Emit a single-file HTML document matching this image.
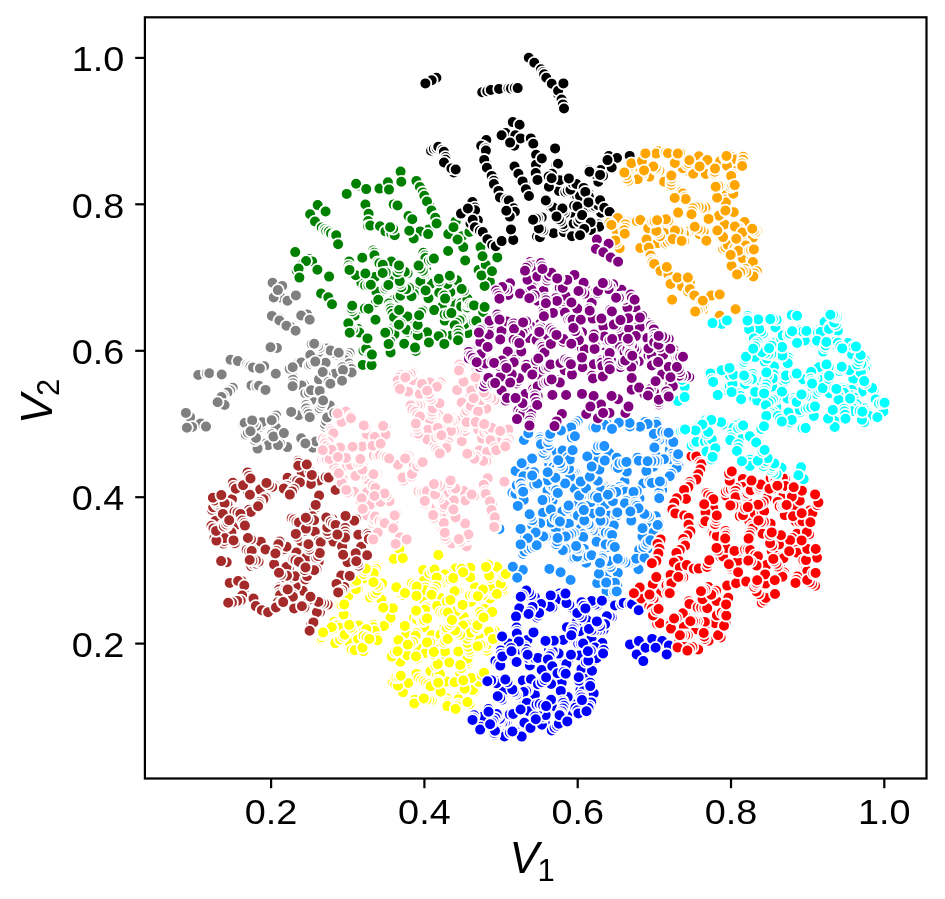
<!DOCTYPE html>
<html lang="en"><head><meta charset="utf-8"><title>V1 vs V2 cluster scatter plot</title>
<style>
html,body{margin:0;padding:0;background:#fff}
body{width:945px;height:899px;overflow:hidden;font-family:"Liberation Sans",sans-serif}
svg{display:block;font-family:"Liberation Sans",sans-serif;will-change:transform}
.tk{font-size:35.9px;fill:#000}
.lb{font-size:44.2px;font-style:italic;fill:#000}
.sb{font-size:31px;font-style:normal}
</style></head><body>
<svg width="945" height="899" viewBox="0 0 945 899" role="img" aria-label="Scatter plot of V2 against V1 coloured by cluster">
<rect width="945" height="899" fill="#fff"/>
<g class="pts" stroke="#fff" stroke-width="1.8">
<g fill="#FFFF00"><circle cx="399.4" cy="549.4" r="5.9"/><circle cx="393.9" cy="559.0" r="5.9"/><circle cx="402.8" cy="558.3" r="5.9"/><circle cx="438.3" cy="555.0" r="5.9"/><circle cx="350.4" cy="640.2" r="5.9"/><circle cx="349.7" cy="642.7" r="5.9"/><circle cx="389.5" cy="620.2" r="5.9"/><circle cx="390.6" cy="617.7" r="5.9"/><circle cx="334.4" cy="621.7" r="5.9"/><circle cx="336.9" cy="624.2" r="5.9"/><circle cx="337.5" cy="625.5" r="5.9"/><circle cx="339.7" cy="627.8" r="5.9"/><circle cx="403.0" cy="595.1" r="5.9"/><circle cx="400.2" cy="592.4" r="5.9"/><circle cx="398.7" cy="589.3" r="5.9"/><circle cx="396.3" cy="587.2" r="5.9"/><circle cx="337.3" cy="639.4" r="5.9"/><circle cx="336.3" cy="641.0" r="5.9"/><circle cx="335.3" cy="643.1" r="5.9"/><circle cx="378.0" cy="580.0" r="5.9"/><circle cx="379.5" cy="581.4" r="5.9"/><circle cx="382.0" cy="583.4" r="5.9"/><circle cx="383.9" cy="626.0" r="5.9"/><circle cx="373.5" cy="624.8" r="5.9"/><circle cx="373.4" cy="627.3" r="5.9"/><circle cx="374.5" cy="630.8" r="5.9"/><circle cx="351.7" cy="649.8" r="5.9"/><circle cx="354.8" cy="650.2" r="5.9"/><circle cx="385.4" cy="604.6" r="5.9"/><circle cx="383.2" cy="602.1" r="5.9"/><circle cx="381.5" cy="599.7" r="5.9"/><circle cx="332.5" cy="629.3" r="5.9"/><circle cx="331.7" cy="627.2" r="5.9"/><circle cx="363.9" cy="571.6" r="5.9"/><circle cx="363.6" cy="573.5" r="5.9"/><circle cx="363.9" cy="575.9" r="5.9"/><circle cx="364.7" cy="578.2" r="5.9"/><circle cx="348.2" cy="596.0" r="5.9"/><circle cx="370.2" cy="597.4" r="5.9"/><circle cx="373.0" cy="594.7" r="5.9"/><circle cx="375.4" cy="593.1" r="5.9"/><circle cx="377.1" cy="590.4" r="5.9"/><circle cx="376.2" cy="566.7" r="5.9"/><circle cx="376.0" cy="568.9" r="5.9"/><circle cx="374.1" cy="571.0" r="5.9"/><circle cx="373.7" cy="573.2" r="5.9"/><circle cx="340.1" cy="639.5" r="5.9"/><circle cx="343.1" cy="636.7" r="5.9"/><circle cx="344.7" cy="634.7" r="5.9"/><circle cx="345.7" cy="615.0" r="5.9"/><circle cx="343.7" cy="614.5" r="5.9"/><circle cx="359.0" cy="633.5" r="5.9"/><circle cx="358.3" cy="630.2" r="5.9"/><circle cx="358.8" cy="627.4" r="5.9"/><circle cx="358.9" cy="625.4" r="5.9"/><circle cx="358.0" cy="588.9" r="5.9"/><circle cx="355.9" cy="589.3" r="5.9"/><circle cx="377.9" cy="586.4" r="5.9"/><circle cx="375.9" cy="584.4" r="5.9"/><circle cx="373.4" cy="582.3" r="5.9"/><circle cx="377.7" cy="638.0" r="5.9"/><circle cx="377.4" cy="640.3" r="5.9"/><circle cx="363.6" cy="631.2" r="5.9"/><circle cx="366.4" cy="629.2" r="5.9"/><circle cx="320.5" cy="639.3" r="5.9"/><circle cx="321.6" cy="637.2" r="5.9"/><circle cx="322.3" cy="634.2" r="5.9"/><circle cx="323.1" cy="632.5" r="5.9"/><circle cx="392.9" cy="608.3" r="5.9"/><circle cx="405.0" cy="593.0" r="5.9"/><circle cx="364.0" cy="637.2" r="5.9"/><circle cx="360.8" cy="638.6" r="5.9"/><circle cx="358.1" cy="639.0" r="5.9"/><circle cx="339.5" cy="604.7" r="5.9"/><circle cx="341.6" cy="605.3" r="5.9"/><circle cx="344.2" cy="604.4" r="5.9"/><circle cx="352.2" cy="629.5" r="5.9"/><circle cx="350.6" cy="627.6" r="5.9"/><circle cx="349.2" cy="624.9" r="5.9"/><circle cx="347.4" cy="584.8" r="5.9"/><circle cx="350.5" cy="582.8" r="5.9"/><circle cx="353.4" cy="581.9" r="5.9"/><circle cx="356.4" cy="580.7" r="5.9"/><circle cx="383.3" cy="607.8" r="5.9"/><circle cx="363.9" cy="573.9" r="5.9"/><circle cx="365.0" cy="571.0" r="5.9"/><circle cx="365.9" cy="568.7" r="5.9"/><circle cx="363.4" cy="651.1" r="5.9"/><circle cx="362.5" cy="647.8" r="5.9"/><circle cx="363.5" cy="635.9" r="5.9"/><circle cx="366.6" cy="637.3" r="5.9"/><circle cx="369.4" cy="638.9" r="5.9"/><circle cx="479.4" cy="588.9" r="5.9"/><circle cx="477.1" cy="587.8" r="5.9"/><circle cx="475.1" cy="587.2" r="5.9"/><circle cx="435.5" cy="643.5" r="5.9"/><circle cx="460.2" cy="673.1" r="5.9"/><circle cx="450.4" cy="570.9" r="5.9"/><circle cx="452.7" cy="569.8" r="5.9"/><circle cx="455.6" cy="568.6" r="5.9"/><circle cx="495.0" cy="631.3" r="5.9"/><circle cx="491.7" cy="631.7" r="5.9"/><circle cx="488.8" cy="631.6" r="5.9"/><circle cx="474.4" cy="691.5" r="5.9"/><circle cx="472.8" cy="690.0" r="5.9"/><circle cx="413.4" cy="648.3" r="5.9"/><circle cx="416.2" cy="648.6" r="5.9"/><circle cx="418.7" cy="648.5" r="5.9"/><circle cx="414.6" cy="699.7" r="5.9"/><circle cx="414.3" cy="703.4" r="5.9"/><circle cx="478.5" cy="636.2" r="5.9"/><circle cx="408.4" cy="633.4" r="5.9"/><circle cx="406.4" cy="634.4" r="5.9"/><circle cx="428.6" cy="647.9" r="5.9"/><circle cx="426.9" cy="650.9" r="5.9"/><circle cx="425.7" cy="653.0" r="5.9"/><circle cx="458.7" cy="590.3" r="5.9"/><circle cx="456.9" cy="590.9" r="5.9"/><circle cx="454.6" cy="591.3" r="5.9"/><circle cx="441.1" cy="601.9" r="5.9"/><circle cx="440.3" cy="599.6" r="5.9"/><circle cx="440.4" cy="597.9" r="5.9"/><circle cx="402.9" cy="692.2" r="5.9"/><circle cx="447.3" cy="698.5" r="5.9"/><circle cx="447.5" cy="701.9" r="5.9"/><circle cx="447.2" cy="704.0" r="5.9"/><circle cx="447.4" cy="706.1" r="5.9"/><circle cx="461.2" cy="650.6" r="5.9"/><circle cx="458.4" cy="651.4" r="5.9"/><circle cx="431.7" cy="700.6" r="5.9"/><circle cx="429.3" cy="699.8" r="5.9"/><circle cx="426.6" cy="699.6" r="5.9"/><circle cx="423.8" cy="698.5" r="5.9"/><circle cx="484.9" cy="611.7" r="5.9"/><circle cx="484.6" cy="608.9" r="5.9"/><circle cx="425.6" cy="603.7" r="5.9"/><circle cx="424.6" cy="600.9" r="5.9"/><circle cx="446.5" cy="681.6" r="5.9"/><circle cx="490.1" cy="598.4" r="5.9"/><circle cx="493.7" cy="571.9" r="5.9"/><circle cx="495.0" cy="569.4" r="5.9"/><circle cx="497.2" cy="567.0" r="5.9"/><circle cx="444.4" cy="658.1" r="5.9"/><circle cx="445.3" cy="654.6" r="5.9"/><circle cx="445.0" cy="651.5" r="5.9"/><circle cx="479.0" cy="681.9" r="5.9"/><circle cx="487.0" cy="650.8" r="5.9"/><circle cx="486.5" cy="647.7" r="5.9"/><circle cx="486.8" cy="644.6" r="5.9"/><circle cx="468.8" cy="574.3" r="5.9"/><circle cx="468.8" cy="571.2" r="5.9"/><circle cx="470.3" cy="567.8" r="5.9"/><circle cx="424.1" cy="627.2" r="5.9"/><circle cx="470.2" cy="577.3" r="5.9"/><circle cx="454.6" cy="682.2" r="5.9"/><circle cx="459.9" cy="696.6" r="5.9"/><circle cx="458.6" cy="699.2" r="5.9"/><circle cx="468.0" cy="663.5" r="5.9"/><circle cx="467.7" cy="661.0" r="5.9"/><circle cx="467.6" cy="658.5" r="5.9"/><circle cx="454.2" cy="618.8" r="5.9"/><circle cx="458.0" cy="618.2" r="5.9"/><circle cx="461.1" cy="617.9" r="5.9"/><circle cx="463.9" cy="617.0" r="5.9"/><circle cx="418.8" cy="675.0" r="5.9"/><circle cx="416.5" cy="673.9" r="5.9"/><circle cx="437.7" cy="638.4" r="5.9"/><circle cx="434.8" cy="636.7" r="5.9"/><circle cx="431.7" cy="635.2" r="5.9"/><circle cx="492.0" cy="592.9" r="5.9"/><circle cx="491.5" cy="590.5" r="5.9"/><circle cx="491.9" cy="589.1" r="5.9"/><circle cx="492.1" cy="586.5" r="5.9"/><circle cx="408.1" cy="683.0" r="5.9"/><circle cx="430.6" cy="671.1" r="5.9"/><circle cx="427.2" cy="606.3" r="5.9"/><circle cx="426.0" cy="607.5" r="5.9"/><circle cx="425.0" cy="609.8" r="5.9"/><circle cx="449.3" cy="662.5" r="5.9"/><circle cx="423.2" cy="570.0" r="5.9"/><circle cx="400.5" cy="661.7" r="5.9"/><circle cx="414.0" cy="617.7" r="5.9"/><circle cx="417.2" cy="619.8" r="5.9"/><circle cx="418.5" cy="678.0" r="5.9"/><circle cx="421.3" cy="680.1" r="5.9"/><circle cx="423.8" cy="681.2" r="5.9"/><circle cx="437.0" cy="675.5" r="5.9"/><circle cx="439.9" cy="674.1" r="5.9"/><circle cx="465.4" cy="679.1" r="5.9"/><circle cx="468.9" cy="678.8" r="5.9"/><circle cx="471.5" cy="678.0" r="5.9"/><circle cx="426.0" cy="683.1" r="5.9"/><circle cx="428.5" cy="684.5" r="5.9"/><circle cx="430.7" cy="686.3" r="5.9"/><circle cx="504.1" cy="590.7" r="5.9"/><circle cx="502.6" cy="589.0" r="5.9"/><circle cx="502.3" cy="586.0" r="5.9"/><circle cx="500.7" cy="583.6" r="5.9"/><circle cx="416.4" cy="633.3" r="5.9"/><circle cx="415.6" cy="635.7" r="5.9"/><circle cx="469.8" cy="652.2" r="5.9"/><circle cx="469.3" cy="649.8" r="5.9"/><circle cx="468.4" cy="646.7" r="5.9"/><circle cx="467.4" cy="642.9" r="5.9"/><circle cx="391.7" cy="656.6" r="5.9"/><circle cx="471.0" cy="601.7" r="5.9"/><circle cx="482.5" cy="595.3" r="5.9"/><circle cx="482.1" cy="591.8" r="5.9"/><circle cx="482.9" cy="589.5" r="5.9"/><circle cx="437.2" cy="605.9" r="5.9"/><circle cx="447.1" cy="578.2" r="5.9"/><circle cx="444.8" cy="580.4" r="5.9"/><circle cx="442.9" cy="583.3" r="5.9"/><circle cx="489.8" cy="578.2" r="5.9"/><circle cx="489.2" cy="575.6" r="5.9"/><circle cx="471.4" cy="623.8" r="5.9"/><circle cx="468.0" cy="623.9" r="5.9"/><circle cx="465.9" cy="624.8" r="5.9"/><circle cx="463.1" cy="625.6" r="5.9"/><circle cx="457.9" cy="704.4" r="5.9"/><circle cx="457.0" cy="706.4" r="5.9"/><circle cx="455.6" cy="708.9" r="5.9"/><circle cx="418.6" cy="614.6" r="5.9"/><circle cx="417.2" cy="612.3" r="5.9"/><circle cx="416.2" cy="610.7" r="5.9"/><circle cx="440.7" cy="691.8" r="5.9"/><circle cx="458.2" cy="609.8" r="5.9"/><circle cx="456.3" cy="611.3" r="5.9"/><circle cx="467.2" cy="638.8" r="5.9"/><circle cx="469.5" cy="635.4" r="5.9"/><circle cx="470.6" cy="632.8" r="5.9"/><circle cx="442.5" cy="629.6" r="5.9"/><circle cx="441.0" cy="632.8" r="5.9"/><circle cx="440.5" cy="634.8" r="5.9"/><circle cx="435.6" cy="665.8" r="5.9"/><circle cx="437.7" cy="664.1" r="5.9"/><circle cx="404.8" cy="625.9" r="5.9"/><circle cx="464.8" cy="688.8" r="5.9"/><circle cx="446.8" cy="601.6" r="5.9"/><circle cx="450.4" cy="600.0" r="5.9"/><circle cx="401.1" cy="642.5" r="5.9"/><circle cx="398.5" cy="640.3" r="5.9"/><circle cx="430.7" cy="582.8" r="5.9"/><circle cx="428.1" cy="582.5" r="5.9"/><circle cx="426.2" cy="581.8" r="5.9"/><circle cx="423.9" cy="580.8" r="5.9"/><circle cx="446.0" cy="633.5" r="5.9"/><circle cx="446.2" cy="630.8" r="5.9"/><circle cx="447.0" cy="628.0" r="5.9"/><circle cx="481.7" cy="675.1" r="5.9"/><circle cx="484.0" cy="672.7" r="5.9"/><circle cx="443.9" cy="642.8" r="5.9"/><circle cx="445.4" cy="640.7" r="5.9"/><circle cx="447.8" cy="638.9" r="5.9"/><circle cx="400.7" cy="650.5" r="5.9"/><circle cx="403.1" cy="652.0" r="5.9"/><circle cx="405.3" cy="653.6" r="5.9"/><circle cx="407.2" cy="655.2" r="5.9"/><circle cx="417.2" cy="658.5" r="5.9"/><circle cx="416.0" cy="656.4" r="5.9"/><circle cx="425.1" cy="587.4" r="5.9"/><circle cx="424.9" cy="590.2" r="5.9"/><circle cx="395.1" cy="651.9" r="5.9"/><circle cx="397.6" cy="651.2" r="5.9"/><circle cx="430.0" cy="642.1" r="5.9"/><circle cx="427.1" cy="642.4" r="5.9"/><circle cx="492.2" cy="611.9" r="5.9"/><circle cx="440.4" cy="612.3" r="5.9"/><circle cx="442.9" cy="613.0" r="5.9"/><circle cx="445.1" cy="612.1" r="5.9"/><circle cx="447.9" cy="612.5" r="5.9"/><circle cx="392.7" cy="683.0" r="5.9"/><circle cx="395.2" cy="684.4" r="5.9"/><circle cx="398.0" cy="685.7" r="5.9"/><circle cx="429.4" cy="573.3" r="5.9"/><circle cx="432.4" cy="571.0" r="5.9"/><circle cx="434.6" cy="569.6" r="5.9"/><circle cx="396.4" cy="677.4" r="5.9"/><circle cx="399.0" cy="677.1" r="5.9"/><circle cx="400.8" cy="675.7" r="5.9"/><circle cx="469.5" cy="704.2" r="5.9"/><circle cx="467.5" cy="702.1" r="5.9"/><circle cx="482.7" cy="644.8" r="5.9"/><circle cx="480.3" cy="645.0" r="5.9"/><circle cx="477.7" cy="646.2" r="5.9"/><circle cx="447.1" cy="573.5" r="5.9"/><circle cx="444.7" cy="574.6" r="5.9"/><circle cx="461.7" cy="568.7" r="5.9"/><circle cx="463.1" cy="572.2" r="5.9"/><circle cx="441.8" cy="582.5" r="5.9"/><circle cx="440.5" cy="580.3" r="5.9"/><circle cx="438.8" cy="578.5" r="5.9"/><circle cx="436.8" cy="577.5" r="5.9"/><circle cx="433.5" cy="654.2" r="5.9"/><circle cx="433.9" cy="652.0" r="5.9"/><circle cx="422.6" cy="621.1" r="5.9"/><circle cx="424.3" cy="620.3" r="5.9"/><circle cx="427.1" cy="618.4" r="5.9"/><circle cx="476.9" cy="629.2" r="5.9"/><circle cx="476.4" cy="627.9" r="5.9"/><circle cx="477.6" cy="625.2" r="5.9"/><circle cx="461.2" cy="668.1" r="5.9"/><circle cx="460.3" cy="664.9" r="5.9"/><circle cx="461.7" cy="606.8" r="5.9"/><circle cx="462.6" cy="604.9" r="5.9"/><circle cx="470.0" cy="595.5" r="5.9"/><circle cx="473.2" cy="595.2" r="5.9"/><circle cx="475.9" cy="595.7" r="5.9"/><circle cx="477.8" cy="596.3" r="5.9"/><circle cx="487.9" cy="564.4" r="5.9"/><circle cx="486.0" cy="566.9" r="5.9"/><circle cx="411.9" cy="583.4" r="5.9"/><circle cx="414.3" cy="585.2" r="5.9"/><circle cx="416.7" cy="586.5" r="5.9"/><circle cx="450.7" cy="579.3" r="5.9"/><circle cx="453.2" cy="578.1" r="5.9"/><circle cx="496.9" cy="594.0" r="5.9"/><circle cx="480.0" cy="612.0" r="5.9"/><circle cx="481.3" cy="615.0" r="5.9"/><circle cx="483.6" cy="617.5" r="5.9"/><circle cx="413.0" cy="641.9" r="5.9"/><circle cx="410.4" cy="644.0" r="5.9"/><circle cx="407.8" cy="644.8" r="5.9"/><circle cx="463.3" cy="680.5" r="5.9"/><circle cx="503.7" cy="575.5" r="5.9"/><circle cx="505.8" cy="574.0" r="5.9"/><circle cx="498.4" cy="643.9" r="5.9"/><circle cx="496.6" cy="641.9" r="5.9"/><circle cx="495.0" cy="640.1" r="5.9"/><circle cx="493.0" cy="638.9" r="5.9"/><circle cx="437.6" cy="680.7" r="5.9"/><circle cx="438.2" cy="682.7" r="5.9"/><circle cx="460.2" cy="634.8" r="5.9"/><circle cx="457.1" cy="632.6" r="5.9"/><circle cx="455.0" cy="630.4" r="5.9"/><circle cx="416.5" cy="595.9" r="5.9"/><circle cx="449.6" cy="625.1" r="5.9"/><circle cx="451.4" cy="622.7" r="5.9"/><circle cx="452.0" cy="620.0" r="5.9"/><circle cx="436.1" cy="586.5" r="5.9"/><circle cx="434.2" cy="589.6" r="5.9"/><circle cx="432.6" cy="591.9" r="5.9"/><circle cx="431.6" cy="594.8" r="5.9"/></g>
<g fill="#008000"><circle cx="317.7" cy="205.1" r="5.9"/><circle cx="325.3" cy="211.5" r="5.9"/><circle cx="325.6" cy="211.5" r="5.9"/><circle cx="310.1" cy="214.3" r="5.9"/><circle cx="315.0" cy="221.5" r="5.9"/><circle cx="324.8" cy="229.7" r="5.9"/><circle cx="321.7" cy="227.6" r="5.9"/><circle cx="324.7" cy="229.2" r="5.9"/><circle cx="326.3" cy="231.1" r="5.9"/><circle cx="328.9" cy="231.5" r="5.9"/><circle cx="331.1" cy="233.4" r="5.9"/><circle cx="334.6" cy="234.9" r="5.9"/><circle cx="336.2" cy="235.3" r="5.9"/><circle cx="338.1" cy="244.5" r="5.9"/><circle cx="338.1" cy="244.3" r="5.9"/><circle cx="358.6" cy="185.6" r="5.9"/><circle cx="356.1" cy="183.7" r="5.9"/><circle cx="366.2" cy="189.1" r="5.9"/><circle cx="346.7" cy="193.9" r="5.9"/><circle cx="366.2" cy="207.6" r="5.9"/><circle cx="365.4" cy="204.5" r="5.9"/><circle cx="368.6" cy="213.7" r="5.9"/><circle cx="368.2" cy="221.0" r="5.9"/><circle cx="368.0" cy="226.0" r="5.9"/><circle cx="370.3" cy="225.6" r="5.9"/><circle cx="382.0" cy="228.0" r="5.9"/><circle cx="380.0" cy="226.2" r="5.9"/><circle cx="390.9" cy="233.6" r="5.9"/><circle cx="389.0" cy="233.4" r="5.9"/><circle cx="385.5" cy="231.4" r="5.9"/><circle cx="391.4" cy="233.6" r="5.9"/><circle cx="394.7" cy="235.2" r="5.9"/><circle cx="393.2" cy="228.8" r="5.9"/><circle cx="390.1" cy="227.3" r="5.9"/><circle cx="383.7" cy="186.5" r="5.9"/><circle cx="379.5" cy="188.6" r="5.9"/><circle cx="387.9" cy="182.2" r="5.9"/><circle cx="389.0" cy="189.6" r="5.9"/><circle cx="400.6" cy="171.6" r="5.9"/><circle cx="401.3" cy="181.8" r="5.9"/><circle cx="418.2" cy="183.5" r="5.9"/><circle cx="416.4" cy="180.9" r="5.9"/><circle cx="422.0" cy="192.1" r="5.9"/><circle cx="421.1" cy="190.9" r="5.9"/><circle cx="419.9" cy="187.0" r="5.9"/><circle cx="422.8" cy="192.4" r="5.9"/><circle cx="424.3" cy="195.8" r="5.9"/><circle cx="429.4" cy="205.4" r="5.9"/><circle cx="427.0" cy="201.5" r="5.9"/><circle cx="431.5" cy="210.6" r="5.9"/><circle cx="436.0" cy="217.0" r="5.9"/><circle cx="436.0" cy="217.2" r="5.9"/><circle cx="435.3" cy="217.7" r="5.9"/><circle cx="428.8" cy="228.5" r="5.9"/><circle cx="429.0" cy="228.5" r="5.9"/><circle cx="428.7" cy="229.4" r="5.9"/><circle cx="420.1" cy="231.4" r="5.9"/><circle cx="413.7" cy="238.5" r="5.9"/><circle cx="409.1" cy="230.5" r="5.9"/><circle cx="409.1" cy="231.1" r="5.9"/><circle cx="409.3" cy="230.7" r="5.9"/><circle cx="428.1" cy="234.1" r="5.9"/><circle cx="436.6" cy="223.5" r="5.9"/><circle cx="393.7" cy="204.4" r="5.9"/><circle cx="397.5" cy="205.5" r="5.9"/><circle cx="408.5" cy="216.1" r="5.9"/><circle cx="412.3" cy="219.3" r="5.9"/><circle cx="295.2" cy="252.1" r="5.9"/><circle cx="309.7" cy="258.9" r="5.9"/><circle cx="312.1" cy="261.4" r="5.9"/><circle cx="302.4" cy="264.5" r="5.9"/><circle cx="302.8" cy="264.1" r="5.9"/><circle cx="306.1" cy="261.1" r="5.9"/><circle cx="296.7" cy="270.4" r="5.9"/><circle cx="298.6" cy="268.6" r="5.9"/><circle cx="299.4" cy="277.6" r="5.9"/><circle cx="317.4" cy="269.7" r="5.9"/><circle cx="329.9" cy="275.8" r="5.9"/><circle cx="329.1" cy="276.6" r="5.9"/><circle cx="321.5" cy="294.1" r="5.9"/><circle cx="321.8" cy="294.0" r="5.9"/><circle cx="321.1" cy="293.5" r="5.9"/><circle cx="330.0" cy="301.1" r="5.9"/><circle cx="329.1" cy="299.9" r="5.9"/><circle cx="328.3" cy="297.3" r="5.9"/><circle cx="332.1" cy="304.2" r="5.9"/><circle cx="332.0" cy="304.3" r="5.9"/><circle cx="448.3" cy="234.1" r="5.9"/><circle cx="455.7" cy="221.4" r="5.9"/><circle cx="453.5" cy="227.3" r="5.9"/><circle cx="462.0" cy="236.2" r="5.9"/><circle cx="469.4" cy="232.0" r="5.9"/><circle cx="378.1" cy="274.6" r="5.9"/><circle cx="375.0" cy="276.9" r="5.9"/><circle cx="362.8" cy="280.4" r="5.9"/><circle cx="361.4" cy="282.7" r="5.9"/><circle cx="349.2" cy="261.5" r="5.9"/><circle cx="362.3" cy="257.7" r="5.9"/><circle cx="394.8" cy="298.8" r="5.9"/><circle cx="397.9" cy="297.4" r="5.9"/><circle cx="400.5" cy="295.7" r="5.9"/><circle cx="373.2" cy="250.6" r="5.9"/><circle cx="374.2" cy="252.8" r="5.9"/><circle cx="374.4" cy="255.3" r="5.9"/><circle cx="407.6" cy="273.3" r="5.9"/><circle cx="404.8" cy="271.9" r="5.9"/><circle cx="390.8" cy="264.2" r="5.9"/><circle cx="391.4" cy="261.6" r="5.9"/><circle cx="415.1" cy="290.4" r="5.9"/><circle cx="413.7" cy="293.5" r="5.9"/><circle cx="411.5" cy="296.2" r="5.9"/><circle cx="384.4" cy="270.4" r="5.9"/><circle cx="386.9" cy="271.7" r="5.9"/><circle cx="389.2" cy="273.3" r="5.9"/><circle cx="391.4" cy="275.7" r="5.9"/><circle cx="409.0" cy="287.7" r="5.9"/><circle cx="406.2" cy="289.1" r="5.9"/><circle cx="379.3" cy="293.2" r="5.9"/><circle cx="376.3" cy="291.4" r="5.9"/><circle cx="385.3" cy="288.6" r="5.9"/><circle cx="386.6" cy="286.7" r="5.9"/><circle cx="388.4" cy="285.0" r="5.9"/><circle cx="401.3" cy="287.2" r="5.9"/><circle cx="400.2" cy="283.6" r="5.9"/><circle cx="399.7" cy="281.1" r="5.9"/><circle cx="355.7" cy="275.2" r="5.9"/><circle cx="377.7" cy="262.2" r="5.9"/><circle cx="379.4" cy="263.3" r="5.9"/><circle cx="382.8" cy="264.8" r="5.9"/><circle cx="365.1" cy="285.5" r="5.9"/><circle cx="368.5" cy="285.4" r="5.9"/><circle cx="370.8" cy="284.8" r="5.9"/><circle cx="348.6" cy="265.5" r="5.9"/><circle cx="349.6" cy="268.0" r="5.9"/><circle cx="349.5" cy="269.9" r="5.9"/><circle cx="365.4" cy="273.5" r="5.9"/><circle cx="385.7" cy="272.5" r="5.9"/><circle cx="382.7" cy="273.0" r="5.9"/><circle cx="397.6" cy="272.2" r="5.9"/><circle cx="399.0" cy="268.6" r="5.9"/><circle cx="399.0" cy="265.4" r="5.9"/><circle cx="376.0" cy="302.2" r="5.9"/><circle cx="378.3" cy="299.7" r="5.9"/><circle cx="369.9" cy="364.2" r="5.9"/><circle cx="367.3" cy="364.9" r="5.9"/><circle cx="365.3" cy="364.6" r="5.9"/><circle cx="362.8" cy="364.9" r="5.9"/><circle cx="360.3" cy="308.9" r="5.9"/><circle cx="375.5" cy="319.8" r="5.9"/><circle cx="363.5" cy="350.6" r="5.9"/><circle cx="366.1" cy="348.9" r="5.9"/><circle cx="371.6" cy="365.1" r="5.9"/><circle cx="354.6" cy="315.7" r="5.9"/><circle cx="358.0" cy="329.0" r="5.9"/><circle cx="359.3" cy="332.6" r="5.9"/><circle cx="353.0" cy="329.7" r="5.9"/><circle cx="350.8" cy="327.8" r="5.9"/><circle cx="349.6" cy="324.9" r="5.9"/><circle cx="348.3" cy="323.2" r="5.9"/><circle cx="362.3" cy="309.4" r="5.9"/><circle cx="364.9" cy="308.6" r="5.9"/><circle cx="368.5" cy="308.8" r="5.9"/><circle cx="352.3" cy="311.3" r="5.9"/><circle cx="351.6" cy="308.5" r="5.9"/><circle cx="352.2" cy="305.8" r="5.9"/><circle cx="367.5" cy="338.4" r="5.9"/><circle cx="370.2" cy="354.7" r="5.9"/><circle cx="371.9" cy="354.6" r="5.9"/><circle cx="349.7" cy="332.7" r="5.9"/><circle cx="412.7" cy="320.8" r="5.9"/><circle cx="410.0" cy="317.9" r="5.9"/><circle cx="407.4" cy="316.4" r="5.9"/><circle cx="393.1" cy="328.4" r="5.9"/><circle cx="393.8" cy="330.6" r="5.9"/><circle cx="394.5" cy="334.3" r="5.9"/><circle cx="404.2" cy="343.7" r="5.9"/><circle cx="388.9" cy="303.5" r="5.9"/><circle cx="390.0" cy="306.6" r="5.9"/><circle cx="390.5" cy="308.4" r="5.9"/><circle cx="390.0" cy="349.6" r="5.9"/><circle cx="390.6" cy="352.4" r="5.9"/><circle cx="391.2" cy="311.1" r="5.9"/><circle cx="392.6" cy="313.8" r="5.9"/><circle cx="394.0" cy="317.2" r="5.9"/><circle cx="399.1" cy="310.0" r="5.9"/><circle cx="390.1" cy="341.4" r="5.9"/><circle cx="388.6" cy="344.1" r="5.9"/><circle cx="388.0" cy="331.8" r="5.9"/><circle cx="385.3" cy="332.7" r="5.9"/><circle cx="407.5" cy="331.9" r="5.9"/><circle cx="406.5" cy="329.7" r="5.9"/><circle cx="415.8" cy="351.0" r="5.9"/><circle cx="415.0" cy="347.6" r="5.9"/><circle cx="400.4" cy="323.3" r="5.9"/><circle cx="398.9" cy="324.8" r="5.9"/><circle cx="483.1" cy="312.0" r="5.9"/><circle cx="426.4" cy="282.4" r="5.9"/><circle cx="428.9" cy="283.4" r="5.9"/><circle cx="431.0" cy="283.7" r="5.9"/><circle cx="451.6" cy="335.4" r="5.9"/><circle cx="456.2" cy="282.1" r="5.9"/><circle cx="456.9" cy="280.2" r="5.9"/><circle cx="452.7" cy="302.7" r="5.9"/><circle cx="461.4" cy="303.0" r="5.9"/><circle cx="461.2" cy="306.4" r="5.9"/><circle cx="445.1" cy="301.7" r="5.9"/><circle cx="443.3" cy="304.6" r="5.9"/><circle cx="441.8" cy="306.9" r="5.9"/><circle cx="426.1" cy="268.3" r="5.9"/><circle cx="467.5" cy="307.4" r="5.9"/><circle cx="467.9" cy="304.5" r="5.9"/><circle cx="467.7" cy="301.3" r="5.9"/><circle cx="467.4" cy="298.7" r="5.9"/><circle cx="470.3" cy="332.9" r="5.9"/><circle cx="467.7" cy="333.1" r="5.9"/><circle cx="449.5" cy="295.2" r="5.9"/><circle cx="450.4" cy="292.3" r="5.9"/><circle cx="423.4" cy="252.8" r="5.9"/><circle cx="424.9" cy="255.5" r="5.9"/><circle cx="425.4" cy="258.1" r="5.9"/><circle cx="446.7" cy="319.3" r="5.9"/><circle cx="444.8" cy="320.6" r="5.9"/><circle cx="443.1" cy="283.8" r="5.9"/><circle cx="441.3" cy="286.9" r="5.9"/><circle cx="440.7" cy="290.0" r="5.9"/><circle cx="439.2" cy="292.8" r="5.9"/><circle cx="446.3" cy="280.8" r="5.9"/><circle cx="447.4" cy="284.0" r="5.9"/><circle cx="439.3" cy="281.4" r="5.9"/><circle cx="438.9" cy="278.8" r="5.9"/><circle cx="471.4" cy="321.3" r="5.9"/><circle cx="469.6" cy="321.7" r="5.9"/><circle cx="467.0" cy="323.6" r="5.9"/><circle cx="464.6" cy="324.3" r="5.9"/><circle cx="427.1" cy="332.3" r="5.9"/><circle cx="441.7" cy="334.6" r="5.9"/><circle cx="438.6" cy="336.3" r="5.9"/><circle cx="428.5" cy="298.3" r="5.9"/><circle cx="424.8" cy="273.8" r="5.9"/><circle cx="424.0" cy="276.4" r="5.9"/><circle cx="421.9" cy="278.8" r="5.9"/><circle cx="420.3" cy="281.2" r="5.9"/><circle cx="444.2" cy="295.5" r="5.9"/><circle cx="445.1" cy="298.6" r="5.9"/><circle cx="444.3" cy="343.9" r="5.9"/><circle cx="463.7" cy="290.6" r="5.9"/><circle cx="461.7" cy="289.0" r="5.9"/><circle cx="415.7" cy="333.9" r="5.9"/><circle cx="417.8" cy="335.5" r="5.9"/><circle cx="474.2" cy="321.8" r="5.9"/><circle cx="476.3" cy="321.0" r="5.9"/><circle cx="417.1" cy="327.3" r="5.9"/><circle cx="417.7" cy="325.0" r="5.9"/><circle cx="469.9" cy="304.2" r="5.9"/><circle cx="471.8" cy="305.2" r="5.9"/><circle cx="474.0" cy="305.4" r="5.9"/><circle cx="461.3" cy="318.9" r="5.9"/><circle cx="459.5" cy="320.4" r="5.9"/><circle cx="456.7" cy="322.7" r="5.9"/><circle cx="454.7" cy="325.2" r="5.9"/><circle cx="428.9" cy="342.5" r="5.9"/><circle cx="422.8" cy="310.8" r="5.9"/><circle cx="421.1" cy="312.6" r="5.9"/><circle cx="419.1" cy="315.3" r="5.9"/><circle cx="434.2" cy="310.1" r="5.9"/><circle cx="428.8" cy="261.1" r="5.9"/><circle cx="431.7" cy="260.1" r="5.9"/><circle cx="433.9" cy="258.6" r="5.9"/><circle cx="444.7" cy="314.4" r="5.9"/><circle cx="448.1" cy="314.0" r="5.9"/><circle cx="451.4" cy="313.1" r="5.9"/><circle cx="458.6" cy="330.6" r="5.9"/><circle cx="458.0" cy="333.5" r="5.9"/><circle cx="458.5" cy="336.6" r="5.9"/><circle cx="458.0" cy="340.3" r="5.9"/><circle cx="423.7" cy="272.5" r="5.9"/><circle cx="422.7" cy="270.7" r="5.9"/><circle cx="420.4" cy="268.4" r="5.9"/><circle cx="418.6" cy="265.6" r="5.9"/><circle cx="425.6" cy="290.5" r="5.9"/><circle cx="450.5" cy="277.6" r="5.9"/><circle cx="449.8" cy="275.7" r="5.9"/><circle cx="448.1" cy="251.0" r="5.9"/><circle cx="463.3" cy="247.1" r="5.9"/><circle cx="465.2" cy="260.5" r="5.9"/><circle cx="480.5" cy="247.1" r="5.9"/><circle cx="478.6" cy="270.0" r="5.9"/><circle cx="491.0" cy="281.4" r="5.9"/><circle cx="484.3" cy="285.2" r="5.9"/><circle cx="497.6" cy="256.7" r="5.9"/><circle cx="457.6" cy="239.5" r="5.9"/></g>
<g fill="#808080"><circle cx="283.2" cy="286.3" r="5.9"/><circle cx="295.9" cy="295.4" r="5.9"/><circle cx="288.5" cy="299.7" r="5.9"/><circle cx="281.1" cy="297.6" r="5.9"/><circle cx="306.5" cy="314.5" r="5.9"/><circle cx="301.2" cy="316.6" r="5.9"/><circle cx="309.6" cy="320.8" r="5.9"/><circle cx="286.3" cy="325.1" r="5.9"/><circle cx="294.8" cy="329.3" r="5.9"/><circle cx="280.0" cy="318.7" r="5.9"/><circle cx="318.1" cy="347.3" r="5.9"/><circle cx="326.6" cy="348.4" r="5.9"/><circle cx="311.7" cy="344.1" r="5.9"/></g>
<g fill="#008000"><circle cx="485.7" cy="264.8" r="5.9"/><circle cx="497.3" cy="257.4" r="5.9"/><circle cx="489.9" cy="281.7" r="5.9"/><circle cx="484.6" cy="286.0" r="5.9"/><circle cx="484.6" cy="307.1" r="5.9"/><circle cx="481.5" cy="275.4" r="5.9"/><circle cx="492.0" cy="271.2" r="5.9"/><circle cx="482.5" cy="256.3" r="5.9"/></g>
<g fill="#808080"><circle cx="272.6" cy="282.7" r="5.9"/><circle cx="282.2" cy="285.9" r="5.9"/><circle cx="273.7" cy="297.5" r="5.9"/><circle cx="287.5" cy="300.7" r="5.9"/><circle cx="295.9" cy="295.4" r="5.9"/><circle cx="277.9" cy="290.1" r="5.9"/><circle cx="307.1" cy="314.4" r="5.9"/><circle cx="301.2" cy="315.5" r="5.9"/><circle cx="309.7" cy="319.7" r="5.9"/><circle cx="276.9" cy="347.9" r="5.9"/><circle cx="270.5" cy="347.2" r="5.9"/><circle cx="272.3" cy="316.6" r="5.9"/><circle cx="271.9" cy="315.9" r="5.9"/><circle cx="285.1" cy="324.7" r="5.9"/><circle cx="282.3" cy="323.1" r="5.9"/><circle cx="279.4" cy="320.5" r="5.9"/><circle cx="290.7" cy="327.1" r="5.9"/><circle cx="286.4" cy="325.8" r="5.9"/><circle cx="295.6" cy="330.8" r="5.9"/><circle cx="231.0" cy="358.9" r="5.9"/><circle cx="230.5" cy="359.8" r="5.9"/><circle cx="237.9" cy="361.1" r="5.9"/><circle cx="249.1" cy="365.1" r="5.9"/><circle cx="246.8" cy="364.8" r="5.9"/><circle cx="248.7" cy="365.8" r="5.9"/><circle cx="250.6" cy="366.3" r="5.9"/><circle cx="253.0" cy="367.4" r="5.9"/><circle cx="264.2" cy="366.3" r="5.9"/><circle cx="275.8" cy="373.7" r="5.9"/><circle cx="259.9" cy="368.4" r="5.9"/><circle cx="204.9" cy="373.4" r="5.9"/><circle cx="201.6" cy="373.9" r="5.9"/><circle cx="198.3" cy="375.0" r="5.9"/><circle cx="206.8" cy="373.3" r="5.9"/><circle cx="209.3" cy="373.2" r="5.9"/><circle cx="220.4" cy="374.3" r="5.9"/><circle cx="221.7" cy="374.5" r="5.9"/><circle cx="251.9" cy="385.2" r="5.9"/><circle cx="250.6" cy="385.5" r="5.9"/><circle cx="251.5" cy="385.4" r="5.9"/><circle cx="256.7" cy="386.4" r="5.9"/><circle cx="259.0" cy="385.7" r="5.9"/><circle cx="264.7" cy="389.9" r="5.9"/><circle cx="265.5" cy="389.9" r="5.9"/><circle cx="232.9" cy="388.5" r="5.9"/><circle cx="232.7" cy="387.7" r="5.9"/><circle cx="230.1" cy="390.6" r="5.9"/><circle cx="227.4" cy="392.4" r="5.9"/><circle cx="223.1" cy="395.8" r="5.9"/><circle cx="221.4" cy="397.0" r="5.9"/><circle cx="224.6" cy="405.0" r="5.9"/><circle cx="217.6" cy="402.3" r="5.9"/><circle cx="190.1" cy="417.1" r="5.9"/><circle cx="200.7" cy="423.4" r="5.9"/><circle cx="192.2" cy="427.0" r="5.9"/><circle cx="185.9" cy="412.9" r="5.9"/><circle cx="206.0" cy="426.6" r="5.9"/><circle cx="186.9" cy="427.7" r="5.9"/><circle cx="318.5" cy="352.3" r="5.9"/><circle cx="299.0" cy="362.5" r="5.9"/><circle cx="301.4" cy="362.4" r="5.9"/><circle cx="304.1" cy="384.7" r="5.9"/><circle cx="301.5" cy="385.4" r="5.9"/><circle cx="293.3" cy="377.4" r="5.9"/><circle cx="292.8" cy="379.6" r="5.9"/><circle cx="293.0" cy="383.3" r="5.9"/><circle cx="292.6" cy="386.2" r="5.9"/><circle cx="319.9" cy="381.7" r="5.9"/><circle cx="319.0" cy="379.4" r="5.9"/><circle cx="323.2" cy="364.3" r="5.9"/><circle cx="325.6" cy="362.8" r="5.9"/><circle cx="310.3" cy="355.1" r="5.9"/><circle cx="308.7" cy="366.2" r="5.9"/><circle cx="349.7" cy="353.1" r="5.9"/><circle cx="347.6" cy="355.4" r="5.9"/><circle cx="345.9" cy="357.8" r="5.9"/><circle cx="344.7" cy="359.9" r="5.9"/><circle cx="305.3" cy="393.2" r="5.9"/><circle cx="308.8" cy="392.5" r="5.9"/><circle cx="311.1" cy="390.2" r="5.9"/><circle cx="332.3" cy="377.7" r="5.9"/><circle cx="334.0" cy="375.2" r="5.9"/><circle cx="334.7" cy="373.7" r="5.9"/><circle cx="289.7" cy="368.8" r="5.9"/><circle cx="292.7" cy="367.3" r="5.9"/><circle cx="308.9" cy="365.2" r="5.9"/><circle cx="310.9" cy="364.3" r="5.9"/><circle cx="313.6" cy="362.7" r="5.9"/><circle cx="315.3" cy="361.6" r="5.9"/><circle cx="338.6" cy="355.4" r="5.9"/><circle cx="336.1" cy="354.6" r="5.9"/><circle cx="333.9" cy="352.9" r="5.9"/><circle cx="330.5" cy="350.6" r="5.9"/><circle cx="349.0" cy="363.5" r="5.9"/><circle cx="350.4" cy="367.1" r="5.9"/><circle cx="351.3" cy="369.1" r="5.9"/><circle cx="351.6" cy="372.5" r="5.9"/><circle cx="325.5" cy="374.7" r="5.9"/><circle cx="322.7" cy="372.1" r="5.9"/><circle cx="342.3" cy="367.3" r="5.9"/><circle cx="343.0" cy="370.1" r="5.9"/><circle cx="328.6" cy="381.9" r="5.9"/><circle cx="330.4" cy="383.8" r="5.9"/><circle cx="342.1" cy="380.8" r="5.9"/><circle cx="319.7" cy="390.9" r="5.9"/><circle cx="319.5" cy="348.3" r="5.9"/><circle cx="318.1" cy="346.1" r="5.9"/><circle cx="315.9" cy="344.4" r="5.9"/><circle cx="314.2" cy="343.7" r="5.9"/><circle cx="338.7" cy="352.7" r="5.9"/><circle cx="242.9" cy="423.7" r="5.9"/><circle cx="244.7" cy="423.0" r="5.9"/><circle cx="298.5" cy="415.3" r="5.9"/><circle cx="260.3" cy="426.9" r="5.9"/><circle cx="261.8" cy="424.6" r="5.9"/><circle cx="262.0" cy="422.2" r="5.9"/><circle cx="256.0" cy="426.3" r="5.9"/><circle cx="253.6" cy="423.2" r="5.9"/><circle cx="252.2" cy="420.4" r="5.9"/><circle cx="322.7" cy="409.6" r="5.9"/><circle cx="325.3" cy="408.4" r="5.9"/><circle cx="327.5" cy="406.9" r="5.9"/><circle cx="329.8" cy="405.4" r="5.9"/><circle cx="275.9" cy="427.3" r="5.9"/><circle cx="314.0" cy="402.2" r="5.9"/><circle cx="287.2" cy="447.1" r="5.9"/><circle cx="263.5" cy="442.4" r="5.9"/><circle cx="265.6" cy="443.8" r="5.9"/><circle cx="268.1" cy="445.2" r="5.9"/><circle cx="324.8" cy="426.8" r="5.9"/><circle cx="324.9" cy="424.2" r="5.9"/><circle cx="326.1" cy="421.2" r="5.9"/><circle cx="327.2" cy="417.5" r="5.9"/><circle cx="291.2" cy="411.9" r="5.9"/><circle cx="258.7" cy="447.1" r="5.9"/><circle cx="257.6" cy="448.6" r="5.9"/><circle cx="279.9" cy="443.2" r="5.9"/><circle cx="278.0" cy="445.1" r="5.9"/><circle cx="317.7" cy="409.7" r="5.9"/><circle cx="306.0" cy="405.1" r="5.9"/><circle cx="307.1" cy="407.5" r="5.9"/><circle cx="319.7" cy="408.2" r="5.9"/><circle cx="321.3" cy="405.7" r="5.9"/><circle cx="322.4" cy="403.2" r="5.9"/><circle cx="323.1" cy="400.5" r="5.9"/><circle cx="272.0" cy="434.2" r="5.9"/><circle cx="273.5" cy="436.6" r="5.9"/><circle cx="254.8" cy="440.2" r="5.9"/><circle cx="256.0" cy="437.9" r="5.9"/><circle cx="276.1" cy="415.4" r="5.9"/><circle cx="274.3" cy="418.3" r="5.9"/><circle cx="271.7" cy="420.2" r="5.9"/><circle cx="306.1" cy="408.6" r="5.9"/><circle cx="307.4" cy="411.8" r="5.9"/><circle cx="308.7" cy="414.1" r="5.9"/><circle cx="309.8" cy="417.3" r="5.9"/><circle cx="283.9" cy="433.1" r="5.9"/><circle cx="245.7" cy="434.4" r="5.9"/><circle cx="247.8" cy="432.8" r="5.9"/><circle cx="250.5" cy="431.2" r="5.9"/><circle cx="336.5" cy="411.7" r="5.9"/><circle cx="334.2" cy="413.1" r="5.9"/><circle cx="301.2" cy="438.3" r="5.9"/><circle cx="312.9" cy="447.8" r="5.9"/><circle cx="316.0" cy="441.4" r="5.9"/><circle cx="305.4" cy="443.5" r="5.9"/></g>
<g fill="#1E90FF"><circle cx="638.5" cy="569.2" r="5.9"/><circle cx="512.5" cy="492.9" r="5.9"/><circle cx="515.5" cy="493.8" r="5.9"/><circle cx="597.2" cy="583.1" r="5.9"/><circle cx="552.5" cy="500.7" r="5.9"/><circle cx="575.3" cy="472.9" r="5.9"/><circle cx="573.4" cy="473.8" r="5.9"/><circle cx="571.5" cy="475.0" r="5.9"/><circle cx="570.2" cy="476.9" r="5.9"/><circle cx="577.6" cy="421.3" r="5.9"/><circle cx="575.0" cy="423.4" r="5.9"/><circle cx="572.7" cy="425.4" r="5.9"/><circle cx="571.1" cy="427.4" r="5.9"/><circle cx="526.6" cy="466.9" r="5.9"/><circle cx="653.5" cy="466.8" r="5.9"/><circle cx="515.6" cy="470.9" r="5.9"/><circle cx="648.9" cy="522.9" r="5.9"/><circle cx="608.2" cy="515.6" r="5.9"/><circle cx="577.3" cy="504.9" r="5.9"/><circle cx="590.6" cy="455.0" r="5.9"/><circle cx="592.7" cy="456.3" r="5.9"/><circle cx="595.4" cy="458.6" r="5.9"/><circle cx="561.7" cy="530.6" r="5.9"/><circle cx="558.6" cy="529.7" r="5.9"/><circle cx="555.8" cy="529.3" r="5.9"/><circle cx="553.8" cy="461.8" r="5.9"/><circle cx="551.3" cy="462.3" r="5.9"/><circle cx="549.1" cy="463.8" r="5.9"/><circle cx="670.7" cy="452.9" r="5.9"/><circle cx="669.8" cy="449.6" r="5.9"/><circle cx="523.2" cy="553.9" r="5.9"/><circle cx="524.6" cy="551.4" r="5.9"/><circle cx="639.2" cy="549.7" r="5.9"/><circle cx="616.4" cy="515.8" r="5.9"/><circle cx="617.3" cy="512.4" r="5.9"/><circle cx="603.8" cy="571.2" r="5.9"/><circle cx="605.8" cy="573.3" r="5.9"/><circle cx="607.0" cy="574.5" r="5.9"/><circle cx="598.3" cy="532.2" r="5.9"/><circle cx="598.0" cy="535.8" r="5.9"/><circle cx="597.6" cy="538.3" r="5.9"/><circle cx="596.6" cy="541.8" r="5.9"/><circle cx="552.0" cy="538.6" r="5.9"/><circle cx="549.4" cy="537.6" r="5.9"/><circle cx="545.7" cy="536.6" r="5.9"/><circle cx="543.3" cy="536.5" r="5.9"/><circle cx="631.3" cy="520.6" r="5.9"/><circle cx="596.7" cy="503.9" r="5.9"/><circle cx="599.2" cy="503.3" r="5.9"/><circle cx="602.3" cy="504.6" r="5.9"/><circle cx="605.4" cy="504.4" r="5.9"/><circle cx="526.9" cy="476.1" r="5.9"/><circle cx="523.4" cy="476.3" r="5.9"/><circle cx="528.7" cy="548.9" r="5.9"/><circle cx="531.8" cy="548.1" r="5.9"/><circle cx="534.7" cy="546.7" r="5.9"/><circle cx="536.7" cy="545.3" r="5.9"/><circle cx="592.8" cy="530.3" r="5.9"/><circle cx="590.4" cy="528.1" r="5.9"/><circle cx="578.6" cy="491.7" r="5.9"/><circle cx="576.9" cy="490.5" r="5.9"/><circle cx="574.6" cy="488.4" r="5.9"/><circle cx="624.5" cy="481.6" r="5.9"/><circle cx="645.9" cy="468.7" r="5.9"/><circle cx="646.4" cy="471.1" r="5.9"/><circle cx="586.1" cy="513.2" r="5.9"/><circle cx="589.5" cy="512.6" r="5.9"/><circle cx="592.1" cy="513.6" r="5.9"/><circle cx="655.8" cy="516.2" r="5.9"/><circle cx="672.7" cy="453.4" r="5.9"/><circle cx="673.2" cy="456.2" r="5.9"/><circle cx="672.1" cy="459.7" r="5.9"/><circle cx="649.2" cy="516.8" r="5.9"/><circle cx="647.0" cy="515.0" r="5.9"/><circle cx="644.4" cy="514.0" r="5.9"/><circle cx="643.9" cy="532.2" r="5.9"/><circle cx="642.6" cy="534.8" r="5.9"/><circle cx="642.5" cy="536.6" r="5.9"/><circle cx="569.0" cy="468.7" r="5.9"/><circle cx="605.1" cy="487.0" r="5.9"/><circle cx="603.0" cy="488.4" r="5.9"/><circle cx="601.2" cy="489.9" r="5.9"/><circle cx="590.7" cy="502.3" r="5.9"/><circle cx="656.7" cy="422.3" r="5.9"/><circle cx="656.4" cy="424.6" r="5.9"/><circle cx="609.2" cy="525.4" r="5.9"/><circle cx="611.2" cy="525.2" r="5.9"/><circle cx="613.8" cy="525.4" r="5.9"/><circle cx="574.2" cy="537.8" r="5.9"/><circle cx="586.7" cy="494.3" r="5.9"/><circle cx="583.9" cy="494.6" r="5.9"/><circle cx="581.8" cy="495.1" r="5.9"/><circle cx="579.1" cy="495.6" r="5.9"/><circle cx="549.9" cy="496.4" r="5.9"/><circle cx="548.1" cy="493.1" r="5.9"/><circle cx="547.5" cy="490.5" r="5.9"/><circle cx="612.7" cy="569.4" r="5.9"/><circle cx="615.9" cy="571.5" r="5.9"/><circle cx="617.8" cy="572.9" r="5.9"/><circle cx="605.8" cy="532.8" r="5.9"/><circle cx="609.5" cy="533.2" r="5.9"/><circle cx="612.1" cy="534.9" r="5.9"/><circle cx="659.3" cy="439.8" r="5.9"/><circle cx="542.8" cy="515.3" r="5.9"/><circle cx="543.0" cy="512.8" r="5.9"/><circle cx="528.9" cy="485.8" r="5.9"/><circle cx="605.5" cy="553.1" r="5.9"/><circle cx="580.3" cy="529.0" r="5.9"/><circle cx="617.2" cy="585.2" r="5.9"/><circle cx="614.9" cy="582.8" r="5.9"/><circle cx="658.2" cy="461.7" r="5.9"/><circle cx="657.5" cy="460.5" r="5.9"/><circle cx="657.0" cy="457.9" r="5.9"/><circle cx="656.2" cy="456.1" r="5.9"/><circle cx="521.8" cy="489.5" r="5.9"/><circle cx="522.7" cy="493.8" r="5.9"/><circle cx="523.4" cy="496.4" r="5.9"/><circle cx="523.7" cy="500.0" r="5.9"/><circle cx="639.5" cy="498.4" r="5.9"/><circle cx="586.1" cy="562.8" r="5.9"/><circle cx="626.8" cy="471.6" r="5.9"/><circle cx="551.6" cy="486.3" r="5.9"/><circle cx="553.6" cy="487.6" r="5.9"/><circle cx="556.2" cy="490.3" r="5.9"/><circle cx="557.8" cy="493.0" r="5.9"/><circle cx="554.0" cy="452.6" r="5.9"/><circle cx="563.6" cy="519.3" r="5.9"/><circle cx="563.2" cy="517.3" r="5.9"/><circle cx="562.3" cy="514.3" r="5.9"/><circle cx="562.3" cy="511.6" r="5.9"/><circle cx="658.5" cy="528.1" r="5.9"/><circle cx="655.8" cy="529.6" r="5.9"/><circle cx="653.6" cy="532.3" r="5.9"/><circle cx="643.2" cy="483.5" r="5.9"/><circle cx="562.6" cy="450.6" r="5.9"/><circle cx="586.1" cy="488.5" r="5.9"/><circle cx="546.4" cy="456.8" r="5.9"/><circle cx="545.3" cy="455.1" r="5.9"/><circle cx="543.4" cy="452.9" r="5.9"/><circle cx="662.2" cy="490.0" r="5.9"/><circle cx="568.9" cy="523.7" r="5.9"/><circle cx="583.6" cy="533.9" r="5.9"/><circle cx="583.2" cy="537.1" r="5.9"/><circle cx="547.8" cy="480.4" r="5.9"/><circle cx="637.5" cy="457.8" r="5.9"/><circle cx="638.8" cy="460.7" r="5.9"/><circle cx="548.0" cy="522.7" r="5.9"/><circle cx="551.1" cy="522.6" r="5.9"/><circle cx="678.4" cy="465.6" r="5.9"/><circle cx="676.6" cy="468.0" r="5.9"/><circle cx="574.0" cy="547.2" r="5.9"/><circle cx="577.0" cy="547.7" r="5.9"/><circle cx="580.8" cy="547.7" r="5.9"/><circle cx="583.9" cy="548.9" r="5.9"/><circle cx="573.5" cy="513.0" r="5.9"/><circle cx="575.1" cy="513.7" r="5.9"/><circle cx="577.9" cy="515.6" r="5.9"/><circle cx="610.6" cy="566.9" r="5.9"/><circle cx="609.4" cy="563.8" r="5.9"/><circle cx="608.5" cy="561.1" r="5.9"/><circle cx="596.6" cy="450.2" r="5.9"/><circle cx="619.7" cy="487.1" r="5.9"/><circle cx="621.2" cy="489.3" r="5.9"/><circle cx="623.7" cy="489.9" r="5.9"/><circle cx="625.3" cy="491.7" r="5.9"/><circle cx="598.9" cy="573.8" r="5.9"/><circle cx="540.2" cy="523.2" r="5.9"/><circle cx="573.7" cy="533.3" r="5.9"/><circle cx="571.3" cy="534.0" r="5.9"/><circle cx="568.6" cy="535.4" r="5.9"/><circle cx="565.6" cy="536.5" r="5.9"/><circle cx="628.3" cy="499.5" r="5.9"/><circle cx="626.2" cy="500.9" r="5.9"/><circle cx="625.0" cy="503.3" r="5.9"/><circle cx="609.1" cy="452.9" r="5.9"/><circle cx="529.5" cy="487.4" r="5.9"/><circle cx="533.1" cy="486.3" r="5.9"/><circle cx="534.3" cy="484.4" r="5.9"/><circle cx="537.3" cy="483.5" r="5.9"/><circle cx="610.4" cy="498.2" r="5.9"/><circle cx="611.2" cy="499.4" r="5.9"/><circle cx="612.9" cy="501.3" r="5.9"/><circle cx="645.3" cy="421.9" r="5.9"/><circle cx="647.7" cy="424.1" r="5.9"/><circle cx="663.9" cy="459.3" r="5.9"/><circle cx="534.0" cy="472.2" r="5.9"/><circle cx="532.2" cy="475.5" r="5.9"/><circle cx="657.0" cy="438.0" r="5.9"/><circle cx="655.7" cy="436.2" r="5.9"/><circle cx="653.8" cy="434.0" r="5.9"/><circle cx="658.9" cy="493.1" r="5.9"/><circle cx="658.8" cy="496.5" r="5.9"/><circle cx="659.2" cy="498.3" r="5.9"/><circle cx="597.7" cy="480.7" r="5.9"/><circle cx="615.7" cy="467.4" r="5.9"/><circle cx="618.0" cy="468.0" r="5.9"/><circle cx="580.8" cy="481.6" r="5.9"/><circle cx="603.6" cy="521.2" r="5.9"/><circle cx="600.5" cy="520.8" r="5.9"/><circle cx="608.8" cy="548.1" r="5.9"/><circle cx="607.1" cy="547.1" r="5.9"/><circle cx="605.7" cy="544.5" r="5.9"/><circle cx="545.2" cy="499.8" r="5.9"/><circle cx="542.5" cy="500.1" r="5.9"/><circle cx="636.8" cy="491.1" r="5.9"/><circle cx="633.5" cy="491.9" r="5.9"/><circle cx="670.6" cy="441.6" r="5.9"/><circle cx="673.3" cy="442.1" r="5.9"/><circle cx="529.8" cy="460.2" r="5.9"/><circle cx="532.1" cy="458.6" r="5.9"/><circle cx="631.8" cy="561.8" r="5.9"/><circle cx="634.4" cy="560.4" r="5.9"/><circle cx="636.1" cy="558.8" r="5.9"/><circle cx="565.1" cy="483.4" r="5.9"/><circle cx="581.5" cy="557.8" r="5.9"/><circle cx="584.8" cy="556.9" r="5.9"/><circle cx="588.1" cy="556.1" r="5.9"/><circle cx="591.6" cy="555.3" r="5.9"/><circle cx="594.5" cy="468.9" r="5.9"/><circle cx="592.7" cy="471.9" r="5.9"/><circle cx="591.9" cy="474.6" r="5.9"/><circle cx="589.8" cy="476.8" r="5.9"/><circle cx="642.5" cy="528.3" r="5.9"/><circle cx="553.0" cy="467.6" r="5.9"/><circle cx="556.4" cy="468.7" r="5.9"/><circle cx="532.3" cy="525.2" r="5.9"/><circle cx="602.3" cy="556.5" r="5.9"/><circle cx="602.3" cy="558.5" r="5.9"/><circle cx="601.1" cy="561.2" r="5.9"/><circle cx="600.0" cy="563.0" r="5.9"/><circle cx="566.0" cy="549.3" r="5.9"/><circle cx="562.8" cy="550.2" r="5.9"/><circle cx="544.4" cy="449.7" r="5.9"/><circle cx="546.2" cy="447.6" r="5.9"/><circle cx="548.9" cy="445.5" r="5.9"/><circle cx="573.3" cy="559.3" r="5.9"/><circle cx="574.6" cy="557.7" r="5.9"/><circle cx="577.1" cy="556.6" r="5.9"/><circle cx="662.3" cy="431.9" r="5.9"/><circle cx="666.0" cy="432.8" r="5.9"/><circle cx="668.6" cy="432.8" r="5.9"/><circle cx="535.6" cy="532.5" r="5.9"/><circle cx="605.6" cy="597.0" r="5.9"/><circle cx="606.0" cy="594.0" r="5.9"/><circle cx="606.5" cy="591.3" r="5.9"/><circle cx="517.8" cy="487.8" r="5.9"/><circle cx="516.8" cy="485.2" r="5.9"/><circle cx="578.8" cy="549.8" r="5.9"/><circle cx="577.2" cy="548.6" r="5.9"/><circle cx="576.1" cy="546.1" r="5.9"/><circle cx="599.4" cy="469.6" r="5.9"/><circle cx="551.5" cy="473.8" r="5.9"/><circle cx="554.1" cy="475.8" r="5.9"/><circle cx="555.4" cy="477.7" r="5.9"/><circle cx="567.8" cy="457.2" r="5.9"/><circle cx="569.8" cy="459.5" r="5.9"/><circle cx="525.2" cy="537.4" r="5.9"/><circle cx="527.7" cy="538.2" r="5.9"/><circle cx="550.8" cy="509.6" r="5.9"/><circle cx="616.9" cy="457.8" r="5.9"/><circle cx="635.0" cy="502.2" r="5.9"/><circle cx="635.7" cy="504.4" r="5.9"/><circle cx="637.2" cy="505.8" r="5.9"/><circle cx="638.5" cy="508.2" r="5.9"/><circle cx="611.0" cy="489.4" r="5.9"/><circle cx="613.6" cy="490.2" r="5.9"/><circle cx="616.3" cy="492.0" r="5.9"/><circle cx="560.9" cy="430.4" r="5.9"/><circle cx="671.1" cy="473.7" r="5.9"/><circle cx="669.7" cy="476.2" r="5.9"/><circle cx="571.9" cy="437.6" r="5.9"/><circle cx="574.9" cy="436.3" r="5.9"/><circle cx="532.3" cy="520.1" r="5.9"/><circle cx="531.1" cy="516.8" r="5.9"/><circle cx="529.6" cy="514.3" r="5.9"/><circle cx="640.0" cy="426.8" r="5.9"/><circle cx="630.4" cy="511.5" r="5.9"/><circle cx="625.5" cy="562.5" r="5.9"/><circle cx="622.5" cy="560.6" r="5.9"/><circle cx="620.0" cy="560.0" r="5.9"/><circle cx="617.8" cy="558.8" r="5.9"/><circle cx="547.7" cy="472.3" r="5.9"/><circle cx="572.6" cy="450.2" r="5.9"/><circle cx="604.8" cy="460.6" r="5.9"/><circle cx="649.8" cy="481.6" r="5.9"/><circle cx="651.9" cy="482.9" r="5.9"/><circle cx="612.4" cy="544.9" r="5.9"/><circle cx="614.8" cy="547.0" r="5.9"/><circle cx="567.9" cy="508.5" r="5.9"/><circle cx="568.6" cy="505.6" r="5.9"/><circle cx="654.4" cy="447.5" r="5.9"/><circle cx="649.9" cy="545.9" r="5.9"/><circle cx="647.5" cy="548.6" r="5.9"/><circle cx="563.0" cy="468.1" r="5.9"/><circle cx="560.7" cy="465.6" r="5.9"/><circle cx="560.2" cy="463.1" r="5.9"/><circle cx="558.2" cy="460.2" r="5.9"/><circle cx="517.8" cy="505.9" r="5.9"/><circle cx="619.4" cy="463.3" r="5.9"/><circle cx="623.3" cy="462.7" r="5.9"/><circle cx="626.4" cy="461.9" r="5.9"/><circle cx="540.2" cy="437.6" r="5.9"/><circle cx="540.0" cy="439.5" r="5.9"/><circle cx="540.4" cy="442.2" r="5.9"/><circle cx="541.0" cy="444.2" r="5.9"/><circle cx="592.9" cy="496.4" r="5.9"/><circle cx="595.1" cy="496.5" r="5.9"/><circle cx="598.0" cy="497.7" r="5.9"/><circle cx="657.3" cy="461.4" r="5.9"/><circle cx="654.8" cy="461.1" r="5.9"/><circle cx="651.4" cy="461.2" r="5.9"/><circle cx="647.6" cy="461.3" r="5.9"/><circle cx="677.6" cy="458.9" r="5.9"/><circle cx="677.2" cy="456.7" r="5.9"/><circle cx="678.1" cy="454.3" r="5.9"/><circle cx="520.6" cy="544.4" r="5.9"/><circle cx="556.2" cy="544.2" r="5.9"/><circle cx="557.0" cy="541.4" r="5.9"/><circle cx="557.6" cy="538.0" r="5.9"/><circle cx="606.2" cy="582.6" r="5.9"/><circle cx="548.2" cy="442.1" r="5.9"/><circle cx="549.3" cy="438.7" r="5.9"/><circle cx="549.4" cy="436.9" r="5.9"/><circle cx="550.2" cy="434.0" r="5.9"/><circle cx="644.5" cy="557.8" r="5.9"/><circle cx="598.1" cy="446.4" r="5.9"/><circle cx="601.3" cy="446.3" r="5.9"/><circle cx="604.3" cy="446.1" r="5.9"/><circle cx="587.3" cy="456.5" r="5.9"/><circle cx="659.0" cy="523.7" r="5.9"/><circle cx="657.7" cy="525.0" r="5.9"/><circle cx="643.5" cy="547.0" r="5.9"/><circle cx="646.2" cy="544.4" r="5.9"/><circle cx="647.7" cy="542.0" r="5.9"/><circle cx="650.4" cy="540.3" r="5.9"/><circle cx="554.7" cy="518.5" r="5.9"/><circle cx="557.9" cy="520.1" r="5.9"/><circle cx="559.9" cy="521.6" r="5.9"/><circle cx="590.3" cy="525.6" r="5.9"/><circle cx="588.6" cy="524.3" r="5.9"/><circle cx="585.6" cy="522.3" r="5.9"/><circle cx="584.3" cy="520.4" r="5.9"/><circle cx="662.1" cy="482.2" r="5.9"/><circle cx="659.9" cy="481.4" r="5.9"/><circle cx="591.7" cy="466.6" r="5.9"/><circle cx="610.0" cy="493.0" r="5.9"/><circle cx="607.9" cy="494.7" r="5.9"/><circle cx="582.5" cy="507.3" r="5.9"/><circle cx="583.8" cy="510.1" r="5.9"/><circle cx="614.5" cy="591.9" r="5.9"/><circle cx="616.7" cy="591.4" r="5.9"/><circle cx="600.2" cy="511.8" r="5.9"/><circle cx="520.9" cy="483.5" r="5.9"/><circle cx="521.8" cy="487.1" r="5.9"/><circle cx="522.4" cy="488.8" r="5.9"/><circle cx="523.2" cy="491.7" r="5.9"/><circle cx="606.6" cy="423.6" r="5.9"/><circle cx="604.3" cy="424.7" r="5.9"/><circle cx="629.9" cy="426.4" r="5.9"/><circle cx="629.6" cy="423.0" r="5.9"/><circle cx="591.8" cy="427.2" r="5.9"/><circle cx="593.4" cy="427.5" r="5.9"/><circle cx="596.0" cy="427.6" r="5.9"/><circle cx="618.8" cy="422.7" r="5.9"/><circle cx="612.0" cy="428.9" r="5.9"/><circle cx="499.4" cy="528.9" r="5.9"/><circle cx="520.6" cy="528.9" r="5.9"/><circle cx="522.8" cy="570.0" r="5.9"/><circle cx="512.8" cy="566.7" r="5.9"/><circle cx="517.2" cy="577.8" r="5.9"/><circle cx="549.4" cy="568.9" r="5.9"/><circle cx="560.6" cy="572.2" r="5.9"/><circle cx="570.6" cy="580.0" r="5.9"/><circle cx="523.9" cy="440.0" r="5.9"/><circle cx="528.3" cy="433.3" r="5.9"/><circle cx="521.7" cy="463.3" r="5.9"/></g>
<g fill="#A52A2A"><circle cx="239.2" cy="526.1" r="5.9"/><circle cx="236.9" cy="524.6" r="5.9"/><circle cx="251.3" cy="566.1" r="5.9"/><circle cx="253.6" cy="564.3" r="5.9"/><circle cx="256.3" cy="563.6" r="5.9"/><circle cx="258.6" cy="561.8" r="5.9"/><circle cx="230.9" cy="501.8" r="5.9"/><circle cx="232.0" cy="499.2" r="5.9"/><circle cx="235.0" cy="511.0" r="5.9"/><circle cx="231.5" cy="512.2" r="5.9"/><circle cx="212.1" cy="509.9" r="5.9"/><circle cx="213.2" cy="507.2" r="5.9"/><circle cx="288.9" cy="488.4" r="5.9"/><circle cx="290.7" cy="486.7" r="5.9"/><circle cx="292.3" cy="485.4" r="5.9"/><circle cx="221.3" cy="524.7" r="5.9"/><circle cx="219.2" cy="523.5" r="5.9"/><circle cx="217.6" cy="522.1" r="5.9"/><circle cx="215.5" cy="520.9" r="5.9"/><circle cx="287.6" cy="477.7" r="5.9"/><circle cx="274.8" cy="485.7" r="5.9"/><circle cx="273.3" cy="487.1" r="5.9"/><circle cx="319.1" cy="480.4" r="5.9"/><circle cx="310.9" cy="483.9" r="5.9"/><circle cx="304.9" cy="472.9" r="5.9"/><circle cx="301.8" cy="472.9" r="5.9"/><circle cx="266.1" cy="492.5" r="5.9"/><circle cx="263.3" cy="490.6" r="5.9"/><circle cx="260.2" cy="489.6" r="5.9"/><circle cx="226.4" cy="528.9" r="5.9"/><circle cx="228.6" cy="530.6" r="5.9"/><circle cx="231.4" cy="532.3" r="5.9"/><circle cx="255.4" cy="546.9" r="5.9"/><circle cx="256.4" cy="544.8" r="5.9"/><circle cx="258.8" cy="543.3" r="5.9"/><circle cx="260.8" cy="541.8" r="5.9"/><circle cx="217.2" cy="504.5" r="5.9"/><circle cx="215.8" cy="502.1" r="5.9"/><circle cx="214.5" cy="500.4" r="5.9"/><circle cx="212.9" cy="497.8" r="5.9"/><circle cx="223.5" cy="543.6" r="5.9"/><circle cx="224.3" cy="541.0" r="5.9"/><circle cx="224.5" cy="538.1" r="5.9"/><circle cx="294.7" cy="481.1" r="5.9"/><circle cx="297.1" cy="481.0" r="5.9"/><circle cx="299.9" cy="482.5" r="5.9"/><circle cx="229.3" cy="505.2" r="5.9"/><circle cx="227.5" cy="504.6" r="5.9"/><circle cx="224.6" cy="503.3" r="5.9"/><circle cx="245.9" cy="487.9" r="5.9"/><circle cx="246.6" cy="489.8" r="5.9"/><circle cx="248.0" cy="492.8" r="5.9"/><circle cx="249.9" cy="494.8" r="5.9"/><circle cx="265.5" cy="549.5" r="5.9"/><circle cx="246.7" cy="549.9" r="5.9"/><circle cx="249.2" cy="551.0" r="5.9"/><circle cx="251.7" cy="551.1" r="5.9"/><circle cx="232.8" cy="482.7" r="5.9"/><circle cx="233.8" cy="486.6" r="5.9"/><circle cx="235.8" cy="488.7" r="5.9"/><circle cx="297.9" cy="460.8" r="5.9"/><circle cx="298.5" cy="462.9" r="5.9"/><circle cx="298.3" cy="465.7" r="5.9"/><circle cx="226.2" cy="526.0" r="5.9"/><circle cx="222.7" cy="525.6" r="5.9"/><circle cx="214.5" cy="538.0" r="5.9"/><circle cx="216.4" cy="540.6" r="5.9"/><circle cx="234.7" cy="543.3" r="5.9"/><circle cx="233.5" cy="540.4" r="5.9"/><circle cx="310.2" cy="471.7" r="5.9"/><circle cx="311.8" cy="474.9" r="5.9"/><circle cx="251.0" cy="539.3" r="5.9"/><circle cx="247.9" cy="538.0" r="5.9"/><circle cx="306.8" cy="464.5" r="5.9"/><circle cx="287.2" cy="485.9" r="5.9"/><circle cx="286.0" cy="488.0" r="5.9"/><circle cx="283.8" cy="488.6" r="5.9"/><circle cx="243.1" cy="485.2" r="5.9"/><circle cx="222.9" cy="513.9" r="5.9"/><circle cx="265.5" cy="497.7" r="5.9"/><circle cx="263.5" cy="499.2" r="5.9"/><circle cx="247.6" cy="472.4" r="5.9"/><circle cx="249.1" cy="475.9" r="5.9"/><circle cx="250.5" cy="478.5" r="5.9"/><circle cx="249.0" cy="509.8" r="5.9"/><circle cx="250.9" cy="512.0" r="5.9"/><circle cx="211.5" cy="525.8" r="5.9"/><circle cx="213.5" cy="528.4" r="5.9"/><circle cx="216.1" cy="530.9" r="5.9"/><circle cx="234.5" cy="511.8" r="5.9"/><circle cx="237.6" cy="512.6" r="5.9"/><circle cx="240.4" cy="513.9" r="5.9"/><circle cx="221.3" cy="495.1" r="5.9"/><circle cx="272.2" cy="486.9" r="5.9"/><circle cx="268.9" cy="485.1" r="5.9"/><circle cx="266.5" cy="482.9" r="5.9"/><circle cx="255.8" cy="560.4" r="5.9"/><circle cx="252.4" cy="560.6" r="5.9"/><circle cx="249.7" cy="560.0" r="5.9"/><circle cx="325.7" cy="477.3" r="5.9"/><circle cx="328.7" cy="477.6" r="5.9"/><circle cx="293.9" cy="489.1" r="5.9"/><circle cx="292.0" cy="491.4" r="5.9"/><circle cx="289.8" cy="494.6" r="5.9"/><circle cx="242.4" cy="520.5" r="5.9"/><circle cx="244.0" cy="523.3" r="5.9"/><circle cx="244.9" cy="525.6" r="5.9"/><circle cx="224.0" cy="526.4" r="5.9"/><circle cx="226.3" cy="524.4" r="5.9"/><circle cx="227.7" cy="522.1" r="5.9"/><circle cx="229.2" cy="520.3" r="5.9"/><circle cx="259.6" cy="501.9" r="5.9"/><circle cx="259.3" cy="504.2" r="5.9"/><circle cx="258.1" cy="506.3" r="5.9"/><circle cx="226.7" cy="562.2" r="5.9"/><circle cx="221.1" cy="561.1" r="5.9"/><circle cx="335.6" cy="490.0" r="5.9"/><circle cx="319.1" cy="495.5" r="5.9"/><circle cx="314.3" cy="508.8" r="5.9"/><circle cx="315.7" cy="504.9" r="5.9"/><circle cx="312.4" cy="516.3" r="5.9"/><circle cx="312.6" cy="531.5" r="5.9"/><circle cx="314.8" cy="531.7" r="5.9"/><circle cx="302.6" cy="543.6" r="5.9"/><circle cx="301.0" cy="541.2" r="5.9"/><circle cx="302.7" cy="590.7" r="5.9"/><circle cx="343.1" cy="578.2" r="5.9"/><circle cx="341.3" cy="575.6" r="5.9"/><circle cx="290.7" cy="571.5" r="5.9"/><circle cx="288.9" cy="569.0" r="5.9"/><circle cx="286.4" cy="567.0" r="5.9"/><circle cx="291.7" cy="518.4" r="5.9"/><circle cx="294.2" cy="519.5" r="5.9"/><circle cx="296.5" cy="521.6" r="5.9"/><circle cx="299.0" cy="522.4" r="5.9"/><circle cx="320.0" cy="612.1" r="5.9"/><circle cx="316.9" cy="612.2" r="5.9"/><circle cx="363.2" cy="539.0" r="5.9"/><circle cx="362.2" cy="541.8" r="5.9"/><circle cx="362.2" cy="544.9" r="5.9"/><circle cx="361.1" cy="546.7" r="5.9"/><circle cx="294.1" cy="608.5" r="5.9"/><circle cx="346.4" cy="560.5" r="5.9"/><circle cx="347.6" cy="562.3" r="5.9"/><circle cx="298.6" cy="552.5" r="5.9"/><circle cx="296.4" cy="552.6" r="5.9"/><circle cx="358.3" cy="534.8" r="5.9"/><circle cx="318.7" cy="541.0" r="5.9"/><circle cx="320.7" cy="542.3" r="5.9"/><circle cx="327.7" cy="604.6" r="5.9"/><circle cx="324.2" cy="603.5" r="5.9"/><circle cx="321.1" cy="602.7" r="5.9"/><circle cx="318.4" cy="601.9" r="5.9"/><circle cx="349.7" cy="575.9" r="5.9"/><circle cx="333.5" cy="541.6" r="5.9"/><circle cx="351.0" cy="520.0" r="5.9"/><circle cx="348.9" cy="522.0" r="5.9"/><circle cx="346.6" cy="525.2" r="5.9"/><circle cx="282.3" cy="550.5" r="5.9"/><circle cx="284.6" cy="549.2" r="5.9"/><circle cx="286.5" cy="546.8" r="5.9"/><circle cx="344.3" cy="586.9" r="5.9"/><circle cx="279.6" cy="541.5" r="5.9"/><circle cx="278.4" cy="544.3" r="5.9"/><circle cx="310.2" cy="627.0" r="5.9"/><circle cx="311.3" cy="624.0" r="5.9"/><circle cx="313.4" cy="622.4" r="5.9"/><circle cx="316.7" cy="560.6" r="5.9"/><circle cx="318.7" cy="561.8" r="5.9"/><circle cx="274.1" cy="564.4" r="5.9"/><circle cx="299.6" cy="562.5" r="5.9"/><circle cx="302.3" cy="561.4" r="5.9"/><circle cx="304.5" cy="559.4" r="5.9"/><circle cx="306.2" cy="557.5" r="5.9"/><circle cx="295.6" cy="586.3" r="5.9"/><circle cx="342.1" cy="546.4" r="5.9"/><circle cx="327.8" cy="534.0" r="5.9"/><circle cx="327.4" cy="531.1" r="5.9"/><circle cx="327.3" cy="527.4" r="5.9"/><circle cx="279.2" cy="587.4" r="5.9"/><circle cx="279.0" cy="589.5" r="5.9"/><circle cx="279.4" cy="593.0" r="5.9"/><circle cx="280.1" cy="595.0" r="5.9"/><circle cx="293.4" cy="594.8" r="5.9"/><circle cx="292.9" cy="596.8" r="5.9"/><circle cx="332.2" cy="518.7" r="5.9"/><circle cx="328.7" cy="517.7" r="5.9"/><circle cx="326.3" cy="517.6" r="5.9"/><circle cx="289.8" cy="579.1" r="5.9"/><circle cx="292.4" cy="577.4" r="5.9"/><circle cx="295.2" cy="576.2" r="5.9"/><circle cx="301.0" cy="534.2" r="5.9"/><circle cx="302.6" cy="532.9" r="5.9"/><circle cx="304.8" cy="531.0" r="5.9"/><circle cx="305.9" cy="528.6" r="5.9"/><circle cx="277.7" cy="602.2" r="5.9"/><circle cx="281.2" cy="602.9" r="5.9"/><circle cx="283.8" cy="602.4" r="5.9"/><circle cx="309.1" cy="599.7" r="5.9"/><circle cx="310.5" cy="596.8" r="5.9"/><circle cx="305.5" cy="579.4" r="5.9"/><circle cx="307.1" cy="576.1" r="5.9"/><circle cx="297.1" cy="536.8" r="5.9"/><circle cx="295.8" cy="533.9" r="5.9"/><circle cx="316.5" cy="569.3" r="5.9"/><circle cx="314.2" cy="570.3" r="5.9"/><circle cx="293.4" cy="559.5" r="5.9"/><circle cx="295.4" cy="560.2" r="5.9"/><circle cx="298.8" cy="561.8" r="5.9"/><circle cx="316.2" cy="557.7" r="5.9"/><circle cx="318.1" cy="556.1" r="5.9"/><circle cx="319.8" cy="553.1" r="5.9"/><circle cx="364.9" cy="555.1" r="5.9"/><circle cx="367.1" cy="555.2" r="5.9"/><circle cx="276.4" cy="551.1" r="5.9"/><circle cx="275.4" cy="553.5" r="5.9"/><circle cx="358.0" cy="517.9" r="5.9"/><circle cx="356.3" cy="519.4" r="5.9"/><circle cx="354.3" cy="520.7" r="5.9"/><circle cx="309.3" cy="549.5" r="5.9"/><circle cx="308.6" cy="546.7" r="5.9"/><circle cx="308.4" cy="544.3" r="5.9"/><circle cx="355.7" cy="553.2" r="5.9"/><circle cx="309.6" cy="630.7" r="5.9"/><circle cx="330.8" cy="522.1" r="5.9"/><circle cx="333.1" cy="523.9" r="5.9"/><circle cx="335.6" cy="524.9" r="5.9"/><circle cx="314.1" cy="520.3" r="5.9"/><circle cx="343.1" cy="554.7" r="5.9"/><circle cx="367.5" cy="533.7" r="5.9"/><circle cx="368.6" cy="536.0" r="5.9"/><circle cx="368.9" cy="538.9" r="5.9"/><circle cx="358.7" cy="565.7" r="5.9"/><circle cx="357.9" cy="563.0" r="5.9"/><circle cx="356.3" cy="561.2" r="5.9"/><circle cx="336.9" cy="587.1" r="5.9"/><circle cx="336.5" cy="583.9" r="5.9"/><circle cx="304.4" cy="607.5" r="5.9"/><circle cx="301.9" cy="606.2" r="5.9"/><circle cx="304.8" cy="570.3" r="5.9"/><circle cx="305.5" cy="567.5" r="5.9"/><circle cx="345.2" cy="528.1" r="5.9"/><circle cx="345.0" cy="531.6" r="5.9"/><circle cx="345.6" cy="534.8" r="5.9"/><circle cx="345.1" cy="537.6" r="5.9"/><circle cx="284.3" cy="577.5" r="5.9"/><circle cx="287.0" cy="575.8" r="5.9"/><circle cx="285.8" cy="588.7" r="5.9"/><circle cx="287.7" cy="589.4" r="5.9"/><circle cx="281.0" cy="574.8" r="5.9"/><circle cx="279.0" cy="572.8" r="5.9"/><circle cx="345.5" cy="515.9" r="5.9"/><circle cx="342.3" cy="590.3" r="5.9"/><circle cx="340.0" cy="591.7" r="5.9"/><circle cx="338.2" cy="592.4" r="5.9"/><circle cx="307.9" cy="519.6" r="5.9"/><circle cx="305.8" cy="517.7" r="5.9"/><circle cx="337.4" cy="534.6" r="5.9"/><circle cx="229.7" cy="582.9" r="5.9"/><circle cx="241.6" cy="581.0" r="5.9"/><circle cx="238.1" cy="581.0" r="5.9"/><circle cx="244.1" cy="589.0" r="5.9"/><circle cx="244.3" cy="585.5" r="5.9"/><circle cx="241.3" cy="599.8" r="5.9"/><circle cx="242.2" cy="598.1" r="5.9"/><circle cx="242.2" cy="595.5" r="5.9"/><circle cx="240.7" cy="600.5" r="5.9"/><circle cx="237.1" cy="600.9" r="5.9"/><circle cx="232.0" cy="602.5" r="5.9"/><circle cx="228.2" cy="602.8" r="5.9"/><circle cx="254.4" cy="597.8" r="5.9"/><circle cx="253.5" cy="598.5" r="5.9"/><circle cx="255.8" cy="606.1" r="5.9"/><circle cx="261.8" cy="610.2" r="5.9"/><circle cx="268.1" cy="612.2" r="5.9"/><circle cx="276.0" cy="607.4" r="5.9"/><circle cx="282.9" cy="602.5" r="5.9"/><circle cx="283.2" cy="602.1" r="5.9"/></g>
<g fill="#0000FF"><circle cx="519.3" cy="608.3" r="5.9"/><circle cx="559.7" cy="593.5" r="5.9"/><circle cx="560.2" cy="596.8" r="5.9"/><circle cx="559.1" cy="599.1" r="5.9"/><circle cx="529.4" cy="597.1" r="5.9"/><circle cx="531.3" cy="597.5" r="5.9"/><circle cx="534.9" cy="597.4" r="5.9"/><circle cx="531.1" cy="595.0" r="5.9"/><circle cx="528.9" cy="592.4" r="5.9"/><circle cx="526.3" cy="590.6" r="5.9"/><circle cx="549.1" cy="596.4" r="5.9"/><circle cx="550.7" cy="595.4" r="5.9"/><circle cx="552.3" cy="607.5" r="5.9"/><circle cx="549.9" cy="606.7" r="5.9"/><circle cx="541.1" cy="604.1" r="5.9"/><circle cx="522.4" cy="595.2" r="5.9"/><circle cx="520.7" cy="596.7" r="5.9"/><circle cx="537.0" cy="617.4" r="5.9"/><circle cx="538.5" cy="615.4" r="5.9"/><circle cx="539.1" cy="612.9" r="5.9"/><circle cx="532.5" cy="606.9" r="5.9"/><circle cx="529.7" cy="611.6" r="5.9"/><circle cx="528.6" cy="614.0" r="5.9"/><circle cx="516.0" cy="616.6" r="5.9"/><circle cx="573.6" cy="609.6" r="5.9"/><circle cx="571.2" cy="607.4" r="5.9"/><circle cx="569.3" cy="604.9" r="5.9"/><circle cx="566.5" cy="603.1" r="5.9"/><circle cx="565.5" cy="593.6" r="5.9"/><circle cx="579.8" cy="631.3" r="5.9"/><circle cx="507.0" cy="645.6" r="5.9"/><circle cx="508.9" cy="643.5" r="5.9"/><circle cx="520.4" cy="727.8" r="5.9"/><circle cx="521.7" cy="726.1" r="5.9"/><circle cx="523.2" cy="724.1" r="5.9"/><circle cx="524.4" cy="722.7" r="5.9"/><circle cx="541.7" cy="670.0" r="5.9"/><circle cx="581.5" cy="669.1" r="5.9"/><circle cx="538.2" cy="688.7" r="5.9"/><circle cx="536.9" cy="691.0" r="5.9"/><circle cx="535.5" cy="692.2" r="5.9"/><circle cx="534.9" cy="694.8" r="5.9"/><circle cx="579.7" cy="681.1" r="5.9"/><circle cx="581.9" cy="680.2" r="5.9"/><circle cx="584.3" cy="679.9" r="5.9"/><circle cx="587.0" cy="678.7" r="5.9"/><circle cx="573.9" cy="701.0" r="5.9"/><circle cx="573.1" cy="704.5" r="5.9"/><circle cx="611.9" cy="617.3" r="5.9"/><circle cx="609.8" cy="616.5" r="5.9"/><circle cx="606.9" cy="616.3" r="5.9"/><circle cx="614.0" cy="606.2" r="5.9"/><circle cx="589.8" cy="707.8" r="5.9"/><circle cx="590.4" cy="704.6" r="5.9"/><circle cx="591.3" cy="702.7" r="5.9"/><circle cx="522.5" cy="639.3" r="5.9"/><circle cx="525.6" cy="639.2" r="5.9"/><circle cx="527.4" cy="639.9" r="5.9"/><circle cx="506.8" cy="724.4" r="5.9"/><circle cx="506.6" cy="722.6" r="5.9"/><circle cx="567.3" cy="715.1" r="5.9"/><circle cx="569.4" cy="712.5" r="5.9"/><circle cx="596.5" cy="637.2" r="5.9"/><circle cx="593.5" cy="637.5" r="5.9"/><circle cx="591.6" cy="638.4" r="5.9"/><circle cx="597.1" cy="605.8" r="5.9"/><circle cx="595.5" cy="604.4" r="5.9"/><circle cx="593.0" cy="602.8" r="5.9"/><circle cx="591.6" cy="601.0" r="5.9"/><circle cx="525.5" cy="684.5" r="5.9"/><circle cx="524.7" cy="682.4" r="5.9"/><circle cx="522.9" cy="680.6" r="5.9"/><circle cx="559.0" cy="677.4" r="5.9"/><circle cx="561.0" cy="680.9" r="5.9"/><circle cx="561.7" cy="682.7" r="5.9"/><circle cx="514.6" cy="656.7" r="5.9"/><circle cx="515.4" cy="660.0" r="5.9"/><circle cx="516.6" cy="662.0" r="5.9"/><circle cx="502.0" cy="699.6" r="5.9"/><circle cx="501.9" cy="696.4" r="5.9"/><circle cx="503.4" cy="693.1" r="5.9"/><circle cx="503.8" cy="690.4" r="5.9"/><circle cx="531.0" cy="679.2" r="5.9"/><circle cx="549.1" cy="649.7" r="5.9"/><circle cx="507.8" cy="731.1" r="5.9"/><circle cx="505.9" cy="733.9" r="5.9"/><circle cx="504.4" cy="736.5" r="5.9"/><circle cx="562.5" cy="658.2" r="5.9"/><circle cx="561.0" cy="655.8" r="5.9"/><circle cx="558.6" cy="653.6" r="5.9"/><circle cx="568.7" cy="638.7" r="5.9"/><circle cx="565.9" cy="639.1" r="5.9"/><circle cx="563.2" cy="639.9" r="5.9"/><circle cx="504.9" cy="722.5" r="5.9"/><circle cx="502.5" cy="722.5" r="5.9"/><circle cx="499.6" cy="722.7" r="5.9"/><circle cx="498.0" cy="722.4" r="5.9"/><circle cx="538.0" cy="684.3" r="5.9"/><circle cx="527.3" cy="690.1" r="5.9"/><circle cx="526.1" cy="691.0" r="5.9"/><circle cx="523.7" cy="692.1" r="5.9"/><circle cx="520.2" cy="649.8" r="5.9"/><circle cx="580.4" cy="690.6" r="5.9"/><circle cx="583.6" cy="690.9" r="5.9"/><circle cx="594.8" cy="660.1" r="5.9"/><circle cx="596.6" cy="658.2" r="5.9"/><circle cx="566.9" cy="627.3" r="5.9"/><circle cx="501.2" cy="719.8" r="5.9"/><circle cx="499.8" cy="718.8" r="5.9"/><circle cx="497.7" cy="716.1" r="5.9"/><circle cx="496.7" cy="714.1" r="5.9"/><circle cx="600.3" cy="645.3" r="5.9"/><circle cx="602.3" cy="643.1" r="5.9"/><circle cx="484.2" cy="715.1" r="5.9"/><circle cx="481.8" cy="717.0" r="5.9"/><circle cx="550.5" cy="709.2" r="5.9"/><circle cx="553.9" cy="707.8" r="5.9"/><circle cx="555.7" cy="706.8" r="5.9"/><circle cx="529.9" cy="665.5" r="5.9"/><circle cx="545.7" cy="682.6" r="5.9"/><circle cx="548.6" cy="683.3" r="5.9"/><circle cx="551.1" cy="684.0" r="5.9"/><circle cx="589.2" cy="624.7" r="5.9"/><circle cx="588.1" cy="622.0" r="5.9"/><circle cx="586.7" cy="620.1" r="5.9"/><circle cx="502.1" cy="636.5" r="5.9"/><circle cx="541.9" cy="682.3" r="5.9"/><circle cx="544.7" cy="680.0" r="5.9"/><circle cx="546.1" cy="677.5" r="5.9"/><circle cx="544.9" cy="723.0" r="5.9"/><circle cx="542.0" cy="724.8" r="5.9"/><circle cx="528.7" cy="658.3" r="5.9"/><circle cx="532.3" cy="657.7" r="5.9"/><circle cx="535.1" cy="658.5" r="5.9"/><circle cx="537.9" cy="657.9" r="5.9"/><circle cx="517.1" cy="732.6" r="5.9"/><circle cx="519.8" cy="735.1" r="5.9"/><circle cx="521.7" cy="736.6" r="5.9"/><circle cx="578.3" cy="643.7" r="5.9"/><circle cx="581.0" cy="643.6" r="5.9"/><circle cx="583.1" cy="643.5" r="5.9"/><circle cx="543.5" cy="716.9" r="5.9"/><circle cx="545.7" cy="715.1" r="5.9"/><circle cx="571.1" cy="657.0" r="5.9"/><circle cx="569.6" cy="659.3" r="5.9"/><circle cx="568.1" cy="661.0" r="5.9"/><circle cx="566.4" cy="664.1" r="5.9"/><circle cx="567.7" cy="697.1" r="5.9"/><circle cx="591.2" cy="695.1" r="5.9"/><circle cx="593.7" cy="693.4" r="5.9"/><circle cx="580.5" cy="616.7" r="5.9"/><circle cx="578.1" cy="619.4" r="5.9"/><circle cx="577.0" cy="621.6" r="5.9"/><circle cx="537.7" cy="710.2" r="5.9"/><circle cx="575.3" cy="707.8" r="5.9"/><circle cx="577.5" cy="710.2" r="5.9"/><circle cx="578.5" cy="713.4" r="5.9"/><circle cx="581.8" cy="617.4" r="5.9"/><circle cx="579.1" cy="615.0" r="5.9"/><circle cx="577.3" cy="613.0" r="5.9"/><circle cx="509.9" cy="714.4" r="5.9"/><circle cx="513.2" cy="713.9" r="5.9"/><circle cx="495.7" cy="681.0" r="5.9"/><circle cx="496.4" cy="683.3" r="5.9"/><circle cx="552.6" cy="651.2" r="5.9"/><circle cx="550.4" cy="654.3" r="5.9"/><circle cx="549.4" cy="656.2" r="5.9"/><circle cx="547.9" cy="659.4" r="5.9"/><circle cx="522.0" cy="706.4" r="5.9"/><circle cx="524.3" cy="704.4" r="5.9"/><circle cx="526.8" cy="702.9" r="5.9"/><circle cx="528.9" cy="711.2" r="5.9"/><circle cx="524.5" cy="646.5" r="5.9"/><circle cx="526.2" cy="649.1" r="5.9"/><circle cx="526.2" cy="652.2" r="5.9"/><circle cx="527.6" cy="654.8" r="5.9"/><circle cx="592.0" cy="670.8" r="5.9"/><circle cx="480.5" cy="726.7" r="5.9"/><circle cx="480.2" cy="729.6" r="5.9"/><circle cx="551.8" cy="730.5" r="5.9"/><circle cx="554.6" cy="727.7" r="5.9"/><circle cx="557.1" cy="725.8" r="5.9"/><circle cx="558.8" cy="723.8" r="5.9"/><circle cx="495.4" cy="660.9" r="5.9"/><circle cx="498.5" cy="663.5" r="5.9"/><circle cx="500.3" cy="665.6" r="5.9"/><circle cx="603.6" cy="629.8" r="5.9"/><circle cx="600.1" cy="630.7" r="5.9"/><circle cx="597.4" cy="630.8" r="5.9"/><circle cx="551.1" cy="699.7" r="5.9"/><circle cx="516.6" cy="627.5" r="5.9"/><circle cx="517.0" cy="631.2" r="5.9"/><circle cx="516.8" cy="633.6" r="5.9"/><circle cx="560.8" cy="690.9" r="5.9"/><circle cx="509.9" cy="732.6" r="5.9"/><circle cx="512.4" cy="731.5" r="5.9"/><circle cx="530.5" cy="727.9" r="5.9"/><circle cx="500.8" cy="650.4" r="5.9"/><circle cx="501.1" cy="653.9" r="5.9"/><circle cx="502.3" cy="656.4" r="5.9"/><circle cx="500.2" cy="697.9" r="5.9"/><circle cx="497.7" cy="696.3" r="5.9"/><circle cx="579.3" cy="655.5" r="5.9"/><circle cx="601.9" cy="600.8" r="5.9"/><circle cx="494.5" cy="734.6" r="5.9"/><circle cx="494.3" cy="733.0" r="5.9"/><circle cx="495.0" cy="730.7" r="5.9"/><circle cx="547.8" cy="642.3" r="5.9"/><circle cx="549.2" cy="642.3" r="5.9"/><circle cx="551.0" cy="641.0" r="5.9"/><circle cx="553.8" cy="640.8" r="5.9"/><circle cx="516.6" cy="694.6" r="5.9"/><circle cx="515.1" cy="692.9" r="5.9"/><circle cx="513.8" cy="691.6" r="5.9"/><circle cx="512.3" cy="689.4" r="5.9"/><circle cx="595.0" cy="647.6" r="5.9"/><circle cx="552.3" cy="666.2" r="5.9"/><circle cx="573.7" cy="627.5" r="5.9"/><circle cx="572.5" cy="629.6" r="5.9"/><circle cx="572.3" cy="632.0" r="5.9"/><circle cx="571.3" cy="635.2" r="5.9"/><circle cx="491.2" cy="680.4" r="5.9"/><circle cx="487.4" cy="681.2" r="5.9"/><circle cx="586.0" cy="662.0" r="5.9"/><circle cx="588.3" cy="660.6" r="5.9"/><circle cx="557.5" cy="673.2" r="5.9"/><circle cx="591.2" cy="702.4" r="5.9"/><circle cx="589.3" cy="706.1" r="5.9"/><circle cx="588.5" cy="708.1" r="5.9"/><circle cx="586.5" cy="711.2" r="5.9"/><circle cx="581.6" cy="602.3" r="5.9"/><circle cx="583.7" cy="605.9" r="5.9"/><circle cx="585.4" cy="608.4" r="5.9"/><circle cx="594.6" cy="630.4" r="5.9"/><circle cx="591.7" cy="630.2" r="5.9"/><circle cx="589.0" cy="628.9" r="5.9"/><circle cx="562.5" cy="701.1" r="5.9"/><circle cx="563.1" cy="702.9" r="5.9"/><circle cx="563.9" cy="705.8" r="5.9"/><circle cx="580.4" cy="695.3" r="5.9"/><circle cx="581.5" cy="697.4" r="5.9"/><circle cx="582.0" cy="700.1" r="5.9"/><circle cx="507.4" cy="682.0" r="5.9"/><circle cx="505.3" cy="679.5" r="5.9"/><circle cx="474.0" cy="715.3" r="5.9"/><circle cx="473.2" cy="718.1" r="5.9"/><circle cx="472.5" cy="719.9" r="5.9"/><circle cx="602.9" cy="623.4" r="5.9"/><circle cx="605.1" cy="624.2" r="5.9"/><circle cx="579.0" cy="680.6" r="5.9"/><circle cx="578.7" cy="677.2" r="5.9"/><circle cx="562.9" cy="708.5" r="5.9"/><circle cx="561.7" cy="711.4" r="5.9"/><circle cx="560.4" cy="713.7" r="5.9"/><circle cx="559.6" cy="715.2" r="5.9"/><circle cx="590.2" cy="682.8" r="5.9"/><circle cx="590.2" cy="686.1" r="5.9"/><circle cx="495.3" cy="717.9" r="5.9"/><circle cx="493.4" cy="720.4" r="5.9"/><circle cx="491.9" cy="722.7" r="5.9"/><circle cx="490.1" cy="724.3" r="5.9"/><circle cx="545.5" cy="640.9" r="5.9"/><circle cx="563.7" cy="672.0" r="5.9"/><circle cx="565.7" cy="673.7" r="5.9"/><circle cx="535.0" cy="716.6" r="5.9"/><circle cx="535.8" cy="719.2" r="5.9"/><circle cx="520.6" cy="709.5" r="5.9"/><circle cx="571.0" cy="654.7" r="5.9"/><circle cx="600.1" cy="626.0" r="5.9"/><circle cx="598.1" cy="623.2" r="5.9"/><circle cx="596.9" cy="621.4" r="5.9"/><circle cx="533.5" cy="632.4" r="5.9"/><circle cx="536.6" cy="704.6" r="5.9"/><circle cx="539.7" cy="704.1" r="5.9"/><circle cx="543.0" cy="705.2" r="5.9"/><circle cx="546.1" cy="706.1" r="5.9"/><circle cx="518.8" cy="641.4" r="5.9"/><circle cx="603.7" cy="650.1" r="5.9"/><circle cx="603.1" cy="653.5" r="5.9"/><circle cx="511.1" cy="648.0" r="5.9"/><circle cx="511.5" cy="651.3" r="5.9"/><circle cx="590.7" cy="650.8" r="5.9"/><circle cx="587.9" cy="651.2" r="5.9"/><circle cx="567.3" cy="721.4" r="5.9"/><circle cx="488.4" cy="709.1" r="5.9"/><circle cx="488.5" cy="711.7" r="5.9"/><circle cx="620.5" cy="604.3" r="5.9"/><circle cx="618.4" cy="605.0" r="5.9"/><circle cx="615.1" cy="605.4" r="5.9"/><circle cx="621.7" cy="604.4" r="5.9"/><circle cx="623.7" cy="602.9" r="5.9"/><circle cx="629.9" cy="604.3" r="5.9"/><circle cx="632.0" cy="604.2" r="5.9"/><circle cx="638.0" cy="610.6" r="5.9"/><circle cx="638.7" cy="610.2" r="5.9"/><circle cx="630.0" cy="644.4" r="5.9"/><circle cx="638.9" cy="641.1" r="5.9"/><circle cx="636.7" cy="654.4" r="5.9"/><circle cx="643.3" cy="661.1" r="5.9"/><circle cx="645.6" cy="647.8" r="5.9"/><circle cx="652.2" cy="638.9" r="5.9"/><circle cx="662.2" cy="641.1" r="5.9"/><circle cx="655.6" cy="647.8" r="5.9"/><circle cx="668.9" cy="645.6" r="5.9"/><circle cx="666.7" cy="654.4" r="5.9"/></g>
<g fill="#000000"><circle cx="436.4" cy="77.7" r="5.9"/><circle cx="431.7" cy="80.2" r="5.9"/><circle cx="425.4" cy="83.4" r="5.9"/><circle cx="482.2" cy="92.2" r="5.9"/><circle cx="487.3" cy="91.2" r="5.9"/><circle cx="490.8" cy="90.0" r="5.9"/><circle cx="502.2" cy="88.7" r="5.9"/><circle cx="499.1" cy="88.9" r="5.9"/><circle cx="510.6" cy="88.0" r="5.9"/><circle cx="508.5" cy="88.3" r="5.9"/><circle cx="511.0" cy="88.4" r="5.9"/><circle cx="514.8" cy="87.9" r="5.9"/><circle cx="517.7" cy="88.1" r="5.9"/><circle cx="530.6" cy="59.1" r="5.9"/><circle cx="528.8" cy="57.8" r="5.9"/><circle cx="534.3" cy="62.7" r="5.9"/><circle cx="544.8" cy="75.6" r="5.9"/><circle cx="543.0" cy="72.0" r="5.9"/><circle cx="541.0" cy="69.2" r="5.9"/><circle cx="543.0" cy="72.2" r="5.9"/><circle cx="544.1" cy="74.3" r="5.9"/><circle cx="546.3" cy="77.7" r="5.9"/><circle cx="551.8" cy="83.7" r="5.9"/><circle cx="558.0" cy="94.0" r="5.9"/><circle cx="558.1" cy="90.7" r="5.9"/><circle cx="561.6" cy="99.5" r="5.9"/><circle cx="562.9" cy="104.4" r="5.9"/><circle cx="564.0" cy="108.5" r="5.9"/><circle cx="563.4" cy="83.4" r="5.9"/><circle cx="512.8" cy="122.1" r="5.9"/><circle cx="519.6" cy="124.7" r="5.9"/><circle cx="505.8" cy="133.1" r="5.9"/><circle cx="501.6" cy="135.2" r="5.9"/><circle cx="515.3" cy="135.2" r="5.9"/><circle cx="514.3" cy="145.8" r="5.9"/><circle cx="520.6" cy="138.4" r="5.9"/><circle cx="510.1" cy="142.6" r="5.9"/><circle cx="530.8" cy="138.4" r="5.9"/><circle cx="533.3" cy="143.7" r="5.9"/><circle cx="436.3" cy="148.2" r="5.9"/><circle cx="434.8" cy="149.3" r="5.9"/><circle cx="431.1" cy="150.8" r="5.9"/><circle cx="433.9" cy="148.9" r="5.9"/><circle cx="436.7" cy="148.2" r="5.9"/><circle cx="438.3" cy="146.8" r="5.9"/><circle cx="442.7" cy="149.9" r="5.9"/><circle cx="443.9" cy="151.8" r="5.9"/><circle cx="445.5" cy="157.0" r="5.9"/><circle cx="445.5" cy="159.7" r="5.9"/><circle cx="446.5" cy="164.4" r="5.9"/><circle cx="449.1" cy="166.9" r="5.9"/><circle cx="453.7" cy="172.5" r="5.9"/><circle cx="485.3" cy="140.5" r="5.9"/><circle cx="486.3" cy="140.1" r="5.9"/><circle cx="483.1" cy="146.5" r="5.9"/><circle cx="481.2" cy="145.7" r="5.9"/><circle cx="485.7" cy="148.4" r="5.9"/><circle cx="485.9" cy="150.6" r="5.9"/><circle cx="485.9" cy="162.6" r="5.9"/><circle cx="484.2" cy="159.9" r="5.9"/><circle cx="489.7" cy="173.1" r="5.9"/><circle cx="488.9" cy="171.1" r="5.9"/><circle cx="486.9" cy="167.8" r="5.9"/><circle cx="491.7" cy="175.9" r="5.9"/><circle cx="493.8" cy="180.8" r="5.9"/><circle cx="493.9" cy="184.1" r="5.9"/><circle cx="498.7" cy="195.8" r="5.9"/><circle cx="498.7" cy="194.0" r="5.9"/><circle cx="498.5" cy="190.9" r="5.9"/><circle cx="503.1" cy="198.3" r="5.9"/><circle cx="500.0" cy="197.4" r="5.9"/><circle cx="506.6" cy="199.6" r="5.9"/><circle cx="508.8" cy="200.5" r="5.9"/><circle cx="515.8" cy="168.7" r="5.9"/><circle cx="514.5" cy="166.5" r="5.9"/><circle cx="518.4" cy="173.8" r="5.9"/><circle cx="524.4" cy="182.6" r="5.9"/><circle cx="522.6" cy="181.4" r="5.9"/><circle cx="527.9" cy="191.8" r="5.9"/><circle cx="525.9" cy="189.2" r="5.9"/><circle cx="529.6" cy="197.0" r="5.9"/><circle cx="529.0" cy="196.0" r="5.9"/><circle cx="535.8" cy="155.6" r="5.9"/><circle cx="536.1" cy="154.7" r="5.9"/><circle cx="536.0" cy="164.8" r="5.9"/><circle cx="535.7" cy="173.0" r="5.9"/><circle cx="537.1" cy="180.6" r="5.9"/><circle cx="537.5" cy="179.9" r="5.9"/><circle cx="541.8" cy="158.5" r="5.9"/><circle cx="555.1" cy="148.4" r="5.9"/><circle cx="555.9" cy="167.3" r="5.9"/><circle cx="556.3" cy="164.9" r="5.9"/><circle cx="558.0" cy="163.7" r="5.9"/><circle cx="552.5" cy="173.4" r="5.9"/><circle cx="552.0" cy="173.7" r="5.9"/><circle cx="444.0" cy="162.5" r="5.9"/><circle cx="451.4" cy="168.5" r="5.9"/><circle cx="455.7" cy="169.5" r="5.9"/><circle cx="459.9" cy="214.0" r="5.9"/><circle cx="474.7" cy="210.8" r="5.9"/><circle cx="471.5" cy="201.3" r="5.9"/><circle cx="476.8" cy="229.8" r="5.9"/><circle cx="470.5" cy="223.5" r="5.9"/><circle cx="468.4" cy="207.6" r="5.9"/><circle cx="477.9" cy="220.3" r="5.9"/><circle cx="589.4" cy="206.5" r="5.9"/><circle cx="586.6" cy="207.5" r="5.9"/><circle cx="603.2" cy="212.1" r="5.9"/><circle cx="601.0" cy="212.8" r="5.9"/><circle cx="553.6" cy="233.2" r="5.9"/><circle cx="549.5" cy="205.4" r="5.9"/><circle cx="551.0" cy="207.2" r="5.9"/><circle cx="553.3" cy="207.5" r="5.9"/><circle cx="565.9" cy="234.3" r="5.9"/><circle cx="563.9" cy="232.1" r="5.9"/><circle cx="537.0" cy="236.5" r="5.9"/><circle cx="539.9" cy="237.3" r="5.9"/><circle cx="543.3" cy="230.6" r="5.9"/><circle cx="541.2" cy="229.4" r="5.9"/><circle cx="538.8" cy="228.5" r="5.9"/><circle cx="587.6" cy="222.9" r="5.9"/><circle cx="590.1" cy="221.5" r="5.9"/><circle cx="574.9" cy="195.3" r="5.9"/><circle cx="577.1" cy="196.1" r="5.9"/><circle cx="580.0" cy="196.1" r="5.9"/><circle cx="559.4" cy="188.2" r="5.9"/><circle cx="559.0" cy="190.9" r="5.9"/><circle cx="573.9" cy="228.4" r="5.9"/><circle cx="576.4" cy="229.8" r="5.9"/><circle cx="579.1" cy="230.6" r="5.9"/><circle cx="541.7" cy="217.4" r="5.9"/><circle cx="548.9" cy="186.8" r="5.9"/><circle cx="563.8" cy="226.9" r="5.9"/><circle cx="563.2" cy="224.1" r="5.9"/><circle cx="598.6" cy="224.6" r="5.9"/><circle cx="599.3" cy="226.7" r="5.9"/><circle cx="547.2" cy="202.2" r="5.9"/><circle cx="545.8" cy="200.5" r="5.9"/><circle cx="565.4" cy="192.0" r="5.9"/><circle cx="567.8" cy="190.8" r="5.9"/><circle cx="570.5" cy="189.8" r="5.9"/><circle cx="572.9" cy="183.5" r="5.9"/><circle cx="576.3" cy="183.9" r="5.9"/><circle cx="593.5" cy="207.5" r="5.9"/><circle cx="595.1" cy="206.3" r="5.9"/><circle cx="598.1" cy="205.1" r="5.9"/><circle cx="573.6" cy="223.6" r="5.9"/><circle cx="571.8" cy="208.5" r="5.9"/><circle cx="572.4" cy="210.2" r="5.9"/><circle cx="571.5" cy="212.8" r="5.9"/><circle cx="574.1" cy="205.8" r="5.9"/><circle cx="577.4" cy="206.6" r="5.9"/><circle cx="578.4" cy="221.9" r="5.9"/><circle cx="580.4" cy="219.0" r="5.9"/><circle cx="581.9" cy="215.8" r="5.9"/><circle cx="513.7" cy="208.3" r="5.9"/><circle cx="514.9" cy="211.8" r="5.9"/><circle cx="561.1" cy="179.3" r="5.9"/><circle cx="559.7" cy="180.2" r="5.9"/><circle cx="564.7" cy="213.2" r="5.9"/><circle cx="563.1" cy="211.0" r="5.9"/><circle cx="562.4" cy="208.5" r="5.9"/><circle cx="609.5" cy="212.1" r="5.9"/><circle cx="589.0" cy="194.0" r="5.9"/><circle cx="588.8" cy="196.5" r="5.9"/><circle cx="572.0" cy="236.3" r="5.9"/><circle cx="568.9" cy="178.4" r="5.9"/><circle cx="538.0" cy="218.3" r="5.9"/><circle cx="535.9" cy="218.7" r="5.9"/><circle cx="533.1" cy="219.7" r="5.9"/><circle cx="584.9" cy="190.1" r="5.9"/><circle cx="583.7" cy="187.9" r="5.9"/><circle cx="560.7" cy="221.2" r="5.9"/><circle cx="558.8" cy="219.2" r="5.9"/><circle cx="556.5" cy="216.6" r="5.9"/><circle cx="590.9" cy="230.0" r="5.9"/><circle cx="548.7" cy="176.5" r="5.9"/><circle cx="551.6" cy="178.3" r="5.9"/><circle cx="593.7" cy="174.0" r="5.9"/><circle cx="589.0" cy="170.1" r="5.9"/><circle cx="600.6" cy="170.1" r="5.9"/><circle cx="612.3" cy="168.9" r="5.9"/><circle cx="616.9" cy="158.4" r="5.9"/><circle cx="608.8" cy="156.1" r="5.9"/><circle cx="629.7" cy="156.1" r="5.9"/><circle cx="598.3" cy="181.7" r="5.9"/><circle cx="603.0" cy="175.9" r="5.9"/><circle cx="472.5" cy="201.4" r="5.9"/><circle cx="472.4" cy="202.0" r="5.9"/><circle cx="474.9" cy="207.5" r="5.9"/><circle cx="475.1" cy="210.3" r="5.9"/><circle cx="472.7" cy="219.8" r="5.9"/><circle cx="477.2" cy="228.6" r="5.9"/><circle cx="474.9" cy="227.3" r="5.9"/><circle cx="479.9" cy="230.7" r="5.9"/><circle cx="482.8" cy="232.1" r="5.9"/><circle cx="487.4" cy="239.3" r="5.9"/><circle cx="492.2" cy="244.9" r="5.9"/><circle cx="495.7" cy="246.2" r="5.9"/><circle cx="461.0" cy="213.6" r="5.9"/><circle cx="501.7" cy="241.1" r="5.9"/><circle cx="513.3" cy="239.9" r="5.9"/><circle cx="511.0" cy="229.4" r="5.9"/><circle cx="509.8" cy="216.6" r="5.9"/><circle cx="506.3" cy="210.8" r="5.9"/><circle cx="467.9" cy="208.5" r="5.9"/><circle cx="617.0" cy="158.0" r="5.9"/><circle cx="629.7" cy="155.9" r="5.9"/><circle cx="611.7" cy="167.5" r="5.9"/><circle cx="594.8" cy="173.9" r="5.9"/><circle cx="589.5" cy="171.7" r="5.9"/><circle cx="600.1" cy="174.9" r="5.9"/><circle cx="607.5" cy="160.1" r="5.9"/><circle cx="585.3" cy="191.9" r="5.9"/><circle cx="588.5" cy="202.4" r="5.9"/><circle cx="600.1" cy="200.3" r="5.9"/><circle cx="604.3" cy="207.7" r="5.9"/><circle cx="609.6" cy="212.0" r="5.9"/><circle cx="582.1" cy="215.1" r="5.9"/><circle cx="590.6" cy="222.5" r="5.9"/><circle cx="584.2" cy="228.9" r="5.9"/><circle cx="580.0" cy="235.2" r="5.9"/></g>
<g fill="#FFC0CB"><circle cx="438.0" cy="414.5" r="5.9"/><circle cx="435.4" cy="416.3" r="5.9"/><circle cx="432.9" cy="417.3" r="5.9"/><circle cx="429.9" cy="419.5" r="5.9"/><circle cx="408.1" cy="391.8" r="5.9"/><circle cx="430.3" cy="385.3" r="5.9"/><circle cx="430.1" cy="382.5" r="5.9"/><circle cx="427.9" cy="429.8" r="5.9"/><circle cx="421.8" cy="391.9" r="5.9"/><circle cx="419.9" cy="394.1" r="5.9"/><circle cx="420.0" cy="405.3" r="5.9"/><circle cx="417.5" cy="405.5" r="5.9"/><circle cx="414.4" cy="405.8" r="5.9"/><circle cx="410.7" cy="405.4" r="5.9"/><circle cx="418.2" cy="435.8" r="5.9"/><circle cx="415.5" cy="433.8" r="5.9"/><circle cx="412.4" cy="409.8" r="5.9"/><circle cx="415.4" cy="411.8" r="5.9"/><circle cx="417.5" cy="414.8" r="5.9"/><circle cx="420.0" cy="416.6" r="5.9"/><circle cx="432.2" cy="414.7" r="5.9"/><circle cx="432.1" cy="411.6" r="5.9"/><circle cx="432.8" cy="408.4" r="5.9"/><circle cx="413.1" cy="380.2" r="5.9"/><circle cx="401.0" cy="375.0" r="5.9"/><circle cx="399.0" cy="377.4" r="5.9"/><circle cx="397.7" cy="380.6" r="5.9"/><circle cx="427.3" cy="439.4" r="5.9"/><circle cx="439.5" cy="403.3" r="5.9"/><circle cx="398.2" cy="386.6" r="5.9"/><circle cx="399.9" cy="389.1" r="5.9"/><circle cx="440.5" cy="382.5" r="5.9"/><circle cx="438.7" cy="385.2" r="5.9"/><circle cx="437.1" cy="386.7" r="5.9"/><circle cx="412.3" cy="372.5" r="5.9"/><circle cx="410.6" cy="373.9" r="5.9"/><circle cx="407.7" cy="375.4" r="5.9"/><circle cx="405.4" cy="377.4" r="5.9"/><circle cx="418.1" cy="433.8" r="5.9"/><circle cx="416.9" cy="429.8" r="5.9"/><circle cx="416.3" cy="426.6" r="5.9"/><circle cx="415.8" cy="423.6" r="5.9"/><circle cx="422.0" cy="383.9" r="5.9"/><circle cx="431.4" cy="399.3" r="5.9"/><circle cx="429.5" cy="397.0" r="5.9"/><circle cx="428.7" cy="394.0" r="5.9"/><circle cx="427.2" cy="390.7" r="5.9"/><circle cx="469.4" cy="395.9" r="5.9"/><circle cx="470.1" cy="393.2" r="5.9"/><circle cx="471.3" cy="390.4" r="5.9"/><circle cx="457.1" cy="390.1" r="5.9"/><circle cx="494.2" cy="400.1" r="5.9"/><circle cx="491.3" cy="398.2" r="5.9"/><circle cx="461.7" cy="402.5" r="5.9"/><circle cx="482.7" cy="383.3" r="5.9"/><circle cx="480.1" cy="385.3" r="5.9"/><circle cx="475.0" cy="372.2" r="5.9"/><circle cx="475.4" cy="375.2" r="5.9"/><circle cx="475.5" cy="377.2" r="5.9"/><circle cx="463.5" cy="381.7" r="5.9"/><circle cx="459.3" cy="364.5" r="5.9"/><circle cx="460.4" cy="367.9" r="5.9"/><circle cx="460.4" cy="371.7" r="5.9"/><circle cx="486.4" cy="408.7" r="5.9"/><circle cx="465.0" cy="413.6" r="5.9"/><circle cx="466.6" cy="410.7" r="5.9"/><circle cx="469.3" cy="408.0" r="5.9"/><circle cx="470.8" cy="406.0" r="5.9"/><circle cx="481.5" cy="400.3" r="5.9"/><circle cx="478.0" cy="411.4" r="5.9"/><circle cx="487.4" cy="397.1" r="5.9"/><circle cx="486.4" cy="395.0" r="5.9"/><circle cx="484.0" cy="392.5" r="5.9"/><circle cx="473.7" cy="398.2" r="5.9"/><circle cx="454.0" cy="418.6" r="5.9"/><circle cx="455.9" cy="420.7" r="5.9"/><circle cx="479.3" cy="450.6" r="5.9"/><circle cx="476.3" cy="428.2" r="5.9"/><circle cx="478.3" cy="429.8" r="5.9"/><circle cx="447.0" cy="441.9" r="5.9"/><circle cx="448.8" cy="439.6" r="5.9"/><circle cx="447.0" cy="445.4" r="5.9"/><circle cx="446.4" cy="448.1" r="5.9"/><circle cx="442.9" cy="428.4" r="5.9"/><circle cx="440.1" cy="428.1" r="5.9"/><circle cx="437.8" cy="427.9" r="5.9"/><circle cx="456.8" cy="434.2" r="5.9"/><circle cx="458.8" cy="436.4" r="5.9"/><circle cx="460.4" cy="438.9" r="5.9"/><circle cx="461.8" cy="441.2" r="5.9"/><circle cx="434.6" cy="445.5" r="5.9"/><circle cx="436.1" cy="448.9" r="5.9"/><circle cx="437.8" cy="451.0" r="5.9"/><circle cx="439.8" cy="453.4" r="5.9"/><circle cx="465.0" cy="431.0" r="5.9"/><circle cx="486.5" cy="436.6" r="5.9"/><circle cx="484.5" cy="437.7" r="5.9"/><circle cx="482.0" cy="438.4" r="5.9"/><circle cx="494.3" cy="439.3" r="5.9"/><circle cx="497.1" cy="440.1" r="5.9"/><circle cx="498.6" cy="441.9" r="5.9"/><circle cx="506.4" cy="428.7" r="5.9"/><circle cx="508.3" cy="429.6" r="5.9"/><circle cx="489.5" cy="453.3" r="5.9"/><circle cx="487.2" cy="451.9" r="5.9"/><circle cx="486.3" cy="461.2" r="5.9"/><circle cx="483.2" cy="461.0" r="5.9"/><circle cx="464.7" cy="427.2" r="5.9"/><circle cx="465.8" cy="424.4" r="5.9"/><circle cx="466.5" cy="422.2" r="5.9"/><circle cx="507.0" cy="442.0" r="5.9"/><circle cx="508.3" cy="440.1" r="5.9"/><circle cx="510.4" cy="439.2" r="5.9"/><circle cx="475.9" cy="456.4" r="5.9"/><circle cx="474.4" cy="458.8" r="5.9"/><circle cx="475.7" cy="422.1" r="5.9"/><circle cx="484.3" cy="432.1" r="5.9"/><circle cx="487.3" cy="430.4" r="5.9"/><circle cx="489.1" cy="429.5" r="5.9"/><circle cx="491.7" cy="427.8" r="5.9"/><circle cx="469.6" cy="453.2" r="5.9"/><circle cx="467.3" cy="453.7" r="5.9"/><circle cx="490.5" cy="440.3" r="5.9"/><circle cx="456.7" cy="431.4" r="5.9"/><circle cx="454.1" cy="430.9" r="5.9"/><circle cx="451.0" cy="430.9" r="5.9"/><circle cx="452.1" cy="421.0" r="5.9"/><circle cx="449.9" cy="419.5" r="5.9"/><circle cx="447.9" cy="418.6" r="5.9"/><circle cx="500.2" cy="431.0" r="5.9"/><circle cx="484.2" cy="424.1" r="5.9"/><circle cx="436.2" cy="437.5" r="5.9"/><circle cx="439.2" cy="436.0" r="5.9"/><circle cx="441.4" cy="435.2" r="5.9"/><circle cx="495.0" cy="447.6" r="5.9"/><circle cx="496.3" cy="450.3" r="5.9"/><circle cx="509.0" cy="439.4" r="5.9"/><circle cx="507.3" cy="441.7" r="5.9"/><circle cx="506.6" cy="443.6" r="5.9"/><circle cx="505.3" cy="446.5" r="5.9"/><circle cx="367.2" cy="515.7" r="5.9"/><circle cx="366.3" cy="437.7" r="5.9"/><circle cx="367.0" cy="434.4" r="5.9"/><circle cx="344.6" cy="467.0" r="5.9"/><circle cx="347.2" cy="465.9" r="5.9"/><circle cx="350.7" cy="465.1" r="5.9"/><circle cx="331.0" cy="428.9" r="5.9"/><circle cx="332.1" cy="431.0" r="5.9"/><circle cx="333.4" cy="433.3" r="5.9"/><circle cx="403.5" cy="480.4" r="5.9"/><circle cx="402.6" cy="477.6" r="5.9"/><circle cx="341.6" cy="422.0" r="5.9"/><circle cx="412.1" cy="471.8" r="5.9"/><circle cx="413.2" cy="469.0" r="5.9"/><circle cx="413.0" cy="467.3" r="5.9"/><circle cx="413.8" cy="464.5" r="5.9"/><circle cx="343.0" cy="479.6" r="5.9"/><circle cx="341.7" cy="482.7" r="5.9"/><circle cx="366.5" cy="483.7" r="5.9"/><circle cx="366.5" cy="480.9" r="5.9"/><circle cx="366.5" cy="478.9" r="5.9"/><circle cx="368.0" cy="494.1" r="5.9"/><circle cx="367.2" cy="492.0" r="5.9"/><circle cx="361.5" cy="476.0" r="5.9"/><circle cx="358.7" cy="475.8" r="5.9"/><circle cx="355.5" cy="475.9" r="5.9"/><circle cx="393.4" cy="523.8" r="5.9"/><circle cx="362.3" cy="446.5" r="5.9"/><circle cx="386.1" cy="428.8" r="5.9"/><circle cx="385.6" cy="432.0" r="5.9"/><circle cx="385.6" cy="434.6" r="5.9"/><circle cx="373.8" cy="455.6" r="5.9"/><circle cx="377.7" cy="455.9" r="5.9"/><circle cx="380.1" cy="455.3" r="5.9"/><circle cx="351.0" cy="491.4" r="5.9"/><circle cx="354.0" cy="491.7" r="5.9"/><circle cx="370.2" cy="504.6" r="5.9"/><circle cx="347.4" cy="449.5" r="5.9"/><circle cx="350.3" cy="448.8" r="5.9"/><circle cx="352.6" cy="446.8" r="5.9"/><circle cx="335.8" cy="468.4" r="5.9"/><circle cx="334.3" cy="466.1" r="5.9"/><circle cx="340.1" cy="447.5" r="5.9"/><circle cx="345.9" cy="411.6" r="5.9"/><circle cx="389.5" cy="501.3" r="5.9"/><circle cx="372.8" cy="486.0" r="5.9"/><circle cx="375.3" cy="488.1" r="5.9"/><circle cx="362.4" cy="463.4" r="5.9"/><circle cx="362.8" cy="466.4" r="5.9"/><circle cx="362.5" cy="469.6" r="5.9"/><circle cx="396.5" cy="514.3" r="5.9"/><circle cx="394.7" cy="515.4" r="5.9"/><circle cx="360.1" cy="500.4" r="5.9"/><circle cx="361.6" cy="498.3" r="5.9"/><circle cx="399.9" cy="463.2" r="5.9"/><circle cx="398.0" cy="464.8" r="5.9"/><circle cx="384.2" cy="456.4" r="5.9"/><circle cx="386.6" cy="457.3" r="5.9"/><circle cx="389.2" cy="458.6" r="5.9"/><circle cx="322.9" cy="438.7" r="5.9"/><circle cx="325.7" cy="440.2" r="5.9"/><circle cx="328.4" cy="441.9" r="5.9"/><circle cx="380.4" cy="501.9" r="5.9"/><circle cx="322.1" cy="459.8" r="5.9"/><circle cx="324.7" cy="459.6" r="5.9"/><circle cx="326.7" cy="459.1" r="5.9"/><circle cx="329.6" cy="458.9" r="5.9"/><circle cx="386.6" cy="495.6" r="5.9"/><circle cx="384.5" cy="493.5" r="5.9"/><circle cx="324.9" cy="443.5" r="5.9"/><circle cx="326.5" cy="446.1" r="5.9"/><circle cx="329.3" cy="448.0" r="5.9"/><circle cx="331.6" cy="449.8" r="5.9"/><circle cx="357.9" cy="463.3" r="5.9"/><circle cx="359.8" cy="461.6" r="5.9"/><circle cx="360.3" cy="459.0" r="5.9"/><circle cx="345.9" cy="457.9" r="5.9"/><circle cx="374.8" cy="437.0" r="5.9"/><circle cx="373.0" cy="523.5" r="5.9"/><circle cx="374.1" cy="521.0" r="5.9"/><circle cx="374.1" cy="519.2" r="5.9"/><circle cx="375.1" cy="516.5" r="5.9"/><circle cx="411.7" cy="476.6" r="5.9"/><circle cx="412.0" cy="474.0" r="5.9"/><circle cx="365.6" cy="426.5" r="5.9"/><circle cx="363.8" cy="425.4" r="5.9"/><circle cx="337.9" cy="457.0" r="5.9"/><circle cx="372.6" cy="445.7" r="5.9"/><circle cx="337.0" cy="471.2" r="5.9"/><circle cx="338.8" cy="473.3" r="5.9"/><circle cx="408.7" cy="455.6" r="5.9"/><circle cx="406.5" cy="456.6" r="5.9"/><circle cx="405.2" cy="458.4" r="5.9"/><circle cx="350.8" cy="416.2" r="5.9"/><circle cx="351.0" cy="418.3" r="5.9"/><circle cx="337.6" cy="413.5" r="5.9"/><circle cx="322.7" cy="450.2" r="5.9"/><circle cx="383.1" cy="425.9" r="5.9"/><circle cx="377.5" cy="473.5" r="5.9"/><circle cx="375.3" cy="473.5" r="5.9"/><circle cx="373.5" cy="474.2" r="5.9"/><circle cx="380.6" cy="443.7" r="5.9"/><circle cx="379.5" cy="521.0" r="5.9"/><circle cx="382.7" cy="521.9" r="5.9"/><circle cx="384.7" cy="523.2" r="5.9"/><circle cx="374.4" cy="496.0" r="5.9"/><circle cx="362.7" cy="508.9" r="5.9"/><circle cx="347.7" cy="492.4" r="5.9"/><circle cx="346.2" cy="489.9" r="5.9"/><circle cx="417.4" cy="466.3" r="5.9"/><circle cx="420.7" cy="463.8" r="5.9"/><circle cx="422.7" cy="462.2" r="5.9"/><circle cx="393.3" cy="528.3" r="5.9"/><circle cx="400.0" cy="537.2" r="5.9"/><circle cx="406.7" cy="539.4" r="5.9"/><circle cx="395.6" cy="543.9" r="5.9"/><circle cx="377.8" cy="532.8" r="5.9"/><circle cx="373.3" cy="539.4" r="5.9"/><circle cx="458.9" cy="370.6" r="5.9"/><circle cx="463.6" cy="521.8" r="5.9"/><circle cx="465.2" cy="523.6" r="5.9"/><circle cx="440.9" cy="492.6" r="5.9"/><circle cx="443.0" cy="492.1" r="5.9"/><circle cx="445.7" cy="492.6" r="5.9"/><circle cx="440.9" cy="514.3" r="5.9"/><circle cx="443.6" cy="514.7" r="5.9"/><circle cx="447.2" cy="514.6" r="5.9"/><circle cx="434.6" cy="509.1" r="5.9"/><circle cx="431.8" cy="508.8" r="5.9"/><circle cx="429.7" cy="507.7" r="5.9"/><circle cx="461.3" cy="495.1" r="5.9"/><circle cx="462.1" cy="493.3" r="5.9"/><circle cx="463.7" cy="490.9" r="5.9"/><circle cx="441.7" cy="528.2" r="5.9"/><circle cx="443.2" cy="526.0" r="5.9"/><circle cx="443.8" cy="522.9" r="5.9"/><circle cx="418.5" cy="491.4" r="5.9"/><circle cx="421.8" cy="491.6" r="5.9"/><circle cx="424.2" cy="491.6" r="5.9"/><circle cx="427.0" cy="491.2" r="5.9"/><circle cx="465.3" cy="500.5" r="5.9"/><circle cx="453.0" cy="489.5" r="5.9"/><circle cx="455.4" cy="488.4" r="5.9"/><circle cx="466.5" cy="546.5" r="5.9"/><circle cx="451.8" cy="543.5" r="5.9"/><circle cx="453.9" cy="500.6" r="5.9"/><circle cx="443.7" cy="507.2" r="5.9"/><circle cx="444.7" cy="504.7" r="5.9"/><circle cx="467.1" cy="539.3" r="5.9"/><circle cx="468.0" cy="537.1" r="5.9"/><circle cx="468.4" cy="534.5" r="5.9"/><circle cx="446.1" cy="538.7" r="5.9"/><circle cx="444.9" cy="536.2" r="5.9"/><circle cx="444.8" cy="532.8" r="5.9"/><circle cx="439.3" cy="498.2" r="5.9"/><circle cx="437.5" cy="496.0" r="5.9"/><circle cx="435.1" cy="494.4" r="5.9"/><circle cx="452.0" cy="512.6" r="5.9"/><circle cx="453.7" cy="515.9" r="5.9"/><circle cx="455.6" cy="517.4" r="5.9"/><circle cx="460.0" cy="541.7" r="5.9"/><circle cx="458.8" cy="539.1" r="5.9"/><circle cx="433.8" cy="517.9" r="5.9"/><circle cx="433.1" cy="515.1" r="5.9"/><circle cx="449.7" cy="483.3" r="5.9"/><circle cx="450.5" cy="480.4" r="5.9"/><circle cx="440.0" cy="485.9" r="5.9"/><circle cx="437.1" cy="484.2" r="5.9"/><circle cx="433.9" cy="484.1" r="5.9"/><circle cx="477.4" cy="496.9" r="5.9"/><circle cx="475.7" cy="496.3" r="5.9"/><circle cx="474.3" cy="495.7" r="5.9"/><circle cx="471.6" cy="494.5" r="5.9"/><circle cx="453.4" cy="509.5" r="5.9"/><circle cx="425.4" cy="505.1" r="5.9"/><circle cx="424.6" cy="503.3" r="5.9"/><circle cx="424.8" cy="500.9" r="5.9"/><circle cx="486.2" cy="479.6" r="5.9"/><circle cx="487.7" cy="478.2" r="5.9"/><circle cx="483.7" cy="484.7" r="5.9"/><circle cx="485.2" cy="491.2" r="5.9"/><circle cx="485.7" cy="493.9" r="5.9"/><circle cx="492.3" cy="505.4" r="5.9"/><circle cx="492.1" cy="503.5" r="5.9"/><circle cx="490.0" cy="501.6" r="5.9"/><circle cx="491.6" cy="513.0" r="5.9"/><circle cx="491.5" cy="510.1" r="5.9"/><circle cx="495.9" cy="520.6" r="5.9"/><circle cx="494.8" cy="517.2" r="5.9"/><circle cx="495.4" cy="527.0" r="5.9"/><circle cx="494.2" cy="526.9" r="5.9"/><circle cx="504.4" cy="481.7" r="5.9"/></g>
<g fill="#FF0000"><circle cx="691.5" cy="456.2" r="5.9"/><circle cx="696.3" cy="456.4" r="5.9"/><circle cx="699.8" cy="462.6" r="5.9"/><circle cx="701.4" cy="464.2" r="5.9"/><circle cx="700.3" cy="469.5" r="5.9"/><circle cx="698.2" cy="474.3" r="5.9"/><circle cx="696.4" cy="479.6" r="5.9"/><circle cx="689.6" cy="482.1" r="5.9"/><circle cx="689.7" cy="484.8" r="5.9"/><circle cx="688.4" cy="487.1" r="5.9"/><circle cx="684.1" cy="489.9" r="5.9"/><circle cx="686.0" cy="499.0" r="5.9"/><circle cx="676.7" cy="498.3" r="5.9"/><circle cx="674.3" cy="503.1" r="5.9"/><circle cx="672.4" cy="509.4" r="5.9"/><circle cx="675.4" cy="513.4" r="5.9"/><circle cx="684.2" cy="515.5" r="5.9"/><circle cx="688.7" cy="517.8" r="5.9"/><circle cx="688.5" cy="524.8" r="5.9"/><circle cx="690.4" cy="531.3" r="5.9"/><circle cx="687.4" cy="535.3" r="5.9"/><circle cx="683.3" cy="539.1" r="5.9"/><circle cx="684.6" cy="543.5" r="5.9"/><circle cx="685.1" cy="545.6" r="5.9"/><circle cx="678.8" cy="552.2" r="5.9"/><circle cx="679.8" cy="550.1" r="5.9"/><circle cx="676.4" cy="553.1" r="5.9"/><circle cx="678.8" cy="560.9" r="5.9"/><circle cx="676.6" cy="567.2" r="5.9"/><circle cx="660.4" cy="538.6" r="5.9"/><circle cx="660.6" cy="539.4" r="5.9"/><circle cx="657.6" cy="543.9" r="5.9"/><circle cx="659.4" cy="548.8" r="5.9"/><circle cx="658.4" cy="553.5" r="5.9"/><circle cx="656.4" cy="560.9" r="5.9"/><circle cx="651.9" cy="563.2" r="5.9"/><circle cx="673.9" cy="562.4" r="5.9"/><circle cx="679.8" cy="567.5" r="5.9"/><circle cx="686.8" cy="565.1" r="5.9"/><circle cx="693.7" cy="568.7" r="5.9"/><circle cx="698.8" cy="568.6" r="5.9"/><circle cx="707.1" cy="566.9" r="5.9"/><circle cx="707.8" cy="563.5" r="5.9"/><circle cx="709.3" cy="560.2" r="5.9"/><circle cx="636.9" cy="594.9" r="5.9"/><circle cx="639.5" cy="596.8" r="5.9"/><circle cx="641.3" cy="598.4" r="5.9"/><circle cx="665.6" cy="587.4" r="5.9"/><circle cx="664.3" cy="585.6" r="5.9"/><circle cx="662.5" cy="584.0" r="5.9"/><circle cx="661.0" cy="592.7" r="5.9"/><circle cx="652.7" cy="584.3" r="5.9"/><circle cx="670.6" cy="574.9" r="5.9"/><circle cx="665.2" cy="586.3" r="5.9"/><circle cx="666.5" cy="585.4" r="5.9"/><circle cx="669.8" cy="584.0" r="5.9"/><circle cx="671.4" cy="583.3" r="5.9"/><circle cx="683.3" cy="577.4" r="5.9"/><circle cx="680.5" cy="577.5" r="5.9"/><circle cx="678.3" cy="577.0" r="5.9"/><circle cx="656.0" cy="606.8" r="5.9"/><circle cx="653.5" cy="606.4" r="5.9"/><circle cx="651.5" cy="606.6" r="5.9"/><circle cx="649.3" cy="606.6" r="5.9"/><circle cx="652.9" cy="601.1" r="5.9"/><circle cx="655.9" cy="601.3" r="5.9"/><circle cx="657.2" cy="624.0" r="5.9"/><circle cx="659.9" cy="623.2" r="5.9"/><circle cx="667.6" cy="592.6" r="5.9"/><circle cx="669.7" cy="593.2" r="5.9"/><circle cx="655.0" cy="602.3" r="5.9"/><circle cx="653.5" cy="599.0" r="5.9"/><circle cx="651.0" cy="596.6" r="5.9"/><circle cx="649.5" cy="594.6" r="5.9"/><circle cx="639.7" cy="587.5" r="5.9"/><circle cx="651.8" cy="608.8" r="5.9"/><circle cx="653.0" cy="612.8" r="5.9"/><circle cx="653.0" cy="615.4" r="5.9"/><circle cx="656.2" cy="610.6" r="5.9"/><circle cx="658.6" cy="609.0" r="5.9"/><circle cx="656.3" cy="577.1" r="5.9"/><circle cx="684.8" cy="615.0" r="5.9"/><circle cx="682.8" cy="613.3" r="5.9"/><circle cx="708.6" cy="640.7" r="5.9"/><circle cx="714.9" cy="623.2" r="5.9"/><circle cx="679.2" cy="641.8" r="5.9"/><circle cx="682.0" cy="641.8" r="5.9"/><circle cx="684.3" cy="642.9" r="5.9"/><circle cx="688.7" cy="601.3" r="5.9"/><circle cx="689.5" cy="603.9" r="5.9"/><circle cx="722.3" cy="613.2" r="5.9"/><circle cx="719.4" cy="614.3" r="5.9"/><circle cx="716.9" cy="615.4" r="5.9"/><circle cx="688.7" cy="629.4" r="5.9"/><circle cx="690.7" cy="629.6" r="5.9"/><circle cx="693.0" cy="629.7" r="5.9"/><circle cx="696.3" cy="629.2" r="5.9"/><circle cx="710.9" cy="589.8" r="5.9"/><circle cx="708.5" cy="587.1" r="5.9"/><circle cx="725.4" cy="605.3" r="5.9"/><circle cx="723.6" cy="607.4" r="5.9"/><circle cx="670.7" cy="622.1" r="5.9"/><circle cx="670.6" cy="624.9" r="5.9"/><circle cx="671.0" cy="628.6" r="5.9"/><circle cx="683.8" cy="627.0" r="5.9"/><circle cx="697.7" cy="607.4" r="5.9"/><circle cx="701.2" cy="607.6" r="5.9"/><circle cx="704.4" cy="608.1" r="5.9"/><circle cx="707.2" cy="608.3" r="5.9"/><circle cx="677.6" cy="647.4" r="5.9"/><circle cx="720.6" cy="637.4" r="5.9"/><circle cx="718.1" cy="635.2" r="5.9"/><circle cx="716.6" cy="601.0" r="5.9"/><circle cx="703.3" cy="590.2" r="5.9"/><circle cx="703.2" cy="593.5" r="5.9"/><circle cx="703.3" cy="596.4" r="5.9"/><circle cx="702.6" cy="599.2" r="5.9"/><circle cx="704.7" cy="625.4" r="5.9"/><circle cx="704.9" cy="622.0" r="5.9"/><circle cx="698.2" cy="649.5" r="5.9"/><circle cx="704.8" cy="638.9" r="5.9"/><circle cx="704.3" cy="636.5" r="5.9"/><circle cx="703.7" cy="633.0" r="5.9"/><circle cx="725.6" cy="623.2" r="5.9"/><circle cx="724.0" cy="625.7" r="5.9"/><circle cx="687.7" cy="635.3" r="5.9"/><circle cx="685.1" cy="635.4" r="5.9"/><circle cx="682.2" cy="635.2" r="5.9"/><circle cx="679.9" cy="635.2" r="5.9"/><circle cx="676.6" cy="617.9" r="5.9"/><circle cx="674.1" cy="618.5" r="5.9"/><circle cx="721.8" cy="612.6" r="5.9"/><circle cx="724.8" cy="614.3" r="5.9"/><circle cx="726.3" cy="615.6" r="5.9"/><circle cx="716.1" cy="590.8" r="5.9"/><circle cx="713.4" cy="593.1" r="5.9"/><circle cx="711.2" cy="594.7" r="5.9"/><circle cx="697.6" cy="621.5" r="5.9"/><circle cx="695.2" cy="621.2" r="5.9"/><circle cx="692.9" cy="621.1" r="5.9"/><circle cx="690.4" cy="621.2" r="5.9"/><circle cx="692.4" cy="647.1" r="5.9"/><circle cx="689.8" cy="648.5" r="5.9"/><circle cx="687.4" cy="650.6" r="5.9"/><circle cx="705.3" cy="589.8" r="5.9"/><circle cx="703.0" cy="590.8" r="5.9"/><circle cx="701.0" cy="591.2" r="5.9"/><circle cx="727.2" cy="585.6" r="5.9"/><circle cx="736.1" cy="583.3" r="5.9"/><circle cx="728.3" cy="597.8" r="5.9"/><circle cx="726.1" cy="604.4" r="5.9"/><circle cx="633.9" cy="593.3" r="5.9"/><circle cx="713.2" cy="508.1" r="5.9"/><circle cx="712.6" cy="532.0" r="5.9"/><circle cx="714.1" cy="533.9" r="5.9"/><circle cx="716.9" cy="536.0" r="5.9"/><circle cx="720.5" cy="556.6" r="5.9"/><circle cx="723.0" cy="556.4" r="5.9"/><circle cx="705.5" cy="512.2" r="5.9"/><circle cx="723.6" cy="547.8" r="5.9"/><circle cx="726.1" cy="548.0" r="5.9"/><circle cx="703.7" cy="523.2" r="5.9"/><circle cx="705.4" cy="521.2" r="5.9"/><circle cx="714.9" cy="525.8" r="5.9"/><circle cx="713.8" cy="523.9" r="5.9"/><circle cx="706.6" cy="493.3" r="5.9"/><circle cx="708.2" cy="495.2" r="5.9"/><circle cx="711.2" cy="497.0" r="5.9"/><circle cx="713.4" cy="499.2" r="5.9"/><circle cx="737.5" cy="554.8" r="5.9"/><circle cx="737.3" cy="557.3" r="5.9"/><circle cx="737.6" cy="561.1" r="5.9"/><circle cx="730.4" cy="568.6" r="5.9"/><circle cx="729.6" cy="566.4" r="5.9"/><circle cx="728.9" cy="564.2" r="5.9"/><circle cx="704.2" cy="504.2" r="5.9"/><circle cx="725.5" cy="530.9" r="5.9"/><circle cx="726.2" cy="533.8" r="5.9"/><circle cx="725.5" cy="535.7" r="5.9"/><circle cx="725.2" cy="538.5" r="5.9"/><circle cx="717.9" cy="550.6" r="5.9"/><circle cx="716.5" cy="547.9" r="5.9"/><circle cx="715.1" cy="524.2" r="5.9"/><circle cx="716.1" cy="520.9" r="5.9"/><circle cx="716.2" cy="518.1" r="5.9"/><circle cx="716.8" cy="515.5" r="5.9"/><circle cx="739.2" cy="551.2" r="5.9"/><circle cx="737.2" cy="551.6" r="5.9"/><circle cx="734.5" cy="550.9" r="5.9"/><circle cx="742.9" cy="479.0" r="5.9"/><circle cx="745.1" cy="549.6" r="5.9"/><circle cx="747.9" cy="549.6" r="5.9"/><circle cx="750.1" cy="550.1" r="5.9"/><circle cx="783.7" cy="558.6" r="5.9"/><circle cx="780.9" cy="561.2" r="5.9"/><circle cx="780.0" cy="564.4" r="5.9"/><circle cx="777.7" cy="566.4" r="5.9"/><circle cx="773.7" cy="552.8" r="5.9"/><circle cx="771.7" cy="551.0" r="5.9"/><circle cx="796.7" cy="549.9" r="5.9"/><circle cx="797.1" cy="552.7" r="5.9"/><circle cx="784.7" cy="515.1" r="5.9"/><circle cx="784.2" cy="572.5" r="5.9"/><circle cx="782.8" cy="574.7" r="5.9"/><circle cx="782.4" cy="576.7" r="5.9"/><circle cx="797.6" cy="512.5" r="5.9"/><circle cx="797.4" cy="510.5" r="5.9"/><circle cx="795.6" cy="507.9" r="5.9"/><circle cx="755.0" cy="555.3" r="5.9"/><circle cx="758.0" cy="556.3" r="5.9"/><circle cx="778.5" cy="555.2" r="5.9"/><circle cx="781.1" cy="557.4" r="5.9"/><circle cx="783.4" cy="558.3" r="5.9"/><circle cx="804.7" cy="565.5" r="5.9"/><circle cx="806.4" cy="567.9" r="5.9"/><circle cx="807.3" cy="571.0" r="5.9"/><circle cx="765.1" cy="529.3" r="5.9"/><circle cx="766.7" cy="527.0" r="5.9"/><circle cx="769.1" cy="525.8" r="5.9"/><circle cx="770.6" cy="523.7" r="5.9"/><circle cx="783.6" cy="500.5" r="5.9"/><circle cx="783.1" cy="498.3" r="5.9"/><circle cx="783.4" cy="495.8" r="5.9"/><circle cx="763.8" cy="570.1" r="5.9"/><circle cx="765.0" cy="567.1" r="5.9"/><circle cx="766.7" cy="564.9" r="5.9"/><circle cx="746.2" cy="581.6" r="5.9"/><circle cx="761.8" cy="602.7" r="5.9"/><circle cx="764.3" cy="600.5" r="5.9"/><circle cx="765.8" cy="597.9" r="5.9"/><circle cx="809.8" cy="510.5" r="5.9"/><circle cx="812.4" cy="512.9" r="5.9"/><circle cx="738.1" cy="572.3" r="5.9"/><circle cx="745.4" cy="503.7" r="5.9"/><circle cx="746.9" cy="500.6" r="5.9"/><circle cx="747.1" cy="498.2" r="5.9"/><circle cx="795.8" cy="521.4" r="5.9"/><circle cx="799.4" cy="521.7" r="5.9"/><circle cx="802.4" cy="521.2" r="5.9"/><circle cx="768.2" cy="582.3" r="5.9"/><circle cx="765.5" cy="583.6" r="5.9"/><circle cx="796.8" cy="533.8" r="5.9"/><circle cx="775.0" cy="594.0" r="5.9"/><circle cx="793.0" cy="516.2" r="5.9"/><circle cx="786.1" cy="547.2" r="5.9"/><circle cx="783.8" cy="546.3" r="5.9"/><circle cx="781.5" cy="544.9" r="5.9"/><circle cx="779.0" cy="544.4" r="5.9"/><circle cx="726.4" cy="489.6" r="5.9"/><circle cx="726.6" cy="492.6" r="5.9"/><circle cx="726.1" cy="495.6" r="5.9"/><circle cx="725.8" cy="491.5" r="5.9"/><circle cx="728.4" cy="490.0" r="5.9"/><circle cx="730.9" cy="489.5" r="5.9"/><circle cx="733.8" cy="488.6" r="5.9"/><circle cx="746.9" cy="486.2" r="5.9"/><circle cx="744.5" cy="486.0" r="5.9"/><circle cx="742.6" cy="487.0" r="5.9"/><circle cx="766.7" cy="498.3" r="5.9"/><circle cx="792.5" cy="538.0" r="5.9"/><circle cx="790.1" cy="540.3" r="5.9"/><circle cx="785.1" cy="479.1" r="5.9"/><circle cx="782.9" cy="478.0" r="5.9"/><circle cx="812.3" cy="554.9" r="5.9"/><circle cx="815.2" cy="556.1" r="5.9"/><circle cx="817.0" cy="557.7" r="5.9"/><circle cx="741.6" cy="506.7" r="5.9"/><circle cx="739.1" cy="508.0" r="5.9"/><circle cx="772.3" cy="480.2" r="5.9"/><circle cx="770.6" cy="478.3" r="5.9"/><circle cx="736.2" cy="487.9" r="5.9"/><circle cx="735.5" cy="490.9" r="5.9"/><circle cx="735.1" cy="494.5" r="5.9"/><circle cx="735.6" cy="497.2" r="5.9"/><circle cx="745.9" cy="493.9" r="5.9"/><circle cx="747.6" cy="493.4" r="5.9"/><circle cx="749.4" cy="491.3" r="5.9"/><circle cx="750.7" cy="490.3" r="5.9"/><circle cx="748.7" cy="514.2" r="5.9"/><circle cx="749.3" cy="515.9" r="5.9"/><circle cx="749.2" cy="518.5" r="5.9"/><circle cx="749.2" cy="520.9" r="5.9"/><circle cx="759.0" cy="488.4" r="5.9"/><circle cx="759.7" cy="486.7" r="5.9"/><circle cx="760.8" cy="484.6" r="5.9"/><circle cx="754.7" cy="513.4" r="5.9"/><circle cx="729.7" cy="480.8" r="5.9"/><circle cx="759.9" cy="531.9" r="5.9"/><circle cx="762.6" cy="533.8" r="5.9"/><circle cx="739.8" cy="507.2" r="5.9"/><circle cx="736.8" cy="506.4" r="5.9"/><circle cx="733.4" cy="505.6" r="5.9"/><circle cx="730.4" cy="505.4" r="5.9"/><circle cx="756.6" cy="565.6" r="5.9"/><circle cx="803.4" cy="560.3" r="5.9"/><circle cx="806.0" cy="560.1" r="5.9"/><circle cx="808.7" cy="550.2" r="5.9"/><circle cx="807.3" cy="548.9" r="5.9"/><circle cx="799.7" cy="500.8" r="5.9"/><circle cx="815.7" cy="549.0" r="5.9"/><circle cx="761.7" cy="511.8" r="5.9"/><circle cx="764.2" cy="511.1" r="5.9"/><circle cx="765.1" cy="574.4" r="5.9"/><circle cx="809.2" cy="534.3" r="5.9"/><circle cx="806.8" cy="532.3" r="5.9"/><circle cx="750.8" cy="561.5" r="5.9"/><circle cx="748.3" cy="560.6" r="5.9"/><circle cx="781.0" cy="535.3" r="5.9"/><circle cx="797.4" cy="576.5" r="5.9"/><circle cx="796.3" cy="579.9" r="5.9"/><circle cx="795.5" cy="582.9" r="5.9"/><circle cx="771.9" cy="489.2" r="5.9"/><circle cx="769.4" cy="488.8" r="5.9"/><circle cx="817.3" cy="505.1" r="5.9"/><circle cx="818.4" cy="502.4" r="5.9"/><circle cx="801.9" cy="490.8" r="5.9"/><circle cx="783.5" cy="487.1" r="5.9"/><circle cx="785.4" cy="485.9" r="5.9"/><circle cx="751.5" cy="480.6" r="5.9"/><circle cx="801.7" cy="513.2" r="5.9"/><circle cx="752.0" cy="526.4" r="5.9"/><circle cx="752.5" cy="528.6" r="5.9"/><circle cx="758.8" cy="594.3" r="5.9"/><circle cx="756.5" cy="591.4" r="5.9"/><circle cx="772.2" cy="545.6" r="5.9"/><circle cx="770.1" cy="543.2" r="5.9"/><circle cx="815.1" cy="585.8" r="5.9"/><circle cx="812.1" cy="584.0" r="5.9"/><circle cx="809.6" cy="582.2" r="5.9"/><circle cx="807.2" cy="580.0" r="5.9"/><circle cx="750.3" cy="532.7" r="5.9"/><circle cx="749.5" cy="535.2" r="5.9"/><circle cx="748.6" cy="538.6" r="5.9"/><circle cx="739.8" cy="516.1" r="5.9"/><circle cx="743.0" cy="515.1" r="5.9"/><circle cx="813.4" cy="573.4" r="5.9"/><circle cx="815.6" cy="572.9" r="5.9"/><circle cx="754.3" cy="587.0" r="5.9"/><circle cx="756.0" cy="584.8" r="5.9"/><circle cx="756.5" cy="582.7" r="5.9"/><circle cx="757.2" cy="580.2" r="5.9"/><circle cx="763.7" cy="501.8" r="5.9"/><circle cx="760.8" cy="503.7" r="5.9"/><circle cx="758.1" cy="504.8" r="5.9"/><circle cx="774.8" cy="580.3" r="5.9"/><circle cx="791.5" cy="494.5" r="5.9"/><circle cx="791.8" cy="496.8" r="5.9"/><circle cx="729.1" cy="473.6" r="5.9"/><circle cx="731.8" cy="471.5" r="5.9"/><circle cx="769.8" cy="534.8" r="5.9"/><circle cx="771.7" cy="532.4" r="5.9"/><circle cx="763.9" cy="521.9" r="5.9"/><circle cx="760.9" cy="522.0" r="5.9"/><circle cx="758.5" cy="520.5" r="5.9"/><circle cx="745.3" cy="508.1" r="5.9"/><circle cx="747.8" cy="507.1" r="5.9"/><circle cx="777.8" cy="501.9" r="5.9"/><circle cx="789.2" cy="551.3" r="5.9"/><circle cx="793.7" cy="487.2" r="5.9"/><circle cx="810.4" cy="522.3" r="5.9"/><circle cx="774.8" cy="478.3" r="5.9"/><circle cx="775.6" cy="480.6" r="5.9"/><circle cx="777.0" cy="483.8" r="5.9"/><circle cx="777.4" cy="485.8" r="5.9"/><circle cx="779.6" cy="506.4" r="5.9"/><circle cx="782.8" cy="506.0" r="5.9"/><circle cx="784.8" cy="505.8" r="5.9"/><circle cx="786.6" cy="505.0" r="5.9"/><circle cx="801.6" cy="540.4" r="5.9"/><circle cx="815.1" cy="494.4" r="5.9"/><circle cx="777.5" cy="566.5" r="5.9"/><circle cx="776.4" cy="563.7" r="5.9"/><circle cx="774.2" cy="561.2" r="5.9"/><circle cx="773.3" cy="558.9" r="5.9"/></g>
<g fill="#FFA500"><circle cx="730.7" cy="155.6" r="5.9"/><circle cx="732.5" cy="157.3" r="5.9"/><circle cx="735.2" cy="159.4" r="5.9"/><circle cx="722.4" cy="162.6" r="5.9"/><circle cx="720.2" cy="161.2" r="5.9"/><circle cx="629.0" cy="170.0" r="5.9"/><circle cx="630.7" cy="171.2" r="5.9"/><circle cx="632.9" cy="172.3" r="5.9"/><circle cx="644.9" cy="174.5" r="5.9"/><circle cx="647.1" cy="175.7" r="5.9"/><circle cx="649.4" cy="176.7" r="5.9"/><circle cx="698.9" cy="156.3" r="5.9"/><circle cx="702.0" cy="169.1" r="5.9"/><circle cx="703.7" cy="171.4" r="5.9"/><circle cx="705.8" cy="173.9" r="5.9"/><circle cx="659.4" cy="170.3" r="5.9"/><circle cx="656.6" cy="169.4" r="5.9"/><circle cx="655.6" cy="167.9" r="5.9"/><circle cx="653.3" cy="166.5" r="5.9"/><circle cx="658.1" cy="151.3" r="5.9"/><circle cx="656.1" cy="153.6" r="5.9"/><circle cx="732.4" cy="171.6" r="5.9"/><circle cx="734.3" cy="171.0" r="5.9"/><circle cx="690.3" cy="172.8" r="5.9"/><circle cx="693.2" cy="173.8" r="5.9"/><circle cx="629.1" cy="170.0" r="5.9"/><circle cx="630.0" cy="166.3" r="5.9"/><circle cx="631.4" cy="163.3" r="5.9"/><circle cx="665.8" cy="152.5" r="5.9"/><circle cx="668.0" cy="153.3" r="5.9"/><circle cx="682.8" cy="168.3" r="5.9"/><circle cx="704.8" cy="162.4" r="5.9"/><circle cx="707.4" cy="160.1" r="5.9"/><circle cx="642.0" cy="161.1" r="5.9"/><circle cx="699.6" cy="166.4" r="5.9"/><circle cx="642.2" cy="175.3" r="5.9"/><circle cx="639.7" cy="177.0" r="5.9"/><circle cx="637.7" cy="179.3" r="5.9"/><circle cx="644.1" cy="170.5" r="5.9"/><circle cx="679.0" cy="159.9" r="5.9"/><circle cx="676.3" cy="161.8" r="5.9"/><circle cx="674.8" cy="163.0" r="5.9"/><circle cx="668.3" cy="185.7" r="5.9"/><circle cx="666.6" cy="183.5" r="5.9"/><circle cx="664.1" cy="181.7" r="5.9"/><circle cx="727.0" cy="165.7" r="5.9"/><circle cx="686.9" cy="164.7" r="5.9"/><circle cx="688.5" cy="162.9" r="5.9"/><circle cx="689.3" cy="160.3" r="5.9"/><circle cx="680.1" cy="152.9" r="5.9"/><circle cx="677.8" cy="153.6" r="5.9"/><circle cx="645.4" cy="153.4" r="5.9"/><circle cx="671.3" cy="184.7" r="5.9"/><circle cx="671.3" cy="181.6" r="5.9"/><circle cx="671.7" cy="178.5" r="5.9"/><circle cx="671.4" cy="175.6" r="5.9"/><circle cx="628.5" cy="180.8" r="5.9"/><circle cx="627.1" cy="178.4" r="5.9"/><circle cx="626.3" cy="175.2" r="5.9"/><circle cx="624.4" cy="172.6" r="5.9"/><circle cx="713.9" cy="173.4" r="5.9"/><circle cx="714.7" cy="171.7" r="5.9"/><circle cx="715.0" cy="168.6" r="5.9"/><circle cx="743.2" cy="156.8" r="5.9"/><circle cx="743.0" cy="159.7" r="5.9"/><circle cx="742.0" cy="163.4" r="5.9"/><circle cx="742.2" cy="166.0" r="5.9"/><circle cx="725.5" cy="157.3" r="5.9"/><circle cx="726.5" cy="156.0" r="5.9"/><circle cx="726.3" cy="186.8" r="5.9"/><circle cx="725.1" cy="188.7" r="5.9"/><circle cx="732.4" cy="174.3" r="5.9"/><circle cx="731.2" cy="175.9" r="5.9"/><circle cx="725.9" cy="195.2" r="5.9"/><circle cx="725.9" cy="199.5" r="5.9"/><circle cx="725.9" cy="202.3" r="5.9"/><circle cx="733.3" cy="193.8" r="5.9"/><circle cx="730.8" cy="187.0" r="5.9"/><circle cx="732.5" cy="185.8" r="5.9"/><circle cx="734.7" cy="185.1" r="5.9"/><circle cx="717.1" cy="197.7" r="5.9"/><circle cx="718.3" cy="186.1" r="5.9"/><circle cx="715.7" cy="186.8" r="5.9"/><circle cx="657.4" cy="243.1" r="5.9"/><circle cx="665.9" cy="227.3" r="5.9"/><circle cx="664.9" cy="230.7" r="5.9"/><circle cx="664.8" cy="233.0" r="5.9"/><circle cx="679.4" cy="230.4" r="5.9"/><circle cx="681.8" cy="231.2" r="5.9"/><circle cx="684.7" cy="231.6" r="5.9"/><circle cx="687.4" cy="231.9" r="5.9"/><circle cx="669.5" cy="222.6" r="5.9"/><circle cx="668.2" cy="220.6" r="5.9"/><circle cx="665.9" cy="219.3" r="5.9"/><circle cx="695.2" cy="229.4" r="5.9"/><circle cx="696.9" cy="231.8" r="5.9"/><circle cx="699.7" cy="234.2" r="5.9"/><circle cx="630.6" cy="222.3" r="5.9"/><circle cx="634.4" cy="221.7" r="5.9"/><circle cx="636.9" cy="221.2" r="5.9"/><circle cx="640.4" cy="220.0" r="5.9"/><circle cx="683.9" cy="233.9" r="5.9"/><circle cx="680.3" cy="231.9" r="5.9"/><circle cx="678.4" cy="231.2" r="5.9"/><circle cx="675.0" cy="230.5" r="5.9"/><circle cx="703.7" cy="231.5" r="5.9"/><circle cx="700.7" cy="229.8" r="5.9"/><circle cx="697.7" cy="228.7" r="5.9"/><circle cx="694.8" cy="226.8" r="5.9"/><circle cx="649.6" cy="225.2" r="5.9"/><circle cx="648.2" cy="228.2" r="5.9"/><circle cx="647.0" cy="245.3" r="5.9"/><circle cx="645.0" cy="245.7" r="5.9"/><circle cx="642.5" cy="247.0" r="5.9"/><circle cx="640.3" cy="247.9" r="5.9"/><circle cx="681.5" cy="191.7" r="5.9"/><circle cx="682.9" cy="193.6" r="5.9"/><circle cx="684.8" cy="197.0" r="5.9"/><circle cx="685.7" cy="199.1" r="5.9"/><circle cx="705.4" cy="207.5" r="5.9"/><circle cx="702.1" cy="208.0" r="5.9"/><circle cx="698.6" cy="206.9" r="5.9"/><circle cx="695.4" cy="206.9" r="5.9"/><circle cx="665.6" cy="243.6" r="5.9"/><circle cx="667.7" cy="242.1" r="5.9"/><circle cx="670.5" cy="240.6" r="5.9"/><circle cx="672.8" cy="239.1" r="5.9"/><circle cx="692.8" cy="208.2" r="5.9"/><circle cx="692.0" cy="211.3" r="5.9"/><circle cx="691.5" cy="214.3" r="5.9"/><circle cx="646.5" cy="239.6" r="5.9"/><circle cx="678.1" cy="212.6" r="5.9"/><circle cx="674.7" cy="198.0" r="5.9"/><circle cx="684.0" cy="241.2" r="5.9"/><circle cx="681.6" cy="240.9" r="5.9"/><circle cx="660.0" cy="236.3" r="5.9"/><circle cx="657.9" cy="233.0" r="5.9"/><circle cx="656.4" cy="230.9" r="5.9"/><circle cx="648.7" cy="247.5" r="5.9"/><circle cx="652.5" cy="221.6" r="5.9"/><circle cx="654.6" cy="221.3" r="5.9"/><circle cx="657.1" cy="220.3" r="5.9"/><circle cx="650.5" cy="256.5" r="5.9"/><circle cx="619.7" cy="248.2" r="5.9"/><circle cx="616.9" cy="231.6" r="5.9"/><circle cx="620.1" cy="222.4" r="5.9"/><circle cx="619.1" cy="220.1" r="5.9"/><circle cx="617.8" cy="218.1" r="5.9"/><circle cx="609.6" cy="222.7" r="5.9"/><circle cx="611.4" cy="224.9" r="5.9"/><circle cx="625.4" cy="224.4" r="5.9"/><circle cx="625.2" cy="227.7" r="5.9"/><circle cx="624.2" cy="230.3" r="5.9"/><circle cx="624.7" cy="233.8" r="5.9"/><circle cx="616.6" cy="242.6" r="5.9"/><circle cx="615.3" cy="240.4" r="5.9"/><circle cx="652.8" cy="257.9" r="5.9"/><circle cx="650.6" cy="255.6" r="5.9"/><circle cx="651.8" cy="260.3" r="5.9"/><circle cx="652.5" cy="262.0" r="5.9"/><circle cx="654.2" cy="263.9" r="5.9"/><circle cx="660.5" cy="271.0" r="5.9"/><circle cx="671.8" cy="277.9" r="5.9"/><circle cx="668.4" cy="274.5" r="5.9"/><circle cx="670.4" cy="281.9" r="5.9"/><circle cx="670.6" cy="283.9" r="5.9"/><circle cx="688.5" cy="285.6" r="5.9"/><circle cx="684.9" cy="286.0" r="5.9"/><circle cx="682.0" cy="286.5" r="5.9"/><circle cx="689.8" cy="282.4" r="5.9"/><circle cx="688.0" cy="291.5" r="5.9"/><circle cx="689.9" cy="289.1" r="5.9"/><circle cx="694.4" cy="295.4" r="5.9"/><circle cx="703.6" cy="304.8" r="5.9"/><circle cx="700.9" cy="301.6" r="5.9"/><circle cx="702.9" cy="310.2" r="5.9"/><circle cx="701.9" cy="307.3" r="5.9"/><circle cx="699.6" cy="310.4" r="5.9"/><circle cx="697.6" cy="310.9" r="5.9"/><circle cx="695.2" cy="311.6" r="5.9"/><circle cx="672.1" cy="299.8" r="5.9"/><circle cx="711.2" cy="295.6" r="5.9"/><circle cx="719.7" cy="294.5" r="5.9"/><circle cx="735.6" cy="309.3" r="5.9"/><circle cx="719.7" cy="315.7" r="5.9"/><circle cx="666.8" cy="267.0" r="5.9"/><circle cx="677.4" cy="277.6" r="5.9"/><circle cx="687.9" cy="277.6" r="5.9"/><circle cx="702.8" cy="300.8" r="5.9"/><circle cx="723.1" cy="248.7" r="5.9"/><circle cx="725.5" cy="247.5" r="5.9"/><circle cx="727.9" cy="245.1" r="5.9"/><circle cx="732.4" cy="267.9" r="5.9"/><circle cx="731.6" cy="265.9" r="5.9"/><circle cx="757.4" cy="231.5" r="5.9"/><circle cx="755.4" cy="233.6" r="5.9"/><circle cx="754.5" cy="235.1" r="5.9"/><circle cx="753.0" cy="237.6" r="5.9"/><circle cx="723.1" cy="237.1" r="5.9"/><circle cx="742.9" cy="258.4" r="5.9"/><circle cx="744.6" cy="222.1" r="5.9"/><circle cx="706.4" cy="240.7" r="5.9"/><circle cx="724.6" cy="224.5" r="5.9"/><circle cx="752.0" cy="259.1" r="5.9"/><circle cx="752.9" cy="262.1" r="5.9"/><circle cx="724.2" cy="212.5" r="5.9"/><circle cx="721.1" cy="214.4" r="5.9"/><circle cx="718.9" cy="215.8" r="5.9"/><circle cx="739.1" cy="227.7" r="5.9"/><circle cx="737.7" cy="227.5" r="5.9"/><circle cx="734.9" cy="226.6" r="5.9"/><circle cx="756.9" cy="271.3" r="5.9"/><circle cx="754.4" cy="273.6" r="5.9"/><circle cx="753.3" cy="276.4" r="5.9"/><circle cx="742.3" cy="232.5" r="5.9"/><circle cx="745.0" cy="243.6" r="5.9"/><circle cx="745.8" cy="245.6" r="5.9"/><circle cx="733.8" cy="212.3" r="5.9"/><circle cx="734.5" cy="248.4" r="5.9"/><circle cx="736.9" cy="249.9" r="5.9"/><circle cx="738.4" cy="250.8" r="5.9"/><circle cx="749.3" cy="250.5" r="5.9"/><circle cx="751.2" cy="249.9" r="5.9"/><circle cx="753.9" cy="249.4" r="5.9"/><circle cx="745.5" cy="269.1" r="5.9"/><circle cx="746.3" cy="272.2" r="5.9"/><circle cx="742.8" cy="271.3" r="5.9"/><circle cx="740.2" cy="272.4" r="5.9"/><circle cx="737.1" cy="274.4" r="5.9"/><circle cx="736.3" cy="238.8" r="5.9"/><circle cx="708.6" cy="218.9" r="5.9"/><circle cx="730.7" cy="254.9" r="5.9"/><circle cx="717.3" cy="230.5" r="5.9"/><circle cx="755.4" cy="232.3" r="5.9"/><circle cx="754.0" cy="230.5" r="5.9"/><circle cx="752.3" cy="228.7" r="5.9"/><circle cx="725.4" cy="210.6" r="5.9"/></g>
<g fill="#800080"><circle cx="596.9" cy="239.5" r="5.9"/><circle cx="608.6" cy="243.7" r="5.9"/><circle cx="595.9" cy="249.0" r="5.9"/><circle cx="603.3" cy="252.2" r="5.9"/><circle cx="610.7" cy="257.5" r="5.9"/><circle cx="618.1" cy="261.7" r="5.9"/><circle cx="507.1" cy="331.5" r="5.9"/><circle cx="503.8" cy="331.0" r="5.9"/><circle cx="501.5" cy="330.9" r="5.9"/><circle cx="647.3" cy="338.1" r="5.9"/><circle cx="510.0" cy="283.3" r="5.9"/><circle cx="541.1" cy="293.2" r="5.9"/><circle cx="543.4" cy="290.9" r="5.9"/><circle cx="536.5" cy="366.8" r="5.9"/><circle cx="542.2" cy="381.8" r="5.9"/><circle cx="541.8" cy="378.9" r="5.9"/><circle cx="540.7" cy="376.3" r="5.9"/><circle cx="528.6" cy="338.0" r="5.9"/><circle cx="592.4" cy="293.8" r="5.9"/><circle cx="589.9" cy="293.6" r="5.9"/><circle cx="518.4" cy="410.5" r="5.9"/><circle cx="520.7" cy="412.2" r="5.9"/><circle cx="523.0" cy="413.8" r="5.9"/><circle cx="610.3" cy="310.1" r="5.9"/><circle cx="611.9" cy="311.5" r="5.9"/><circle cx="612.3" cy="345.8" r="5.9"/><circle cx="615.7" cy="347.6" r="5.9"/><circle cx="540.0" cy="323.7" r="5.9"/><circle cx="637.8" cy="363.1" r="5.9"/><circle cx="638.7" cy="361.4" r="5.9"/><circle cx="600.5" cy="343.2" r="5.9"/><circle cx="602.3" cy="345.1" r="5.9"/><circle cx="635.5" cy="308.6" r="5.9"/><circle cx="512.4" cy="356.2" r="5.9"/><circle cx="510.8" cy="354.8" r="5.9"/><circle cx="509.9" cy="352.9" r="5.9"/><circle cx="507.8" cy="351.5" r="5.9"/><circle cx="618.5" cy="288.3" r="5.9"/><circle cx="621.5" cy="289.8" r="5.9"/><circle cx="603.4" cy="326.4" r="5.9"/><circle cx="529.2" cy="394.1" r="5.9"/><circle cx="525.5" cy="394.1" r="5.9"/><circle cx="579.6" cy="347.0" r="5.9"/><circle cx="581.8" cy="348.1" r="5.9"/><circle cx="584.8" cy="349.2" r="5.9"/><circle cx="535.0" cy="281.3" r="5.9"/><circle cx="533.4" cy="284.8" r="5.9"/><circle cx="532.2" cy="287.3" r="5.9"/><circle cx="531.6" cy="289.8" r="5.9"/><circle cx="621.9" cy="325.6" r="5.9"/><circle cx="624.4" cy="326.1" r="5.9"/><circle cx="627.1" cy="327.3" r="5.9"/><circle cx="629.0" cy="328.7" r="5.9"/><circle cx="527.5" cy="279.8" r="5.9"/><circle cx="593.9" cy="364.3" r="5.9"/><circle cx="562.2" cy="303.8" r="5.9"/><circle cx="564.0" cy="301.1" r="5.9"/><circle cx="564.9" cy="298.7" r="5.9"/><circle cx="565.6" cy="296.1" r="5.9"/><circle cx="537.5" cy="300.7" r="5.9"/><circle cx="536.6" cy="340.1" r="5.9"/><circle cx="620.1" cy="346.5" r="5.9"/><circle cx="622.7" cy="349.9" r="5.9"/><circle cx="624.6" cy="351.9" r="5.9"/><circle cx="530.1" cy="262.1" r="5.9"/><circle cx="532.0" cy="264.2" r="5.9"/><circle cx="532.9" cy="265.6" r="5.9"/><circle cx="534.5" cy="268.0" r="5.9"/><circle cx="625.9" cy="305.9" r="5.9"/><circle cx="627.4" cy="307.6" r="5.9"/><circle cx="506.4" cy="397.8" r="5.9"/><circle cx="504.9" cy="394.8" r="5.9"/><circle cx="503.7" cy="392.9" r="5.9"/><circle cx="501.6" cy="390.4" r="5.9"/><circle cx="522.3" cy="328.9" r="5.9"/><circle cx="525.7" cy="328.1" r="5.9"/><circle cx="527.2" cy="326.9" r="5.9"/><circle cx="530.3" cy="326.0" r="5.9"/><circle cx="559.7" cy="287.7" r="5.9"/><circle cx="562.7" cy="288.0" r="5.9"/><circle cx="648.5" cy="355.4" r="5.9"/><circle cx="651.8" cy="355.9" r="5.9"/><circle cx="624.9" cy="299.8" r="5.9"/><circle cx="478.6" cy="347.3" r="5.9"/><circle cx="480.2" cy="344.8" r="5.9"/><circle cx="480.3" cy="342.2" r="5.9"/><circle cx="541.3" cy="345.5" r="5.9"/><circle cx="542.1" cy="347.1" r="5.9"/><circle cx="543.3" cy="349.5" r="5.9"/><circle cx="544.5" cy="352.5" r="5.9"/><circle cx="620.3" cy="367.2" r="5.9"/><circle cx="483.9" cy="386.5" r="5.9"/><circle cx="485.1" cy="382.9" r="5.9"/><circle cx="486.9" cy="380.3" r="5.9"/><circle cx="488.4" cy="377.9" r="5.9"/><circle cx="537.4" cy="276.4" r="5.9"/><circle cx="582.0" cy="332.3" r="5.9"/><circle cx="563.0" cy="341.7" r="5.9"/><circle cx="563.4" cy="339.0" r="5.9"/><circle cx="597.3" cy="343.9" r="5.9"/><circle cx="595.4" cy="346.3" r="5.9"/><circle cx="594.6" cy="348.9" r="5.9"/><circle cx="601.5" cy="360.2" r="5.9"/><circle cx="601.6" cy="362.5" r="5.9"/><circle cx="602.4" cy="366.1" r="5.9"/><circle cx="646.6" cy="322.4" r="5.9"/><circle cx="639.9" cy="327.1" r="5.9"/><circle cx="516.6" cy="383.5" r="5.9"/><circle cx="518.0" cy="380.9" r="5.9"/><circle cx="519.0" cy="378.3" r="5.9"/><circle cx="522.7" cy="293.8" r="5.9"/><circle cx="520.0" cy="293.6" r="5.9"/><circle cx="489.5" cy="326.9" r="5.9"/><circle cx="489.1" cy="324.3" r="5.9"/><circle cx="489.5" cy="320.7" r="5.9"/><circle cx="576.4" cy="331.9" r="5.9"/><circle cx="577.1" cy="334.2" r="5.9"/><circle cx="578.3" cy="336.8" r="5.9"/><circle cx="578.9" cy="340.1" r="5.9"/><circle cx="526.4" cy="364.8" r="5.9"/><circle cx="526.1" cy="367.9" r="5.9"/><circle cx="574.4" cy="274.9" r="5.9"/><circle cx="582.4" cy="367.3" r="5.9"/><circle cx="611.0" cy="359.5" r="5.9"/><circle cx="611.6" cy="361.4" r="5.9"/><circle cx="479.9" cy="367.1" r="5.9"/><circle cx="482.1" cy="364.8" r="5.9"/><circle cx="485.6" cy="363.6" r="5.9"/><circle cx="571.7" cy="365.0" r="5.9"/><circle cx="569.1" cy="367.2" r="5.9"/><circle cx="567.3" cy="368.8" r="5.9"/><circle cx="564.7" cy="370.3" r="5.9"/><circle cx="547.7" cy="335.6" r="5.9"/><circle cx="619.8" cy="335.7" r="5.9"/><circle cx="592.7" cy="318.6" r="5.9"/><circle cx="564.9" cy="312.6" r="5.9"/><circle cx="550.9" cy="343.9" r="5.9"/><circle cx="648.5" cy="348.4" r="5.9"/><circle cx="549.4" cy="278.7" r="5.9"/><circle cx="547.1" cy="280.4" r="5.9"/><circle cx="607.5" cy="342.1" r="5.9"/><circle cx="606.5" cy="340.1" r="5.9"/><circle cx="604.5" cy="336.6" r="5.9"/><circle cx="507.3" cy="321.6" r="5.9"/><circle cx="552.9" cy="312.9" r="5.9"/><circle cx="571.8" cy="371.9" r="5.9"/><circle cx="572.0" cy="374.6" r="5.9"/><circle cx="479.3" cy="353.2" r="5.9"/><circle cx="480.6" cy="354.3" r="5.9"/><circle cx="567.3" cy="279.9" r="5.9"/><circle cx="533.1" cy="389.0" r="5.9"/><circle cx="534.9" cy="391.3" r="5.9"/><circle cx="535.7" cy="394.2" r="5.9"/><circle cx="537.7" cy="396.2" r="5.9"/><circle cx="488.9" cy="334.5" r="5.9"/><circle cx="531.5" cy="408.1" r="5.9"/><circle cx="531.3" cy="410.2" r="5.9"/><circle cx="531.2" cy="413.8" r="5.9"/><circle cx="613.1" cy="284.3" r="5.9"/><circle cx="610.3" cy="286.8" r="5.9"/><circle cx="608.6" cy="289.1" r="5.9"/><circle cx="526.6" cy="328.0" r="5.9"/><circle cx="524.4" cy="330.6" r="5.9"/><circle cx="522.5" cy="332.5" r="5.9"/><circle cx="520.3" cy="335.0" r="5.9"/><circle cx="511.7" cy="374.3" r="5.9"/><circle cx="575.3" cy="306.4" r="5.9"/><circle cx="577.2" cy="308.6" r="5.9"/><circle cx="617.5" cy="327.8" r="5.9"/><circle cx="616.0" cy="326.0" r="5.9"/><circle cx="613.8" cy="324.6" r="5.9"/><circle cx="592.0" cy="375.7" r="5.9"/><circle cx="593.0" cy="378.5" r="5.9"/><circle cx="468.7" cy="351.9" r="5.9"/><circle cx="468.7" cy="355.2" r="5.9"/><circle cx="468.9" cy="358.5" r="5.9"/><circle cx="633.6" cy="361.8" r="5.9"/><circle cx="633.0" cy="363.9" r="5.9"/><circle cx="631.3" cy="367.2" r="5.9"/><circle cx="508.3" cy="294.9" r="5.9"/><circle cx="582.0" cy="357.6" r="5.9"/><circle cx="622.9" cy="297.3" r="5.9"/><circle cx="620.2" cy="297.5" r="5.9"/><circle cx="618.9" cy="297.7" r="5.9"/><circle cx="616.1" cy="297.7" r="5.9"/><circle cx="568.4" cy="319.2" r="5.9"/><circle cx="570.6" cy="318.8" r="5.9"/><circle cx="572.6" cy="319.7" r="5.9"/><circle cx="553.1" cy="329.3" r="5.9"/><circle cx="550.6" cy="328.1" r="5.9"/><circle cx="633.8" cy="318.9" r="5.9"/><circle cx="630.4" cy="318.3" r="5.9"/><circle cx="628.3" cy="318.3" r="5.9"/><circle cx="500.2" cy="339.5" r="5.9"/><circle cx="636.5" cy="350.0" r="5.9"/><circle cx="634.1" cy="348.6" r="5.9"/><circle cx="631.9" cy="345.7" r="5.9"/><circle cx="502.0" cy="370.0" r="5.9"/><circle cx="501.0" cy="373.2" r="5.9"/><circle cx="500.5" cy="376.6" r="5.9"/><circle cx="541.3" cy="327.6" r="5.9"/><circle cx="539.6" cy="329.4" r="5.9"/><circle cx="539.3" cy="331.9" r="5.9"/><circle cx="514.7" cy="359.8" r="5.9"/><circle cx="513.7" cy="362.3" r="5.9"/><circle cx="481.2" cy="329.0" r="5.9"/><circle cx="479.9" cy="330.2" r="5.9"/><circle cx="478.9" cy="332.6" r="5.9"/><circle cx="499.3" cy="366.0" r="5.9"/><circle cx="500.1" cy="363.4" r="5.9"/><circle cx="502.0" cy="360.5" r="5.9"/><circle cx="521.3" cy="351.4" r="5.9"/><circle cx="555.7" cy="298.2" r="5.9"/><circle cx="557.0" cy="300.9" r="5.9"/><circle cx="492.7" cy="383.9" r="5.9"/><circle cx="495.1" cy="383.1" r="5.9"/><circle cx="505.7" cy="400.6" r="5.9"/><circle cx="507.0" cy="398.0" r="5.9"/><circle cx="513.5" cy="323.5" r="5.9"/><circle cx="513.1" cy="326.2" r="5.9"/><circle cx="514.0" cy="329.0" r="5.9"/><circle cx="523.5" cy="405.8" r="5.9"/><circle cx="522.4" cy="403.3" r="5.9"/><circle cx="571.3" cy="343.8" r="5.9"/><circle cx="530.8" cy="418.0" r="5.9"/><circle cx="529.7" cy="420.4" r="5.9"/><circle cx="530.2" cy="423.6" r="5.9"/><circle cx="529.5" cy="425.6" r="5.9"/><circle cx="543.2" cy="310.2" r="5.9"/><circle cx="543.6" cy="313.3" r="5.9"/><circle cx="543.9" cy="316.2" r="5.9"/><circle cx="557.2" cy="380.6" r="5.9"/><circle cx="559.8" cy="382.6" r="5.9"/><circle cx="507.4" cy="289.4" r="5.9"/><circle cx="504.3" cy="288.9" r="5.9"/><circle cx="502.2" cy="287.1" r="5.9"/><circle cx="547.5" cy="277.6" r="5.9"/><circle cx="549.1" cy="275.8" r="5.9"/><circle cx="551.4" cy="272.8" r="5.9"/><circle cx="580.8" cy="319.7" r="5.9"/><circle cx="584.6" cy="288.3" r="5.9"/><circle cx="584.8" cy="285.6" r="5.9"/><circle cx="583.6" cy="282.7" r="5.9"/><circle cx="591.7" cy="302.7" r="5.9"/><circle cx="597.6" cy="293.3" r="5.9"/><circle cx="598.0" cy="290.9" r="5.9"/><circle cx="537.7" cy="386.3" r="5.9"/><circle cx="527.6" cy="265.7" r="5.9"/><circle cx="526.0" cy="267.8" r="5.9"/><circle cx="525.0" cy="270.7" r="5.9"/><circle cx="602.8" cy="376.5" r="5.9"/><circle cx="492.3" cy="361.7" r="5.9"/><circle cx="494.1" cy="362.9" r="5.9"/><circle cx="545.1" cy="298.2" r="5.9"/><circle cx="545.9" cy="300.2" r="5.9"/><circle cx="545.9" cy="303.2" r="5.9"/><circle cx="496.1" cy="290.5" r="5.9"/><circle cx="497.5" cy="293.6" r="5.9"/><circle cx="498.8" cy="296.1" r="5.9"/><circle cx="499.4" cy="298.7" r="5.9"/><circle cx="607.9" cy="355.7" r="5.9"/><circle cx="609.7" cy="353.0" r="5.9"/><circle cx="589.2" cy="308.7" r="5.9"/><circle cx="589.7" cy="310.8" r="5.9"/><circle cx="543.8" cy="369.0" r="5.9"/><circle cx="546.6" cy="367.2" r="5.9"/><circle cx="548.7" cy="366.7" r="5.9"/><circle cx="550.5" cy="364.5" r="5.9"/><circle cx="630.7" cy="294.6" r="5.9"/><circle cx="631.9" cy="297.7" r="5.9"/><circle cx="634.6" cy="299.8" r="5.9"/><circle cx="541.1" cy="263.0" r="5.9"/><circle cx="542.1" cy="266.4" r="5.9"/><circle cx="542.5" cy="269.0" r="5.9"/><circle cx="487.6" cy="347.0" r="5.9"/><circle cx="575.1" cy="331.1" r="5.9"/><circle cx="573.5" cy="328.0" r="5.9"/><circle cx="621.5" cy="363.8" r="5.9"/><circle cx="622.8" cy="362.0" r="5.9"/><circle cx="625.2" cy="360.5" r="5.9"/><circle cx="534.6" cy="395.5" r="5.9"/><circle cx="535.0" cy="398.1" r="5.9"/><circle cx="536.2" cy="401.9" r="5.9"/><circle cx="537.2" cy="405.0" r="5.9"/><circle cx="560.5" cy="363.0" r="5.9"/><circle cx="620.5" cy="320.1" r="5.9"/><circle cx="594.0" cy="334.6" r="5.9"/><circle cx="593.6" cy="337.8" r="5.9"/><circle cx="642.2" cy="316.0" r="5.9"/><circle cx="639.9" cy="317.6" r="5.9"/><circle cx="609.6" cy="340.2" r="5.9"/><circle cx="612.2" cy="339.1" r="5.9"/><circle cx="651.1" cy="325.4" r="5.9"/><circle cx="653.1" cy="327.6" r="5.9"/><circle cx="653.8" cy="329.4" r="5.9"/><circle cx="534.7" cy="295.2" r="5.9"/><circle cx="531.7" cy="297.3" r="5.9"/><circle cx="529.3" cy="298.3" r="5.9"/><circle cx="607.2" cy="283.9" r="5.9"/><circle cx="604.9" cy="282.8" r="5.9"/><circle cx="602.9" cy="283.1" r="5.9"/><circle cx="635.8" cy="336.1" r="5.9"/><circle cx="497.1" cy="312.9" r="5.9"/><circle cx="497.2" cy="314.6" r="5.9"/><circle cx="498.1" cy="317.6" r="5.9"/><circle cx="499.5" cy="319.6" r="5.9"/><circle cx="505.2" cy="365.3" r="5.9"/><circle cx="506.4" cy="367.9" r="5.9"/><circle cx="584.5" cy="293.6" r="5.9"/><circle cx="581.4" cy="291.7" r="5.9"/><circle cx="578.5" cy="291.0" r="5.9"/><circle cx="536.0" cy="360.6" r="5.9"/><circle cx="538.3" cy="358.5" r="5.9"/><circle cx="532.3" cy="374.5" r="5.9"/><circle cx="544.2" cy="382.9" r="5.9"/><circle cx="546.4" cy="381.6" r="5.9"/><circle cx="548.7" cy="381.1" r="5.9"/><circle cx="551.6" cy="379.4" r="5.9"/><circle cx="550.5" cy="328.6" r="5.9"/><circle cx="552.3" cy="330.6" r="5.9"/><circle cx="554.4" cy="332.4" r="5.9"/><circle cx="556.5" cy="334.9" r="5.9"/><circle cx="601.4" cy="318.6" r="5.9"/><circle cx="565.3" cy="359.4" r="5.9"/><circle cx="567.4" cy="361.0" r="5.9"/><circle cx="569.2" cy="362.1" r="5.9"/><circle cx="570.9" cy="364.3" r="5.9"/><circle cx="608.3" cy="362.8" r="5.9"/><circle cx="609.3" cy="365.9" r="5.9"/><circle cx="609.8" cy="369.3" r="5.9"/><circle cx="513.6" cy="339.7" r="5.9"/><circle cx="517.1" cy="341.2" r="5.9"/><circle cx="519.3" cy="343.1" r="5.9"/><circle cx="510.2" cy="382.6" r="5.9"/><circle cx="526.0" cy="321.4" r="5.9"/><circle cx="523.1" cy="322.4" r="5.9"/><circle cx="655.1" cy="362.5" r="5.9"/><circle cx="653.8" cy="363.5" r="5.9"/><circle cx="651.9" cy="365.5" r="5.9"/><circle cx="558.9" cy="278.1" r="5.9"/><circle cx="557.2" cy="278.4" r="5.9"/><circle cx="515.6" cy="398.1" r="5.9"/><circle cx="627.4" cy="349.4" r="5.9"/><circle cx="629.8" cy="351.8" r="5.9"/><circle cx="630.3" cy="353.7" r="5.9"/><circle cx="632.3" cy="355.8" r="5.9"/><circle cx="471.2" cy="355.6" r="5.9"/><circle cx="472.9" cy="357.9" r="5.9"/><circle cx="475.0" cy="360.7" r="5.9"/><circle cx="476.7" cy="362.2" r="5.9"/><circle cx="571.4" cy="302.5" r="5.9"/><circle cx="654.1" cy="334.3" r="5.9"/><circle cx="654.5" cy="336.8" r="5.9"/><circle cx="654.2" cy="339.4" r="5.9"/><circle cx="654.2" cy="342.2" r="5.9"/><circle cx="629.6" cy="342.5" r="5.9"/><circle cx="628.9" cy="341.0" r="5.9"/><circle cx="627.9" cy="338.7" r="5.9"/><circle cx="517.0" cy="419.1" r="5.9"/><circle cx="566.1" cy="395.0" r="5.9"/><circle cx="552.4" cy="395.0" r="5.9"/><circle cx="561.9" cy="414.0" r="5.9"/><circle cx="556.6" cy="421.4" r="5.9"/><circle cx="554.5" cy="426.1" r="5.9"/><circle cx="582.0" cy="393.9" r="5.9"/><circle cx="593.6" cy="396.0" r="5.9"/><circle cx="601.0" cy="404.5" r="5.9"/><circle cx="586.2" cy="414.0" r="5.9"/><circle cx="597.9" cy="418.3" r="5.9"/><circle cx="609.5" cy="413.0" r="5.9"/><circle cx="618.0" cy="399.2" r="5.9"/><circle cx="611.6" cy="396.0" r="5.9"/><circle cx="625.4" cy="413.0" r="5.9"/><circle cx="628.5" cy="406.6" r="5.9"/><circle cx="631.7" cy="378.0" r="5.9"/><circle cx="631.7" cy="389.7" r="5.9"/><circle cx="644.4" cy="393.9" r="5.9"/><circle cx="653.9" cy="391.8" r="5.9"/><circle cx="639.1" cy="387.6" r="5.9"/><circle cx="590.4" cy="406.6" r="5.9"/><circle cx="603.1" cy="413.0" r="5.9"/></g>
<g fill="#00FFFF"><circle cx="721.7" cy="323.9" r="5.9"/><circle cx="712.5" cy="323.1" r="5.9"/><circle cx="727.0" cy="320.4" r="5.9"/><circle cx="791.8" cy="315.1" r="5.9"/><circle cx="797.1" cy="315.7" r="5.9"/><circle cx="784.5" cy="381.7" r="5.9"/><circle cx="785.6" cy="378.9" r="5.9"/><circle cx="785.8" cy="375.6" r="5.9"/><circle cx="865.6" cy="386.1" r="5.9"/><circle cx="863.7" cy="389.2" r="5.9"/><circle cx="861.9" cy="391.6" r="5.9"/><circle cx="820.4" cy="327.4" r="5.9"/><circle cx="821.7" cy="326.0" r="5.9"/><circle cx="823.7" cy="324.0" r="5.9"/><circle cx="824.6" cy="322.1" r="5.9"/><circle cx="726.2" cy="389.9" r="5.9"/><circle cx="728.2" cy="387.8" r="5.9"/><circle cx="729.7" cy="386.0" r="5.9"/><circle cx="732.5" cy="383.8" r="5.9"/><circle cx="793.3" cy="334.1" r="5.9"/><circle cx="794.4" cy="336.9" r="5.9"/><circle cx="794.7" cy="340.1" r="5.9"/><circle cx="802.6" cy="428.5" r="5.9"/><circle cx="805.6" cy="428.1" r="5.9"/><circle cx="846.2" cy="350.7" r="5.9"/><circle cx="849.9" cy="352.3" r="5.9"/><circle cx="852.1" cy="354.5" r="5.9"/><circle cx="833.4" cy="414.9" r="5.9"/><circle cx="835.0" cy="416.8" r="5.9"/><circle cx="836.6" cy="418.5" r="5.9"/><circle cx="750.4" cy="383.2" r="5.9"/><circle cx="748.3" cy="382.9" r="5.9"/><circle cx="745.0" cy="384.1" r="5.9"/><circle cx="774.6" cy="375.9" r="5.9"/><circle cx="774.6" cy="372.4" r="5.9"/><circle cx="774.6" cy="369.7" r="5.9"/><circle cx="774.0" cy="366.5" r="5.9"/><circle cx="754.3" cy="398.7" r="5.9"/><circle cx="757.3" cy="400.6" r="5.9"/><circle cx="763.0" cy="333.5" r="5.9"/><circle cx="761.2" cy="331.4" r="5.9"/><circle cx="759.2" cy="329.0" r="5.9"/><circle cx="763.2" cy="382.7" r="5.9"/><circle cx="760.7" cy="380.7" r="5.9"/><circle cx="799.9" cy="412.5" r="5.9"/><circle cx="799.7" cy="410.0" r="5.9"/><circle cx="771.0" cy="342.5" r="5.9"/><circle cx="772.6" cy="342.9" r="5.9"/><circle cx="775.4" cy="342.6" r="5.9"/><circle cx="771.4" cy="409.1" r="5.9"/><circle cx="774.3" cy="408.1" r="5.9"/><circle cx="776.3" cy="407.1" r="5.9"/><circle cx="755.2" cy="391.9" r="5.9"/><circle cx="788.3" cy="412.5" r="5.9"/><circle cx="710.6" cy="373.4" r="5.9"/><circle cx="727.4" cy="374.7" r="5.9"/><circle cx="729.7" cy="375.0" r="5.9"/><circle cx="733.5" cy="374.8" r="5.9"/><circle cx="812.0" cy="392.4" r="5.9"/><circle cx="810.4" cy="331.9" r="5.9"/><circle cx="811.7" cy="334.2" r="5.9"/><circle cx="815.3" cy="334.0" r="5.9"/><circle cx="817.9" cy="332.7" r="5.9"/><circle cx="820.7" cy="332.1" r="5.9"/><circle cx="811.7" cy="341.6" r="5.9"/><circle cx="808.5" cy="340.3" r="5.9"/><circle cx="807.2" cy="340.9" r="5.9"/><circle cx="804.7" cy="340.5" r="5.9"/><circle cx="758.2" cy="319.4" r="5.9"/><circle cx="841.4" cy="411.8" r="5.9"/><circle cx="748.1" cy="327.2" r="5.9"/><circle cx="749.1" cy="329.3" r="5.9"/><circle cx="789.5" cy="424.2" r="5.9"/><circle cx="790.5" cy="422.5" r="5.9"/><circle cx="791.8" cy="419.9" r="5.9"/><circle cx="775.4" cy="327.3" r="5.9"/><circle cx="788.6" cy="357.7" r="5.9"/><circle cx="788.1" cy="360.6" r="5.9"/><circle cx="787.7" cy="363.3" r="5.9"/><circle cx="855.3" cy="380.3" r="5.9"/><circle cx="853.3" cy="378.9" r="5.9"/><circle cx="835.4" cy="329.8" r="5.9"/><circle cx="837.9" cy="330.6" r="5.9"/><circle cx="873.9" cy="389.8" r="5.9"/><circle cx="872.1" cy="388.1" r="5.9"/><circle cx="739.1" cy="393.5" r="5.9"/><circle cx="740.1" cy="395.9" r="5.9"/><circle cx="741.1" cy="399.3" r="5.9"/><circle cx="787.4" cy="398.5" r="5.9"/><circle cx="842.8" cy="387.7" r="5.9"/><circle cx="845.9" cy="388.5" r="5.9"/><circle cx="849.2" cy="389.0" r="5.9"/><circle cx="851.7" cy="390.0" r="5.9"/><circle cx="866.3" cy="366.2" r="5.9"/><circle cx="864.9" cy="368.7" r="5.9"/><circle cx="862.5" cy="370.7" r="5.9"/><circle cx="860.8" cy="372.5" r="5.9"/><circle cx="782.4" cy="355.6" r="5.9"/><circle cx="865.1" cy="408.6" r="5.9"/><circle cx="866.2" cy="411.0" r="5.9"/><circle cx="867.4" cy="413.4" r="5.9"/><circle cx="869.3" cy="416.0" r="5.9"/><circle cx="764.8" cy="361.6" r="5.9"/><circle cx="767.0" cy="358.6" r="5.9"/><circle cx="852.7" cy="395.5" r="5.9"/><circle cx="854.3" cy="397.7" r="5.9"/><circle cx="855.8" cy="401.7" r="5.9"/><circle cx="856.4" cy="404.3" r="5.9"/><circle cx="805.4" cy="381.0" r="5.9"/><circle cx="803.1" cy="379.2" r="5.9"/><circle cx="794.6" cy="398.0" r="5.9"/><circle cx="795.0" cy="400.4" r="5.9"/><circle cx="796.7" cy="401.9" r="5.9"/><circle cx="800.4" cy="330.2" r="5.9"/><circle cx="802.5" cy="331.5" r="5.9"/><circle cx="833.4" cy="323.3" r="5.9"/><circle cx="832.2" cy="324.9" r="5.9"/><circle cx="829.8" cy="326.9" r="5.9"/><circle cx="829.0" cy="329.0" r="5.9"/><circle cx="843.6" cy="390.3" r="5.9"/><circle cx="843.9" cy="392.8" r="5.9"/><circle cx="864.1" cy="422.1" r="5.9"/><circle cx="861.9" cy="419.8" r="5.9"/><circle cx="764.3" cy="380.4" r="5.9"/><circle cx="766.7" cy="382.0" r="5.9"/><circle cx="769.9" cy="383.9" r="5.9"/><circle cx="772.1" cy="386.6" r="5.9"/><circle cx="877.6" cy="401.9" r="5.9"/><circle cx="875.8" cy="399.4" r="5.9"/><circle cx="775.6" cy="398.9" r="5.9"/><circle cx="772.8" cy="399.3" r="5.9"/><circle cx="834.7" cy="427.0" r="5.9"/><circle cx="819.9" cy="374.9" r="5.9"/><circle cx="820.0" cy="377.2" r="5.9"/><circle cx="819.6" cy="380.0" r="5.9"/><circle cx="835.0" cy="346.1" r="5.9"/><circle cx="835.0" cy="344.2" r="5.9"/><circle cx="835.0" cy="341.9" r="5.9"/><circle cx="780.4" cy="340.5" r="5.9"/><circle cx="781.1" cy="338.4" r="5.9"/><circle cx="782.8" cy="335.6" r="5.9"/><circle cx="828.1" cy="418.6" r="5.9"/><circle cx="820.7" cy="366.7" r="5.9"/><circle cx="818.9" cy="367.3" r="5.9"/><circle cx="755.0" cy="354.2" r="5.9"/><circle cx="755.0" cy="357.1" r="5.9"/><circle cx="782.1" cy="347.1" r="5.9"/><circle cx="827.2" cy="388.7" r="5.9"/><circle cx="828.5" cy="391.2" r="5.9"/><circle cx="829.5" cy="393.3" r="5.9"/><circle cx="838.4" cy="394.0" r="5.9"/><circle cx="838.7" cy="396.4" r="5.9"/><circle cx="838.7" cy="399.7" r="5.9"/><circle cx="782.0" cy="391.7" r="5.9"/><circle cx="850.6" cy="343.2" r="5.9"/><circle cx="848.2" cy="343.1" r="5.9"/><circle cx="731.6" cy="392.1" r="5.9"/><circle cx="865.1" cy="383.4" r="5.9"/><circle cx="864.2" cy="381.1" r="5.9"/><circle cx="807.6" cy="401.9" r="5.9"/><circle cx="879.1" cy="414.9" r="5.9"/><circle cx="881.3" cy="413.6" r="5.9"/><circle cx="883.4" cy="411.4" r="5.9"/><circle cx="828.8" cy="367.1" r="5.9"/><circle cx="826.5" cy="364.5" r="5.9"/><circle cx="865.0" cy="360.3" r="5.9"/><circle cx="863.3" cy="362.4" r="5.9"/><circle cx="861.4" cy="363.9" r="5.9"/><circle cx="849.4" cy="370.3" r="5.9"/><circle cx="794.7" cy="374.8" r="5.9"/><circle cx="796.7" cy="373.6" r="5.9"/><circle cx="816.3" cy="393.9" r="5.9"/><circle cx="818.6" cy="391.7" r="5.9"/><circle cx="820.7" cy="389.7" r="5.9"/><circle cx="822.7" cy="388.1" r="5.9"/><circle cx="813.7" cy="377.8" r="5.9"/><circle cx="811.9" cy="374.8" r="5.9"/><circle cx="811.2" cy="372.0" r="5.9"/><circle cx="839.7" cy="371.1" r="5.9"/><circle cx="840.6" cy="368.4" r="5.9"/><circle cx="841.7" cy="366.7" r="5.9"/><circle cx="771.3" cy="354.3" r="5.9"/><circle cx="768.3" cy="354.3" r="5.9"/><circle cx="765.4" cy="353.3" r="5.9"/><circle cx="762.0" cy="352.3" r="5.9"/><circle cx="828.9" cy="378.9" r="5.9"/><circle cx="829.1" cy="375.7" r="5.9"/><circle cx="776.2" cy="415.5" r="5.9"/><circle cx="721.7" cy="370.2" r="5.9"/><circle cx="743.1" cy="363.8" r="5.9"/><circle cx="744.2" cy="362.0" r="5.9"/><circle cx="745.4" cy="359.2" r="5.9"/><circle cx="746.0" cy="356.7" r="5.9"/><circle cx="813.8" cy="415.9" r="5.9"/><circle cx="747.6" cy="316.0" r="5.9"/><circle cx="747.3" cy="318.5" r="5.9"/><circle cx="747.5" cy="320.6" r="5.9"/><circle cx="773.6" cy="374.7" r="5.9"/><circle cx="772.7" cy="378.4" r="5.9"/><circle cx="854.6" cy="407.0" r="5.9"/><circle cx="854.0" cy="409.0" r="5.9"/><circle cx="851.8" cy="411.2" r="5.9"/><circle cx="788.5" cy="335.2" r="5.9"/><circle cx="789.9" cy="333.6" r="5.9"/><circle cx="792.2" cy="331.3" r="5.9"/><circle cx="773.0" cy="399.8" r="5.9"/><circle cx="770.9" cy="401.3" r="5.9"/><circle cx="768.5" cy="403.1" r="5.9"/><circle cx="765.9" cy="405.2" r="5.9"/><circle cx="817.0" cy="340.7" r="5.9"/><circle cx="753.9" cy="346.3" r="5.9"/><circle cx="753.4" cy="343.4" r="5.9"/><circle cx="753.5" cy="340.8" r="5.9"/><circle cx="753.9" cy="338.5" r="5.9"/><circle cx="835.9" cy="325.0" r="5.9"/><circle cx="834.2" cy="322.4" r="5.9"/><circle cx="717.7" cy="395.1" r="5.9"/><circle cx="810.9" cy="378.7" r="5.9"/><circle cx="811.8" cy="381.4" r="5.9"/><circle cx="812.1" cy="383.6" r="5.9"/><circle cx="767.5" cy="375.4" r="5.9"/><circle cx="766.4" cy="372.5" r="5.9"/><circle cx="773.7" cy="412.2" r="5.9"/><circle cx="771.2" cy="413.4" r="5.9"/><circle cx="769.0" cy="415.3" r="5.9"/><circle cx="766.3" cy="415.9" r="5.9"/><circle cx="752.8" cy="374.0" r="5.9"/><circle cx="752.5" cy="376.7" r="5.9"/><circle cx="751.8" cy="379.1" r="5.9"/><circle cx="823.2" cy="351.6" r="5.9"/><circle cx="824.9" cy="347.8" r="5.9"/><circle cx="825.7" cy="345.5" r="5.9"/><circle cx="826.4" cy="342.0" r="5.9"/><circle cx="766.1" cy="384.5" r="5.9"/><circle cx="765.4" cy="387.5" r="5.9"/><circle cx="764.4" cy="390.9" r="5.9"/><circle cx="764.1" cy="393.4" r="5.9"/><circle cx="776.7" cy="319.8" r="5.9"/><circle cx="772.9" cy="319.0" r="5.9"/><circle cx="770.3" cy="319.1" r="5.9"/><circle cx="757.4" cy="342.1" r="5.9"/><circle cx="755.6" cy="343.8" r="5.9"/><circle cx="754.9" cy="346.4" r="5.9"/><circle cx="753.2" cy="348.8" r="5.9"/><circle cx="857.1" cy="364.6" r="5.9"/><circle cx="858.6" cy="361.4" r="5.9"/><circle cx="859.3" cy="358.4" r="5.9"/><circle cx="860.7" cy="355.0" r="5.9"/><circle cx="806.0" cy="396.6" r="5.9"/><circle cx="803.7" cy="395.4" r="5.9"/><circle cx="801.5" cy="394.4" r="5.9"/><circle cx="853.3" cy="346.8" r="5.9"/><circle cx="856.0" cy="346.6" r="5.9"/><circle cx="805.7" cy="408.7" r="5.9"/><circle cx="808.3" cy="407.9" r="5.9"/><circle cx="811.3" cy="407.2" r="5.9"/><circle cx="815.0" cy="406.4" r="5.9"/><circle cx="850.1" cy="398.6" r="5.9"/><circle cx="746.9" cy="379.4" r="5.9"/><circle cx="745.3" cy="377.7" r="5.9"/><circle cx="744.1" cy="375.5" r="5.9"/><circle cx="771.4" cy="345.7" r="5.9"/><circle cx="769.1" cy="348.2" r="5.9"/><circle cx="712.0" cy="379.6" r="5.9"/><circle cx="713.1" cy="381.9" r="5.9"/><circle cx="729.5" cy="367.9" r="5.9"/><circle cx="844.1" cy="408.9" r="5.9"/><circle cx="844.4" cy="411.6" r="5.9"/><circle cx="845.0" cy="414.8" r="5.9"/><circle cx="845.5" cy="418.7" r="5.9"/><circle cx="832.8" cy="409.9" r="5.9"/><circle cx="877.4" cy="417.2" r="5.9"/><circle cx="859.6" cy="411.0" r="5.9"/><circle cx="862.4" cy="411.7" r="5.9"/><circle cx="836.8" cy="317.0" r="5.9"/><circle cx="834.7" cy="316.0" r="5.9"/><circle cx="832.9" cy="314.9" r="5.9"/><circle cx="830.4" cy="314.8" r="5.9"/><circle cx="838.0" cy="342.8" r="5.9"/><circle cx="840.3" cy="346.2" r="5.9"/><circle cx="842.2" cy="348.4" r="5.9"/><circle cx="834.4" cy="388.2" r="5.9"/><circle cx="836.4" cy="388.9" r="5.9"/><circle cx="879.0" cy="403.4" r="5.9"/><circle cx="882.0" cy="402.8" r="5.9"/><circle cx="884.6" cy="402.7" r="5.9"/><circle cx="777.9" cy="416.1" r="5.9"/><circle cx="780.0" cy="419.1" r="5.9"/><circle cx="781.9" cy="421.6" r="5.9"/><circle cx="684.7" cy="386.6" r="5.9"/><circle cx="678.1" cy="401.1" r="5.9"/><circle cx="684.7" cy="397.1" r="5.9"/><circle cx="682.0" cy="379.9" r="5.9"/><circle cx="797.1" cy="342.9" r="5.9"/><circle cx="806.4" cy="331.0" r="5.9"/><circle cx="691.7" cy="445.6" r="5.9"/><circle cx="694.5" cy="443.2" r="5.9"/><circle cx="696.4" cy="441.7" r="5.9"/><circle cx="722.8" cy="424.4" r="5.9"/><circle cx="721.1" cy="422.3" r="5.9"/><circle cx="737.5" cy="423.8" r="5.9"/><circle cx="735.8" cy="425.5" r="5.9"/><circle cx="733.6" cy="428.1" r="5.9"/><circle cx="739.3" cy="438.3" r="5.9"/><circle cx="704.9" cy="441.6" r="5.9"/><circle cx="709.1" cy="440.8" r="5.9"/><circle cx="711.8" cy="439.4" r="5.9"/><circle cx="749.8" cy="436.3" r="5.9"/><circle cx="750.0" cy="459.7" r="5.9"/><circle cx="749.9" cy="462.5" r="5.9"/><circle cx="749.9" cy="466.0" r="5.9"/><circle cx="756.2" cy="442.5" r="5.9"/><circle cx="764.5" cy="466.2" r="5.9"/><circle cx="706.7" cy="433.9" r="5.9"/><circle cx="708.3" cy="432.0" r="5.9"/><circle cx="731.2" cy="434.5" r="5.9"/><circle cx="730.9" cy="437.5" r="5.9"/><circle cx="730.3" cy="440.1" r="5.9"/><circle cx="781.5" cy="467.8" r="5.9"/><circle cx="738.3" cy="444.3" r="5.9"/><circle cx="738.1" cy="447.9" r="5.9"/><circle cx="737.0" cy="451.0" r="5.9"/><circle cx="705.6" cy="420.2" r="5.9"/><circle cx="709.2" cy="420.3" r="5.9"/><circle cx="711.3" cy="419.9" r="5.9"/><circle cx="776.6" cy="474.1" r="5.9"/><circle cx="773.0" cy="472.5" r="5.9"/><circle cx="700.3" cy="424.6" r="5.9"/><circle cx="702.3" cy="424.5" r="5.9"/><circle cx="695.4" cy="430.4" r="5.9"/><circle cx="706.5" cy="451.6" r="5.9"/><circle cx="741.9" cy="461.2" r="5.9"/><circle cx="771.2" cy="470.1" r="5.9"/><circle cx="772.2" cy="468.0" r="5.9"/><circle cx="772.7" cy="465.9" r="5.9"/><circle cx="774.4" cy="463.5" r="5.9"/><circle cx="680.7" cy="430.9" r="5.9"/><circle cx="683.2" cy="430.4" r="5.9"/><circle cx="685.1" cy="429.4" r="5.9"/><circle cx="738.2" cy="428.2" r="5.9"/><circle cx="741.1" cy="426.8" r="5.9"/><circle cx="743.1" cy="425.5" r="5.9"/><circle cx="714.5" cy="450.9" r="5.9"/><circle cx="715.4" cy="448.2" r="5.9"/><circle cx="763.6" cy="466.2" r="5.9"/><circle cx="764.3" cy="463.1" r="5.9"/><circle cx="766.0" cy="460.9" r="5.9"/><circle cx="767.7" cy="458.1" r="5.9"/><circle cx="711.6" cy="459.5" r="5.9"/><circle cx="712.6" cy="456.9" r="5.9"/><circle cx="757.8" cy="460.8" r="5.9"/><circle cx="762.5" cy="451.6" r="5.9"/><circle cx="764.6" cy="450.0" r="5.9"/><circle cx="761.4" cy="428.9" r="5.9"/><circle cx="764.0" cy="426.2" r="5.9"/><circle cx="801.1" cy="467.2" r="5.9"/><circle cx="803.7" cy="479.2" r="5.9"/><circle cx="798.4" cy="475.2" r="5.9"/></g>
<g fill="#800080"><circle cx="663.1" cy="354.9" r="5.9"/><circle cx="689.3" cy="377.0" r="5.9"/><circle cx="686.2" cy="376.0" r="5.9"/><circle cx="682.1" cy="376.1" r="5.9"/><circle cx="679.4" cy="375.7" r="5.9"/><circle cx="650.7" cy="389.1" r="5.9"/><circle cx="649.0" cy="392.1" r="5.9"/><circle cx="648.0" cy="395.5" r="5.9"/><circle cx="670.4" cy="383.5" r="5.9"/><circle cx="672.9" cy="386.3" r="5.9"/><circle cx="674.0" cy="350.0" r="5.9"/><circle cx="675.0" cy="353.7" r="5.9"/><circle cx="674.9" cy="356.9" r="5.9"/><circle cx="664.5" cy="370.6" r="5.9"/><circle cx="663.0" cy="372.2" r="5.9"/><circle cx="662.2" cy="374.4" r="5.9"/><circle cx="658.8" cy="404.5" r="5.9"/><circle cx="658.7" cy="402.3" r="5.9"/><circle cx="658.8" cy="399.7" r="5.9"/><circle cx="660.0" cy="347.5" r="5.9"/><circle cx="658.5" cy="344.7" r="5.9"/><circle cx="668.8" cy="367.1" r="5.9"/><circle cx="655.6" cy="381.3" r="5.9"/><circle cx="658.1" cy="362.1" r="5.9"/><circle cx="676.5" cy="358.0" r="5.9"/><circle cx="678.4" cy="357.5" r="5.9"/><circle cx="680.2" cy="357.1" r="5.9"/><circle cx="683.0" cy="356.8" r="5.9"/><circle cx="666.3" cy="391.5" r="5.9"/><circle cx="667.5" cy="394.8" r="5.9"/><circle cx="668.7" cy="396.6" r="5.9"/><circle cx="680.1" cy="372.1" r="5.9"/><circle cx="678.6" cy="369.4" r="5.9"/><circle cx="676.9" cy="367.0" r="5.9"/><circle cx="668.7" cy="338.9" r="5.9"/><circle cx="665.4" cy="337.9" r="5.9"/><circle cx="662.2" cy="336.4" r="5.9"/><circle cx="658.7" cy="335.9" r="5.9"/><circle cx="670.5" cy="377.3" r="5.9"/><circle cx="670.3" cy="348.8" r="5.9"/></g>
</g>
<g stroke="#000" stroke-width="2.2" fill="none">
<rect x="144.9" y="17.3" width="781.6" height="761.2"/>
<line x1="271.1" y1="778.5" x2="271.1" y2="788.2"/><line x1="424.4" y1="778.5" x2="424.4" y2="788.2"/><line x1="577.7" y1="778.5" x2="577.7" y2="788.2"/><line x1="731.0" y1="778.5" x2="731.0" y2="788.2"/><line x1="884.3" y1="778.5" x2="884.3" y2="788.2"/>
<line x1="135.2" y1="57.9" x2="144.9" y2="57.9"/><line x1="135.2" y1="204.3" x2="144.9" y2="204.3"/><line x1="135.2" y1="350.8" x2="144.9" y2="350.8"/><line x1="135.2" y1="497.2" x2="144.9" y2="497.2"/><line x1="135.2" y1="643.6" x2="144.9" y2="643.6"/>
</g>
<g class="tk">
<text x="271.1" y="823.6" text-anchor="middle" textLength="52.6" lengthAdjust="spacingAndGlyphs">0.2</text><text x="424.4" y="823.6" text-anchor="middle" textLength="52.6" lengthAdjust="spacingAndGlyphs">0.4</text><text x="577.7" y="823.6" text-anchor="middle" textLength="52.6" lengthAdjust="spacingAndGlyphs">0.6</text><text x="731.0" y="823.6" text-anchor="middle" textLength="52.6" lengthAdjust="spacingAndGlyphs">0.8</text><text x="884.3" y="823.6" text-anchor="middle" textLength="52.6" lengthAdjust="spacingAndGlyphs">1.0</text>
<text x="124.4" y="71.1" text-anchor="end" textLength="52.6" lengthAdjust="spacingAndGlyphs">1.0</text><text x="124.4" y="217.5" text-anchor="end" textLength="52.6" lengthAdjust="spacingAndGlyphs">0.8</text><text x="124.4" y="364.0" text-anchor="end" textLength="52.6" lengthAdjust="spacingAndGlyphs">0.6</text><text x="124.4" y="510.4" text-anchor="end" textLength="52.6" lengthAdjust="spacingAndGlyphs">0.4</text><text x="124.4" y="656.8" text-anchor="end" textLength="52.6" lengthAdjust="spacingAndGlyphs">0.2</text>
</g>
<text class="lb" x="509.5" y="873.4">V<tspan class="sb" dy="7.1" dx="-1.5">1</tspan></text>
<text class="lb" transform="translate(51.8 424) rotate(-90)">V<tspan class="sb" dy="7.1" dx="-1.5">2</tspan></text>
</svg>
</body></html>
